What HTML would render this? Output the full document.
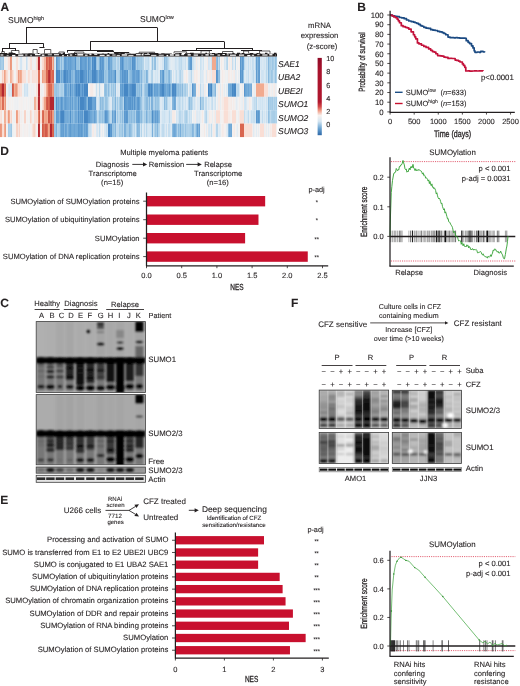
<!DOCTYPE html>
<html><head><meta charset="utf-8"><title>SUMO figure</title>
<style>
html,body{margin:0;padding:0;background:#fff;width:520px;height:686px;overflow:hidden;}
svg{display:block;will-change:transform;}
text{font-family:"Liberation Sans",sans-serif;fill:#231f20;stroke:#231f20;stroke-width:0.1px;text-rendering:geometricPrecision;}
.cd{stroke-width:0.3px;}
</style></head>
<body>
<svg width="520" height="686" viewBox="0 0 520 686">
<defs><filter id="bl4" x="-5%" y="-5%" width="110%" height="110%"><feGaussianBlur stdDeviation="0.4"/></filter><filter id="bl5" x="-5%" y="-5%" width="110%" height="110%"><feGaussianBlur stdDeviation="0.5"/></filter><filter id="bl6" x="-5%" y="-5%" width="110%" height="110%"><feGaussianBlur stdDeviation="0.6"/></filter><filter id="bl7" x="-5%" y="-5%" width="110%" height="110%"><feGaussianBlur stdDeviation="0.7"/></filter><filter id="bl8" x="-5%" y="-5%" width="110%" height="110%"><feGaussianBlur stdDeviation="0.8"/></filter><filter id="bl10" x="-5%" y="-5%" width="110%" height="110%"><feGaussianBlur stdDeviation="1.0"/></filter><filter id="bl12" x="-5%" y="-5%" width="110%" height="110%"><feGaussianBlur stdDeviation="1.2"/></filter><filter id="bl14" x="-5%" y="-5%" width="110%" height="110%"><feGaussianBlur stdDeviation="1.4"/></filter></defs>
<rect x="0" y="0" width="520" height="686" fill="#fff"/>
<rect x="0.00" y="56.60" width="1.08" height="13.48" fill="#9ac4e3"/>
<rect x="1.00" y="56.60" width="1.08" height="13.48" fill="#a9cee7"/>
<rect x="2.00" y="56.60" width="1.08" height="13.48" fill="#a8cde7"/>
<rect x="3.00" y="56.60" width="1.08" height="13.48" fill="#9ac4e3"/>
<rect x="4.00" y="56.60" width="1.08" height="13.48" fill="#f4eeec"/>
<rect x="5.00" y="56.60" width="1.08" height="13.48" fill="#f4edeb"/>
<rect x="6.00" y="56.60" width="1.08" height="13.48" fill="#eff0f2"/>
<rect x="7.00" y="56.60" width="1.08" height="13.48" fill="#f4edeb"/>
<rect x="8.00" y="56.60" width="1.08" height="13.48" fill="#f9dfd7"/>
<rect x="9.00" y="56.60" width="1.08" height="13.48" fill="#f9ded5"/>
<rect x="10.00" y="56.60" width="1.08" height="13.48" fill="#ea967c"/>
<rect x="11.00" y="56.60" width="1.08" height="13.48" fill="#ec9c82"/>
<rect x="12.00" y="56.60" width="1.08" height="13.48" fill="#eef0f2"/>
<rect x="13.00" y="56.60" width="1.08" height="13.48" fill="#f2f2f2"/>
<rect x="14.00" y="56.60" width="1.08" height="13.48" fill="#f3f2f2"/>
<rect x="15.00" y="56.60" width="1.08" height="13.48" fill="#f1f1f2"/>
<rect x="16.00" y="56.60" width="1.08" height="13.48" fill="#f8e2da"/>
<rect x="17.00" y="56.60" width="1.08" height="13.48" fill="#f8e0d8"/>
<rect x="18.00" y="56.60" width="1.08" height="13.48" fill="#f4f0ef"/>
<rect x="19.00" y="56.60" width="1.08" height="13.48" fill="#eceff2"/>
<rect x="20.00" y="56.60" width="1.08" height="13.48" fill="#d5e6f3"/>
<rect x="21.00" y="56.60" width="1.08" height="13.48" fill="#d3e5f3"/>
<rect x="22.00" y="56.60" width="1.08" height="13.48" fill="#eceff2"/>
<rect x="23.00" y="56.60" width="1.08" height="13.48" fill="#f0f1f2"/>
<rect x="24.00" y="56.60" width="1.08" height="13.48" fill="#f3f1f0"/>
<rect x="25.00" y="56.60" width="1.08" height="13.48" fill="#f3f2f2"/>
<rect x="26.00" y="56.60" width="1.08" height="13.48" fill="#cae0f0"/>
<rect x="27.00" y="56.60" width="1.08" height="13.48" fill="#dce9f3"/>
<rect x="28.00" y="56.60" width="1.08" height="13.48" fill="#f4efee"/>
<rect x="29.00" y="56.60" width="1.08" height="13.48" fill="#f4edeb"/>
<rect x="30.00" y="56.60" width="1.08" height="13.48" fill="#f8e3dc"/>
<rect x="31.00" y="56.60" width="1.08" height="13.48" fill="#f8e1d9"/>
<rect x="32.00" y="56.60" width="1.08" height="13.48" fill="#eceff2"/>
<rect x="33.00" y="56.60" width="1.08" height="13.48" fill="#f4efee"/>
<rect x="34.00" y="56.60" width="1.08" height="13.48" fill="#eff1f2"/>
<rect x="35.00" y="56.60" width="1.08" height="13.48" fill="#edf0f2"/>
<rect x="36.00" y="56.60" width="1.08" height="13.48" fill="#f9dfd6"/>
<rect x="37.00" y="56.60" width="1.08" height="13.48" fill="#f7d1c4"/>
<rect x="38.00" y="56.60" width="1.08" height="13.48" fill="#b3262f"/>
<rect x="39.00" y="56.60" width="1.08" height="13.48" fill="#b92f34"/>
<rect x="40.00" y="56.60" width="1.08" height="13.48" fill="#eef0f2"/>
<rect x="41.00" y="56.60" width="1.08" height="13.48" fill="#f4eeec"/>
<rect x="42.00" y="56.60" width="1.08" height="13.48" fill="#f9dcd2"/>
<rect x="43.00" y="56.60" width="1.08" height="13.48" fill="#f8d8cd"/>
<rect x="44.00" y="56.60" width="1.08" height="13.48" fill="#f3b7a0"/>
<rect x="45.00" y="56.60" width="1.08" height="13.48" fill="#f3b8a2"/>
<rect x="46.00" y="56.60" width="1.08" height="13.48" fill="#d55e4b"/>
<rect x="47.00" y="56.60" width="1.08" height="13.48" fill="#da6852"/>
<rect x="48.00" y="56.60" width="1.08" height="13.48" fill="#df775f"/>
<rect x="49.00" y="56.60" width="1.08" height="13.48" fill="#cf5447"/>
<rect x="50.00" y="56.60" width="1.08" height="13.48" fill="#d6604c"/>
<rect x="51.00" y="56.60" width="1.08" height="13.48" fill="#d25a49"/>
<rect x="52.00" y="56.60" width="1.08" height="13.48" fill="#f3b7a0"/>
<rect x="53.00" y="56.60" width="1.08" height="13.48" fill="#ec9b81"/>
<rect x="54.00" y="56.60" width="1.08" height="13.48" fill="#cae0f0"/>
<rect x="55.00" y="56.60" width="1.08" height="13.48" fill="#dae8f3"/>
<rect x="56.00" y="56.60" width="1.08" height="13.48" fill="#5a97cd"/>
<rect x="57.00" y="56.60" width="1.08" height="13.48" fill="#6ca6d6"/>
<rect x="58.00" y="56.60" width="1.08" height="13.48" fill="#7aafda"/>
<rect x="59.00" y="56.60" width="1.08" height="13.48" fill="#7fb2db"/>
<rect x="60.00" y="56.60" width="1.08" height="13.48" fill="#acd0e8"/>
<rect x="61.00" y="56.60" width="1.08" height="13.48" fill="#8bbadf"/>
<rect x="62.00" y="56.60" width="1.08" height="13.48" fill="#add0e9"/>
<rect x="63.00" y="56.60" width="1.08" height="13.48" fill="#9ec7e4"/>
<rect x="64.00" y="56.60" width="1.08" height="13.48" fill="#639ed2"/>
<rect x="65.00" y="56.60" width="1.08" height="13.48" fill="#609cd0"/>
<rect x="66.00" y="56.60" width="1.08" height="13.48" fill="#6aa4d5"/>
<rect x="67.00" y="56.60" width="1.08" height="13.48" fill="#75abd8"/>
<rect x="68.00" y="56.60" width="1.08" height="13.48" fill="#64a0d2"/>
<rect x="69.00" y="56.60" width="1.08" height="13.48" fill="#6ba4d5"/>
<rect x="70.00" y="56.60" width="1.08" height="13.48" fill="#629ed1"/>
<rect x="71.00" y="56.60" width="1.08" height="13.48" fill="#6ca5d6"/>
<rect x="72.00" y="56.60" width="1.08" height="13.48" fill="#72a9d7"/>
<rect x="73.00" y="56.60" width="1.08" height="13.48" fill="#77add9"/>
<rect x="74.00" y="56.60" width="1.08" height="13.48" fill="#75abd8"/>
<rect x="75.00" y="56.60" width="1.08" height="13.48" fill="#5795cc"/>
<rect x="76.00" y="56.60" width="1.08" height="13.48" fill="#94c0e1"/>
<rect x="77.00" y="56.60" width="1.08" height="13.48" fill="#99c4e3"/>
<rect x="78.00" y="56.60" width="1.08" height="13.48" fill="#95c1e1"/>
<rect x="79.00" y="56.60" width="1.08" height="13.48" fill="#a4cbe6"/>
<rect x="80.00" y="56.60" width="1.08" height="13.48" fill="#5795cc"/>
<rect x="81.00" y="56.60" width="1.08" height="13.48" fill="#5d99cf"/>
<rect x="82.00" y="56.60" width="1.08" height="13.48" fill="#67a1d3"/>
<rect x="83.00" y="56.60" width="1.08" height="13.48" fill="#69a3d4"/>
<rect x="84.00" y="56.60" width="1.08" height="13.48" fill="#66a1d3"/>
<rect x="85.00" y="56.60" width="1.08" height="13.48" fill="#609cd0"/>
<rect x="86.00" y="56.60" width="1.08" height="13.48" fill="#66a1d3"/>
<rect x="87.00" y="56.60" width="1.08" height="13.48" fill="#8bbadf"/>
<rect x="88.00" y="56.60" width="1.08" height="13.48" fill="#5a97cd"/>
<rect x="89.00" y="56.60" width="1.08" height="13.48" fill="#69a3d4"/>
<rect x="90.00" y="56.60" width="1.08" height="13.48" fill="#74abd8"/>
<rect x="91.00" y="56.60" width="1.08" height="13.48" fill="#92bfe1"/>
<rect x="92.00" y="56.60" width="1.08" height="13.48" fill="#4c8cc7"/>
<rect x="93.00" y="56.60" width="1.08" height="13.48" fill="#5a97ce"/>
<rect x="94.00" y="56.60" width="1.08" height="13.48" fill="#4687c4"/>
<rect x="95.00" y="56.60" width="1.08" height="13.48" fill="#4788c4"/>
<rect x="96.00" y="56.60" width="1.08" height="13.48" fill="#99c3e3"/>
<rect x="97.00" y="56.60" width="1.08" height="13.48" fill="#afd1e9"/>
<rect x="98.00" y="56.60" width="1.08" height="13.48" fill="#a9cee7"/>
<rect x="99.00" y="56.60" width="1.08" height="13.48" fill="#83b5dc"/>
<rect x="100.00" y="56.60" width="1.08" height="13.48" fill="#5593cb"/>
<rect x="101.00" y="56.60" width="1.08" height="13.48" fill="#67a2d4"/>
<rect x="102.00" y="56.60" width="1.08" height="13.48" fill="#5b98ce"/>
<rect x="103.00" y="56.60" width="1.08" height="13.48" fill="#619dd1"/>
<rect x="104.00" y="56.60" width="1.08" height="13.48" fill="#98c3e2"/>
<rect x="105.00" y="56.60" width="1.08" height="13.48" fill="#a5cce6"/>
<rect x="106.00" y="56.60" width="1.08" height="13.48" fill="#99c4e3"/>
<rect x="107.00" y="56.60" width="1.08" height="13.48" fill="#a6cce7"/>
<rect x="108.00" y="56.60" width="1.08" height="13.48" fill="#609cd0"/>
<rect x="109.00" y="56.60" width="1.08" height="13.48" fill="#66a0d3"/>
<rect x="110.00" y="56.60" width="1.08" height="13.48" fill="#79aed9"/>
<rect x="111.00" y="56.60" width="1.08" height="13.48" fill="#72aad7"/>
<rect x="112.00" y="56.60" width="1.08" height="13.48" fill="#97c2e2"/>
<rect x="113.00" y="56.60" width="1.08" height="13.48" fill="#a7cde7"/>
<rect x="114.00" y="56.60" width="1.08" height="13.48" fill="#a4cbe6"/>
<rect x="115.00" y="56.60" width="1.08" height="13.48" fill="#9fc8e5"/>
<rect x="116.00" y="56.60" width="1.08" height="13.48" fill="#c5deef"/>
<rect x="117.00" y="56.60" width="1.08" height="13.48" fill="#b2d3ea"/>
<rect x="118.00" y="56.60" width="1.08" height="13.48" fill="#accfe8"/>
<rect x="119.00" y="56.60" width="1.08" height="13.48" fill="#c1dbee"/>
<rect x="120.00" y="56.60" width="1.08" height="13.48" fill="#629dd1"/>
<rect x="121.00" y="56.60" width="1.08" height="13.48" fill="#639ed2"/>
<rect x="122.00" y="56.60" width="1.08" height="13.48" fill="#5190c9"/>
<rect x="123.00" y="56.60" width="1.08" height="13.48" fill="#6ca5d6"/>
<rect x="124.00" y="56.60" width="1.08" height="13.48" fill="#8cbbdf"/>
<rect x="125.00" y="56.60" width="1.08" height="13.48" fill="#8ebcdf"/>
<rect x="126.00" y="56.60" width="1.08" height="13.48" fill="#89b9de"/>
<rect x="127.00" y="56.60" width="1.08" height="13.48" fill="#93bfe1"/>
<rect x="128.00" y="56.60" width="1.08" height="13.48" fill="#88b8de"/>
<rect x="129.00" y="56.60" width="1.08" height="13.48" fill="#83b5dc"/>
<rect x="130.00" y="56.60" width="1.08" height="13.48" fill="#79aed9"/>
<rect x="131.00" y="56.60" width="1.08" height="13.48" fill="#8ebcdf"/>
<rect x="132.00" y="56.60" width="1.08" height="13.48" fill="#5290c9"/>
<rect x="133.00" y="56.60" width="1.08" height="13.48" fill="#5a97cd"/>
<rect x="134.00" y="56.60" width="1.08" height="13.48" fill="#5694cb"/>
<rect x="135.00" y="56.60" width="1.08" height="13.48" fill="#73aad8"/>
<rect x="136.00" y="56.60" width="1.08" height="13.48" fill="#accfe8"/>
<rect x="137.00" y="56.60" width="1.08" height="13.48" fill="#93bfe1"/>
<rect x="138.00" y="56.60" width="1.08" height="13.48" fill="#a1c9e5"/>
<rect x="139.00" y="56.60" width="1.08" height="13.48" fill="#a2cae6"/>
<rect x="140.00" y="56.60" width="1.08" height="13.48" fill="#a5cce6"/>
<rect x="141.00" y="56.60" width="1.08" height="13.48" fill="#a0c8e5"/>
<rect x="142.00" y="56.60" width="1.08" height="13.48" fill="#afd1e9"/>
<rect x="143.00" y="56.60" width="1.08" height="13.48" fill="#b3d4ea"/>
<rect x="144.00" y="56.60" width="1.08" height="13.48" fill="#deeaf3"/>
<rect x="145.00" y="56.60" width="1.08" height="13.48" fill="#c8dff0"/>
<rect x="146.00" y="56.60" width="1.08" height="13.48" fill="#cae0f0"/>
<rect x="147.00" y="56.60" width="1.08" height="13.48" fill="#c8dff0"/>
<rect x="148.00" y="56.60" width="1.08" height="13.48" fill="#bedaed"/>
<rect x="149.00" y="56.60" width="1.08" height="13.48" fill="#d5e6f3"/>
<rect x="150.00" y="56.60" width="1.08" height="13.48" fill="#e6edf2"/>
<rect x="151.00" y="56.60" width="1.08" height="13.48" fill="#cae0f0"/>
<rect x="152.00" y="56.60" width="1.08" height="13.48" fill="#95c1e1"/>
<rect x="153.00" y="56.60" width="1.08" height="13.48" fill="#c2dcee"/>
<rect x="154.00" y="56.60" width="1.08" height="13.48" fill="#97c2e2"/>
<rect x="155.00" y="56.60" width="1.08" height="13.48" fill="#93bfe1"/>
<rect x="156.00" y="56.60" width="1.08" height="13.48" fill="#d5e7f3"/>
<rect x="157.00" y="56.60" width="1.08" height="13.48" fill="#cbe1f1"/>
<rect x="158.00" y="56.60" width="1.08" height="13.48" fill="#dbe9f3"/>
<rect x="159.00" y="56.60" width="1.08" height="13.48" fill="#e8eef2"/>
<rect x="160.00" y="56.60" width="1.08" height="13.48" fill="#e0ebf3"/>
<rect x="161.00" y="56.60" width="1.08" height="13.48" fill="#e2ebf3"/>
<rect x="162.00" y="56.60" width="1.08" height="13.48" fill="#d0e4f2"/>
<rect x="163.00" y="56.60" width="1.08" height="13.48" fill="#d4e6f3"/>
<rect x="164.00" y="56.60" width="1.08" height="13.48" fill="#88b8de"/>
<rect x="165.00" y="56.60" width="1.08" height="13.48" fill="#9fc8e5"/>
<rect x="166.00" y="56.60" width="1.08" height="13.48" fill="#97c2e2"/>
<rect x="167.00" y="56.60" width="1.08" height="13.48" fill="#abcfe8"/>
<rect x="168.00" y="56.60" width="1.08" height="13.48" fill="#bfdaed"/>
<rect x="169.00" y="56.60" width="1.08" height="13.48" fill="#d3e6f3"/>
<rect x="170.00" y="56.60" width="1.08" height="13.48" fill="#deeaf3"/>
<rect x="171.00" y="56.60" width="1.08" height="13.48" fill="#e4ecf2"/>
<rect x="172.00" y="56.60" width="1.08" height="13.48" fill="#e1ebf3"/>
<rect x="173.00" y="56.60" width="1.08" height="13.48" fill="#e0ebf3"/>
<rect x="174.00" y="56.60" width="1.08" height="13.48" fill="#dde9f3"/>
<rect x="175.00" y="56.60" width="1.08" height="13.48" fill="#cee2f1"/>
<rect x="176.00" y="56.60" width="1.08" height="13.48" fill="#d2e5f3"/>
<rect x="177.00" y="56.60" width="1.08" height="13.48" fill="#dae8f3"/>
<rect x="178.00" y="56.60" width="1.08" height="13.48" fill="#cee3f1"/>
<rect x="179.00" y="56.60" width="1.08" height="13.48" fill="#c1dbee"/>
<rect x="180.00" y="56.60" width="1.08" height="13.48" fill="#c5deef"/>
<rect x="181.00" y="56.60" width="1.08" height="13.48" fill="#bcd8ec"/>
<rect x="182.00" y="56.60" width="1.08" height="13.48" fill="#d2e5f2"/>
<rect x="183.00" y="56.60" width="1.08" height="13.48" fill="#d4e6f3"/>
<rect x="184.00" y="56.60" width="1.08" height="13.48" fill="#d8e7f3"/>
<rect x="185.00" y="56.60" width="1.08" height="13.48" fill="#cae0f0"/>
<rect x="186.00" y="56.60" width="1.08" height="13.48" fill="#e5edf2"/>
<rect x="187.00" y="56.60" width="1.08" height="13.48" fill="#dbe9f3"/>
<rect x="188.00" y="56.60" width="1.08" height="13.48" fill="#8bbbdf"/>
<rect x="189.00" y="56.60" width="1.08" height="13.48" fill="#76acd9"/>
<rect x="190.00" y="56.60" width="1.08" height="13.48" fill="#619dd1"/>
<rect x="191.00" y="56.60" width="1.08" height="13.48" fill="#5e9acf"/>
<rect x="192.00" y="56.60" width="1.08" height="13.48" fill="#c6deef"/>
<rect x="193.00" y="56.60" width="1.08" height="13.48" fill="#cde2f1"/>
<rect x="194.00" y="56.60" width="1.08" height="13.48" fill="#ddeaf3"/>
<rect x="195.00" y="56.60" width="1.08" height="13.48" fill="#e2ebf3"/>
<rect x="196.00" y="56.60" width="1.08" height="13.48" fill="#f5eae6"/>
<rect x="197.00" y="56.60" width="1.08" height="13.48" fill="#e9eef2"/>
<rect x="198.00" y="56.60" width="1.08" height="13.48" fill="#f0f1f2"/>
<rect x="199.00" y="56.60" width="1.08" height="13.48" fill="#f4f0ef"/>
<rect x="200.00" y="56.60" width="1.08" height="13.48" fill="#cae1f0"/>
<rect x="201.00" y="56.60" width="1.08" height="13.48" fill="#d4e6f3"/>
<rect x="202.00" y="56.60" width="1.08" height="13.48" fill="#e1ebf3"/>
<rect x="203.00" y="56.60" width="1.08" height="13.48" fill="#d0e4f2"/>
<rect x="204.00" y="56.60" width="1.08" height="13.48" fill="#f0f1f2"/>
<rect x="205.00" y="56.60" width="1.08" height="13.48" fill="#edf0f2"/>
<rect x="206.00" y="56.60" width="1.08" height="13.48" fill="#eef0f2"/>
<rect x="207.00" y="56.60" width="1.08" height="13.48" fill="#f5eae7"/>
<rect x="208.00" y="56.60" width="1.08" height="13.48" fill="#d3e5f3"/>
<rect x="209.00" y="56.60" width="1.08" height="13.48" fill="#d8e7f3"/>
<rect x="210.00" y="56.60" width="1.08" height="13.48" fill="#e2ebf3"/>
<rect x="211.00" y="56.60" width="1.08" height="13.48" fill="#cee3f1"/>
<rect x="212.00" y="56.60" width="1.08" height="13.48" fill="#f1aa8f"/>
<rect x="213.00" y="56.60" width="1.08" height="13.48" fill="#f1aa8f"/>
<rect x="214.00" y="56.60" width="1.08" height="13.48" fill="#f1aa8f"/>
<rect x="215.00" y="56.60" width="1.08" height="13.48" fill="#f1aa8f"/>
<rect x="216.00" y="56.60" width="1.08" height="13.48" fill="#8fbde0"/>
<rect x="217.00" y="56.60" width="1.08" height="13.48" fill="#82b4dc"/>
<rect x="218.00" y="56.60" width="1.08" height="13.48" fill="#c3dcee"/>
<rect x="219.00" y="56.60" width="1.08" height="13.48" fill="#a7cde7"/>
<rect x="220.00" y="56.60" width="1.08" height="13.48" fill="#f3f2f2"/>
<rect x="221.00" y="56.60" width="1.08" height="13.48" fill="#f5eae6"/>
<rect x="222.00" y="56.60" width="1.08" height="13.48" fill="#f4f0ef"/>
<rect x="223.00" y="56.60" width="1.08" height="13.48" fill="#f4f0ef"/>
<rect x="224.00" y="56.60" width="1.08" height="13.48" fill="#d7e7f3"/>
<rect x="225.00" y="56.60" width="1.08" height="13.48" fill="#e0eaf3"/>
<rect x="226.00" y="56.60" width="1.08" height="13.48" fill="#c2dcee"/>
<rect x="227.00" y="56.60" width="1.08" height="13.48" fill="#b7d6eb"/>
<rect x="228.00" y="56.60" width="1.08" height="13.48" fill="#f4eeec"/>
<rect x="229.00" y="56.60" width="1.08" height="13.48" fill="#f5eae6"/>
<rect x="230.00" y="56.60" width="1.08" height="13.48" fill="#edf0f2"/>
<rect x="231.00" y="56.60" width="1.08" height="13.48" fill="#f5eae6"/>
<rect x="232.00" y="56.60" width="1.08" height="13.48" fill="#c5deef"/>
<rect x="233.00" y="56.60" width="1.08" height="13.48" fill="#dfeaf3"/>
<rect x="234.00" y="56.60" width="1.08" height="13.48" fill="#e7edf2"/>
<rect x="235.00" y="56.60" width="1.08" height="13.48" fill="#bbd8ec"/>
<rect x="236.00" y="56.60" width="1.08" height="13.48" fill="#f3f2f2"/>
<rect x="237.00" y="56.60" width="1.08" height="13.48" fill="#edf0f2"/>
<rect x="238.00" y="56.60" width="1.08" height="13.48" fill="#f3f1f1"/>
<rect x="239.00" y="56.60" width="1.08" height="13.48" fill="#f4eeec"/>
<rect x="240.00" y="56.60" width="1.08" height="13.48" fill="#5b98ce"/>
<rect x="241.00" y="56.60" width="1.08" height="13.48" fill="#76acd8"/>
<rect x="242.00" y="56.60" width="1.08" height="13.48" fill="#5e9acf"/>
<rect x="243.00" y="56.60" width="1.08" height="13.48" fill="#6ca5d6"/>
<rect x="244.00" y="56.60" width="1.08" height="13.48" fill="#bdd9ed"/>
<rect x="245.00" y="56.60" width="1.08" height="13.48" fill="#d2e5f2"/>
<rect x="246.00" y="56.60" width="1.08" height="13.48" fill="#d5e6f3"/>
<rect x="247.00" y="56.60" width="1.08" height="13.48" fill="#dbe9f3"/>
<rect x="248.00" y="56.60" width="1.08" height="13.48" fill="#c4ddef"/>
<rect x="249.00" y="56.60" width="1.08" height="13.48" fill="#dce9f3"/>
<rect x="250.00" y="56.60" width="1.08" height="13.48" fill="#cee3f1"/>
<rect x="251.00" y="56.60" width="1.08" height="13.48" fill="#dce9f3"/>
<rect x="252.00" y="56.60" width="1.08" height="13.48" fill="#c4ddef"/>
<rect x="253.00" y="56.60" width="1.08" height="13.48" fill="#c8dff0"/>
<rect x="254.00" y="56.60" width="1.08" height="13.48" fill="#dae8f3"/>
<rect x="255.00" y="56.60" width="1.08" height="13.48" fill="#bad7ec"/>
<rect x="256.00" y="56.60" width="1.08" height="13.48" fill="#65a0d2"/>
<rect x="257.00" y="56.60" width="1.08" height="13.48" fill="#82b4dc"/>
<rect x="258.00" y="56.60" width="1.08" height="13.48" fill="#6aa4d5"/>
<rect x="259.00" y="56.60" width="1.08" height="13.48" fill="#649fd2"/>
<rect x="260.00" y="56.60" width="1.08" height="13.48" fill="#d8e7f3"/>
<rect x="261.00" y="56.60" width="1.08" height="13.48" fill="#d3e5f3"/>
<rect x="262.00" y="56.60" width="1.08" height="13.48" fill="#dae8f3"/>
<rect x="263.00" y="56.60" width="1.08" height="13.48" fill="#d6e7f3"/>
<rect x="264.00" y="56.60" width="1.08" height="13.48" fill="#d2e5f2"/>
<rect x="265.00" y="56.60" width="1.08" height="13.48" fill="#dae8f3"/>
<rect x="266.00" y="56.60" width="1.08" height="13.48" fill="#bbd8ec"/>
<rect x="267.00" y="56.60" width="1.08" height="13.48" fill="#c7dff0"/>
<rect x="268.00" y="56.60" width="1.08" height="13.48" fill="#87b7dd"/>
<rect x="269.00" y="56.60" width="1.08" height="13.48" fill="#a6cce6"/>
<rect x="270.00" y="56.60" width="1.08" height="13.48" fill="#a9cee7"/>
<rect x="271.00" y="56.60" width="1.08" height="13.48" fill="#b3d3ea"/>
<rect x="272.00" y="56.60" width="1.08" height="13.48" fill="#9dc6e4"/>
<rect x="273.00" y="56.60" width="1.08" height="13.48" fill="#a7cde7"/>
<rect x="274.00" y="56.60" width="1.08" height="13.48" fill="#b6d5eb"/>
<rect x="275.00" y="56.60" width="1.08" height="13.48" fill="#94c1e1"/>
<rect x="276.00" y="56.60" width="1.08" height="13.48" fill="#a5cbe6"/>
<rect x="0.00" y="70.00" width="1.08" height="13.48" fill="#f3f1f0"/>
<rect x="1.00" y="70.00" width="1.08" height="13.48" fill="#f4eeec"/>
<rect x="2.00" y="70.00" width="1.08" height="13.48" fill="#f7d0c2"/>
<rect x="3.00" y="70.00" width="1.08" height="13.48" fill="#f9dcd3"/>
<rect x="4.00" y="70.00" width="1.08" height="13.48" fill="#eea187"/>
<rect x="5.00" y="70.00" width="1.08" height="13.48" fill="#f3b8a2"/>
<rect x="6.00" y="70.00" width="1.08" height="13.48" fill="#f8d7cb"/>
<rect x="7.00" y="70.00" width="1.08" height="13.48" fill="#f9dfd6"/>
<rect x="8.00" y="70.00" width="1.08" height="13.48" fill="#f4efee"/>
<rect x="9.00" y="70.00" width="1.08" height="13.48" fill="#f3f1f0"/>
<rect x="10.00" y="70.00" width="1.08" height="13.48" fill="#f2b198"/>
<rect x="11.00" y="70.00" width="1.08" height="13.48" fill="#f3b8a2"/>
<rect x="12.00" y="70.00" width="1.08" height="13.48" fill="#f7d1c3"/>
<rect x="13.00" y="70.00" width="1.08" height="13.48" fill="#f8e2db"/>
<rect x="14.00" y="70.00" width="1.08" height="13.48" fill="#f3f2f2"/>
<rect x="15.00" y="70.00" width="1.08" height="13.48" fill="#f1f1f2"/>
<rect x="16.00" y="70.00" width="1.08" height="13.48" fill="#f8e0d9"/>
<rect x="17.00" y="70.00" width="1.08" height="13.48" fill="#f8d7cb"/>
<rect x="18.00" y="70.00" width="1.08" height="13.48" fill="#ea967d"/>
<rect x="19.00" y="70.00" width="1.08" height="13.48" fill="#f2b199"/>
<rect x="20.00" y="70.00" width="1.08" height="13.48" fill="#efa489"/>
<rect x="21.00" y="70.00" width="1.08" height="13.48" fill="#f2b097"/>
<rect x="22.00" y="70.00" width="1.08" height="13.48" fill="#f9dcd3"/>
<rect x="23.00" y="70.00" width="1.08" height="13.48" fill="#f9dfd7"/>
<rect x="24.00" y="70.00" width="1.08" height="13.48" fill="#f8e2db"/>
<rect x="25.00" y="70.00" width="1.08" height="13.48" fill="#f8e2db"/>
<rect x="26.00" y="70.00" width="1.08" height="13.48" fill="#eef0f2"/>
<rect x="27.00" y="70.00" width="1.08" height="13.48" fill="#f4eeec"/>
<rect x="28.00" y="70.00" width="1.08" height="13.48" fill="#f9ded5"/>
<rect x="29.00" y="70.00" width="1.08" height="13.48" fill="#f8e1da"/>
<rect x="30.00" y="70.00" width="1.08" height="13.48" fill="#f4eeec"/>
<rect x="31.00" y="70.00" width="1.08" height="13.48" fill="#f4edeb"/>
<rect x="32.00" y="70.00" width="1.08" height="13.48" fill="#f9dfd6"/>
<rect x="33.00" y="70.00" width="1.08" height="13.48" fill="#f8e2db"/>
<rect x="34.00" y="70.00" width="1.08" height="13.48" fill="#f8e2da"/>
<rect x="35.00" y="70.00" width="1.08" height="13.48" fill="#f8e3dc"/>
<rect x="36.00" y="70.00" width="1.08" height="13.48" fill="#f8e0d8"/>
<rect x="37.00" y="70.00" width="1.08" height="13.48" fill="#f8e3dc"/>
<rect x="38.00" y="70.00" width="1.08" height="13.48" fill="#dd7059"/>
<rect x="39.00" y="70.00" width="1.08" height="13.48" fill="#dc6f58"/>
<rect x="40.00" y="70.00" width="1.08" height="13.48" fill="#f3f1f1"/>
<rect x="41.00" y="70.00" width="1.08" height="13.48" fill="#f4eeec"/>
<rect x="42.00" y="70.00" width="1.08" height="13.48" fill="#eda085"/>
<rect x="43.00" y="70.00" width="1.08" height="13.48" fill="#f1ad93"/>
<rect x="44.00" y="70.00" width="1.08" height="13.48" fill="#f1ad93"/>
<rect x="45.00" y="70.00" width="1.08" height="13.48" fill="#f1a98e"/>
<rect x="46.00" y="70.00" width="1.08" height="13.48" fill="#db6a54"/>
<rect x="47.00" y="70.00" width="1.08" height="13.48" fill="#db6c55"/>
<rect x="48.00" y="70.00" width="1.08" height="13.48" fill="#bd3737"/>
<rect x="49.00" y="70.00" width="1.08" height="13.48" fill="#b82e33"/>
<rect x="50.00" y="70.00" width="1.08" height="13.48" fill="#ce5346"/>
<rect x="51.00" y="70.00" width="1.08" height="13.48" fill="#de745d"/>
<rect x="52.00" y="70.00" width="1.08" height="13.48" fill="#d9654f"/>
<rect x="53.00" y="70.00" width="1.08" height="13.48" fill="#d6604d"/>
<rect x="54.00" y="70.00" width="1.08" height="13.48" fill="#dae8f3"/>
<rect x="55.00" y="70.00" width="1.08" height="13.48" fill="#cde2f1"/>
<rect x="56.00" y="70.00" width="1.08" height="13.48" fill="#4687c4"/>
<rect x="57.00" y="70.00" width="1.08" height="13.48" fill="#4687c4"/>
<rect x="58.00" y="70.00" width="1.08" height="13.48" fill="#4c8cc7"/>
<rect x="59.00" y="70.00" width="1.08" height="13.48" fill="#4788c4"/>
<rect x="60.00" y="70.00" width="1.08" height="13.48" fill="#90bee0"/>
<rect x="61.00" y="70.00" width="1.08" height="13.48" fill="#6ea7d6"/>
<rect x="62.00" y="70.00" width="1.08" height="13.48" fill="#83b5dc"/>
<rect x="63.00" y="70.00" width="1.08" height="13.48" fill="#619dd1"/>
<rect x="64.00" y="70.00" width="1.08" height="13.48" fill="#4687c4"/>
<rect x="65.00" y="70.00" width="1.08" height="13.48" fill="#4a8ac6"/>
<rect x="66.00" y="70.00" width="1.08" height="13.48" fill="#5b98ce"/>
<rect x="67.00" y="70.00" width="1.08" height="13.48" fill="#5492ca"/>
<rect x="68.00" y="70.00" width="1.08" height="13.48" fill="#6ca5d6"/>
<rect x="69.00" y="70.00" width="1.08" height="13.48" fill="#639ed2"/>
<rect x="70.00" y="70.00" width="1.08" height="13.48" fill="#5996cd"/>
<rect x="71.00" y="70.00" width="1.08" height="13.48" fill="#86b7dd"/>
<rect x="72.00" y="70.00" width="1.08" height="13.48" fill="#7fb2db"/>
<rect x="73.00" y="70.00" width="1.08" height="13.48" fill="#92bfe1"/>
<rect x="74.00" y="70.00" width="1.08" height="13.48" fill="#8ebce0"/>
<rect x="75.00" y="70.00" width="1.08" height="13.48" fill="#5d99cf"/>
<rect x="76.00" y="70.00" width="1.08" height="13.48" fill="#5c99cf"/>
<rect x="77.00" y="70.00" width="1.08" height="13.48" fill="#67a1d3"/>
<rect x="78.00" y="70.00" width="1.08" height="13.48" fill="#5b98ce"/>
<rect x="79.00" y="70.00" width="1.08" height="13.48" fill="#6fa8d7"/>
<rect x="80.00" y="70.00" width="1.08" height="13.48" fill="#4687c4"/>
<rect x="81.00" y="70.00" width="1.08" height="13.48" fill="#4687c4"/>
<rect x="82.00" y="70.00" width="1.08" height="13.48" fill="#4687c4"/>
<rect x="83.00" y="70.00" width="1.08" height="13.48" fill="#5593cb"/>
<rect x="84.00" y="70.00" width="1.08" height="13.48" fill="#5d99cf"/>
<rect x="85.00" y="70.00" width="1.08" height="13.48" fill="#639ed2"/>
<rect x="86.00" y="70.00" width="1.08" height="13.48" fill="#5b98ce"/>
<rect x="87.00" y="70.00" width="1.08" height="13.48" fill="#89b9de"/>
<rect x="88.00" y="70.00" width="1.08" height="13.48" fill="#5694cb"/>
<rect x="89.00" y="70.00" width="1.08" height="13.48" fill="#78aed9"/>
<rect x="90.00" y="70.00" width="1.08" height="13.48" fill="#72aad7"/>
<rect x="91.00" y="70.00" width="1.08" height="13.48" fill="#76acd9"/>
<rect x="92.00" y="70.00" width="1.08" height="13.48" fill="#4788c4"/>
<rect x="93.00" y="70.00" width="1.08" height="13.48" fill="#4c8bc7"/>
<rect x="94.00" y="70.00" width="1.08" height="13.48" fill="#4687c4"/>
<rect x="95.00" y="70.00" width="1.08" height="13.48" fill="#4889c5"/>
<rect x="96.00" y="70.00" width="1.08" height="13.48" fill="#5c98ce"/>
<rect x="97.00" y="70.00" width="1.08" height="13.48" fill="#6da6d6"/>
<rect x="98.00" y="70.00" width="1.08" height="13.48" fill="#83b5dc"/>
<rect x="99.00" y="70.00" width="1.08" height="13.48" fill="#619dd1"/>
<rect x="100.00" y="70.00" width="1.08" height="13.48" fill="#5d99cf"/>
<rect x="101.00" y="70.00" width="1.08" height="13.48" fill="#5a97ce"/>
<rect x="102.00" y="70.00" width="1.08" height="13.48" fill="#649fd2"/>
<rect x="103.00" y="70.00" width="1.08" height="13.48" fill="#5d9acf"/>
<rect x="104.00" y="70.00" width="1.08" height="13.48" fill="#a1c9e5"/>
<rect x="105.00" y="70.00" width="1.08" height="13.48" fill="#96c2e2"/>
<rect x="106.00" y="70.00" width="1.08" height="13.48" fill="#9dc6e4"/>
<rect x="107.00" y="70.00" width="1.08" height="13.48" fill="#a5cce6"/>
<rect x="108.00" y="70.00" width="1.08" height="13.48" fill="#73aad8"/>
<rect x="109.00" y="70.00" width="1.08" height="13.48" fill="#6ca6d6"/>
<rect x="110.00" y="70.00" width="1.08" height="13.48" fill="#77add9"/>
<rect x="111.00" y="70.00" width="1.08" height="13.48" fill="#6aa4d5"/>
<rect x="112.00" y="70.00" width="1.08" height="13.48" fill="#7eb1db"/>
<rect x="113.00" y="70.00" width="1.08" height="13.48" fill="#78aed9"/>
<rect x="114.00" y="70.00" width="1.08" height="13.48" fill="#6ba5d5"/>
<rect x="115.00" y="70.00" width="1.08" height="13.48" fill="#4f8fc8"/>
<rect x="116.00" y="70.00" width="1.08" height="13.48" fill="#b5d5eb"/>
<rect x="117.00" y="70.00" width="1.08" height="13.48" fill="#b6d5eb"/>
<rect x="118.00" y="70.00" width="1.08" height="13.48" fill="#b1d3ea"/>
<rect x="119.00" y="70.00" width="1.08" height="13.48" fill="#a9cee7"/>
<rect x="120.00" y="70.00" width="1.08" height="13.48" fill="#6ba5d5"/>
<rect x="121.00" y="70.00" width="1.08" height="13.48" fill="#76acd9"/>
<rect x="122.00" y="70.00" width="1.08" height="13.48" fill="#5694cc"/>
<rect x="123.00" y="70.00" width="1.08" height="13.48" fill="#639ed2"/>
<rect x="124.00" y="70.00" width="1.08" height="13.48" fill="#5895cc"/>
<rect x="125.00" y="70.00" width="1.08" height="13.48" fill="#5a97cd"/>
<rect x="126.00" y="70.00" width="1.08" height="13.48" fill="#65a0d3"/>
<rect x="127.00" y="70.00" width="1.08" height="13.48" fill="#5795cc"/>
<rect x="128.00" y="70.00" width="1.08" height="13.48" fill="#a7cde7"/>
<rect x="129.00" y="70.00" width="1.08" height="13.48" fill="#96c2e2"/>
<rect x="130.00" y="70.00" width="1.08" height="13.48" fill="#8abade"/>
<rect x="131.00" y="70.00" width="1.08" height="13.48" fill="#86b7dd"/>
<rect x="132.00" y="70.00" width="1.08" height="13.48" fill="#69a3d4"/>
<rect x="133.00" y="70.00" width="1.08" height="13.48" fill="#619dd1"/>
<rect x="134.00" y="70.00" width="1.08" height="13.48" fill="#639ed2"/>
<rect x="135.00" y="70.00" width="1.08" height="13.48" fill="#73aad8"/>
<rect x="136.00" y="70.00" width="1.08" height="13.48" fill="#67a1d3"/>
<rect x="137.00" y="70.00" width="1.08" height="13.48" fill="#65a0d3"/>
<rect x="138.00" y="70.00" width="1.08" height="13.48" fill="#5d99cf"/>
<rect x="139.00" y="70.00" width="1.08" height="13.48" fill="#74abd8"/>
<rect x="140.00" y="70.00" width="1.08" height="13.48" fill="#9dc6e4"/>
<rect x="141.00" y="70.00" width="1.08" height="13.48" fill="#84b5dd"/>
<rect x="142.00" y="70.00" width="1.08" height="13.48" fill="#aacee8"/>
<rect x="143.00" y="70.00" width="1.08" height="13.48" fill="#b7d5eb"/>
<rect x="144.00" y="70.00" width="1.08" height="13.48" fill="#a8cde7"/>
<rect x="145.00" y="70.00" width="1.08" height="13.48" fill="#b2d3ea"/>
<rect x="146.00" y="70.00" width="1.08" height="13.48" fill="#80b3db"/>
<rect x="147.00" y="70.00" width="1.08" height="13.48" fill="#8bbadf"/>
<rect x="148.00" y="70.00" width="1.08" height="13.48" fill="#c4ddef"/>
<rect x="149.00" y="70.00" width="1.08" height="13.48" fill="#d8e7f3"/>
<rect x="150.00" y="70.00" width="1.08" height="13.48" fill="#d5e7f3"/>
<rect x="151.00" y="70.00" width="1.08" height="13.48" fill="#b6d5eb"/>
<rect x="152.00" y="70.00" width="1.08" height="13.48" fill="#b1d2e9"/>
<rect x="153.00" y="70.00" width="1.08" height="13.48" fill="#deeaf3"/>
<rect x="154.00" y="70.00" width="1.08" height="13.48" fill="#ddeaf3"/>
<rect x="155.00" y="70.00" width="1.08" height="13.48" fill="#d2e5f2"/>
<rect x="156.00" y="70.00" width="1.08" height="13.48" fill="#dae8f3"/>
<rect x="157.00" y="70.00" width="1.08" height="13.48" fill="#d0e4f2"/>
<rect x="158.00" y="70.00" width="1.08" height="13.48" fill="#deeaf3"/>
<rect x="159.00" y="70.00" width="1.08" height="13.48" fill="#deeaf3"/>
<rect x="160.00" y="70.00" width="1.08" height="13.48" fill="#70a8d7"/>
<rect x="161.00" y="70.00" width="1.08" height="13.48" fill="#86b7dd"/>
<rect x="162.00" y="70.00" width="1.08" height="13.48" fill="#68a3d4"/>
<rect x="163.00" y="70.00" width="1.08" height="13.48" fill="#5a97cd"/>
<rect x="164.00" y="70.00" width="1.08" height="13.48" fill="#99c4e3"/>
<rect x="165.00" y="70.00" width="1.08" height="13.48" fill="#accfe8"/>
<rect x="166.00" y="70.00" width="1.08" height="13.48" fill="#a1c9e5"/>
<rect x="167.00" y="70.00" width="1.08" height="13.48" fill="#aacfe8"/>
<rect x="168.00" y="70.00" width="1.08" height="13.48" fill="#8ebcdf"/>
<rect x="169.00" y="70.00" width="1.08" height="13.48" fill="#81b4dc"/>
<rect x="170.00" y="70.00" width="1.08" height="13.48" fill="#aacee8"/>
<rect x="171.00" y="70.00" width="1.08" height="13.48" fill="#b4d4ea"/>
<rect x="172.00" y="70.00" width="1.08" height="13.48" fill="#e8eef2"/>
<rect x="173.00" y="70.00" width="1.08" height="13.48" fill="#d4e6f3"/>
<rect x="174.00" y="70.00" width="1.08" height="13.48" fill="#e7edf2"/>
<rect x="175.00" y="70.00" width="1.08" height="13.48" fill="#d4e6f3"/>
<rect x="176.00" y="70.00" width="1.08" height="13.48" fill="#c3ddee"/>
<rect x="177.00" y="70.00" width="1.08" height="13.48" fill="#dbe9f3"/>
<rect x="178.00" y="70.00" width="1.08" height="13.48" fill="#d7e7f3"/>
<rect x="179.00" y="70.00" width="1.08" height="13.48" fill="#bdd9ed"/>
<rect x="180.00" y="70.00" width="1.08" height="13.48" fill="#b0d2e9"/>
<rect x="181.00" y="70.00" width="1.08" height="13.48" fill="#cae0f0"/>
<rect x="182.00" y="70.00" width="1.08" height="13.48" fill="#c5deef"/>
<rect x="183.00" y="70.00" width="1.08" height="13.48" fill="#e2ecf3"/>
<rect x="184.00" y="70.00" width="1.08" height="13.48" fill="#f4eeec"/>
<rect x="185.00" y="70.00" width="1.08" height="13.48" fill="#eff0f2"/>
<rect x="186.00" y="70.00" width="1.08" height="13.48" fill="#f5eae6"/>
<rect x="187.00" y="70.00" width="1.08" height="13.48" fill="#f4f0ef"/>
<rect x="188.00" y="70.00" width="1.08" height="13.48" fill="#dfeaf3"/>
<rect x="189.00" y="70.00" width="1.08" height="13.48" fill="#d7e7f3"/>
<rect x="190.00" y="70.00" width="1.08" height="13.48" fill="#d1e4f2"/>
<rect x="191.00" y="70.00" width="1.08" height="13.48" fill="#b9d7ec"/>
<rect x="192.00" y="70.00" width="1.08" height="13.48" fill="#e0ebf3"/>
<rect x="193.00" y="70.00" width="1.08" height="13.48" fill="#e1ebf3"/>
<rect x="194.00" y="70.00" width="1.08" height="13.48" fill="#f5eae6"/>
<rect x="195.00" y="70.00" width="1.08" height="13.48" fill="#f4eeec"/>
<rect x="196.00" y="70.00" width="1.08" height="13.48" fill="#f5eae6"/>
<rect x="197.00" y="70.00" width="1.08" height="13.48" fill="#f5edea"/>
<rect x="198.00" y="70.00" width="1.08" height="13.48" fill="#f3f1f1"/>
<rect x="199.00" y="70.00" width="1.08" height="13.48" fill="#f4f0ef"/>
<rect x="200.00" y="70.00" width="1.08" height="13.48" fill="#d1e5f2"/>
<rect x="201.00" y="70.00" width="1.08" height="13.48" fill="#dbe9f3"/>
<rect x="202.00" y="70.00" width="1.08" height="13.48" fill="#dae8f3"/>
<rect x="203.00" y="70.00" width="1.08" height="13.48" fill="#e1ebf3"/>
<rect x="204.00" y="70.00" width="1.08" height="13.48" fill="#f4f0ef"/>
<rect x="205.00" y="70.00" width="1.08" height="13.48" fill="#eef0f2"/>
<rect x="206.00" y="70.00" width="1.08" height="13.48" fill="#dfeaf3"/>
<rect x="207.00" y="70.00" width="1.08" height="13.48" fill="#f5eae6"/>
<rect x="208.00" y="70.00" width="1.08" height="13.48" fill="#f4efee"/>
<rect x="209.00" y="70.00" width="1.08" height="13.48" fill="#f5ebe7"/>
<rect x="210.00" y="70.00" width="1.08" height="13.48" fill="#f5eae6"/>
<rect x="211.00" y="70.00" width="1.08" height="13.48" fill="#e6edf2"/>
<rect x="212.00" y="70.00" width="1.08" height="13.48" fill="#f9ded5"/>
<rect x="213.00" y="70.00" width="1.08" height="13.48" fill="#f9ded5"/>
<rect x="214.00" y="70.00" width="1.08" height="13.48" fill="#f9ded5"/>
<rect x="215.00" y="70.00" width="1.08" height="13.48" fill="#f9ded5"/>
<rect x="216.00" y="70.00" width="1.08" height="13.48" fill="#5795cc"/>
<rect x="217.00" y="70.00" width="1.08" height="13.48" fill="#5e9acf"/>
<rect x="218.00" y="70.00" width="1.08" height="13.48" fill="#92bfe1"/>
<rect x="219.00" y="70.00" width="1.08" height="13.48" fill="#8cbbdf"/>
<rect x="220.00" y="70.00" width="1.08" height="13.48" fill="#e7edf2"/>
<rect x="221.00" y="70.00" width="1.08" height="13.48" fill="#f4f0ef"/>
<rect x="222.00" y="70.00" width="1.08" height="13.48" fill="#f5eae7"/>
<rect x="223.00" y="70.00" width="1.08" height="13.48" fill="#f4efee"/>
<rect x="224.00" y="70.00" width="1.08" height="13.48" fill="#f4efed"/>
<rect x="225.00" y="70.00" width="1.08" height="13.48" fill="#edf0f2"/>
<rect x="226.00" y="70.00" width="1.08" height="13.48" fill="#eff1f2"/>
<rect x="227.00" y="70.00" width="1.08" height="13.48" fill="#ebeff2"/>
<rect x="228.00" y="70.00" width="1.08" height="13.48" fill="#f5eae6"/>
<rect x="229.00" y="70.00" width="1.08" height="13.48" fill="#f5ebe9"/>
<rect x="230.00" y="70.00" width="1.08" height="13.48" fill="#f4f0ef"/>
<rect x="231.00" y="70.00" width="1.08" height="13.48" fill="#f5edea"/>
<rect x="232.00" y="70.00" width="1.08" height="13.48" fill="#edf0f2"/>
<rect x="233.00" y="70.00" width="1.08" height="13.48" fill="#f4edeb"/>
<rect x="234.00" y="70.00" width="1.08" height="13.48" fill="#f5eae6"/>
<rect x="235.00" y="70.00" width="1.08" height="13.48" fill="#e2ebf3"/>
<rect x="236.00" y="70.00" width="1.08" height="13.48" fill="#e6edf2"/>
<rect x="237.00" y="70.00" width="1.08" height="13.48" fill="#f3f2f2"/>
<rect x="238.00" y="70.00" width="1.08" height="13.48" fill="#e6edf2"/>
<rect x="239.00" y="70.00" width="1.08" height="13.48" fill="#eceff2"/>
<rect x="240.00" y="70.00" width="1.08" height="13.48" fill="#5694cc"/>
<rect x="241.00" y="70.00" width="1.08" height="13.48" fill="#69a3d4"/>
<rect x="242.00" y="70.00" width="1.08" height="13.48" fill="#5a97cd"/>
<rect x="243.00" y="70.00" width="1.08" height="13.48" fill="#93c0e1"/>
<rect x="244.00" y="70.00" width="1.08" height="13.48" fill="#d8e8f3"/>
<rect x="245.00" y="70.00" width="1.08" height="13.48" fill="#ddeaf3"/>
<rect x="246.00" y="70.00" width="1.08" height="13.48" fill="#d0e4f2"/>
<rect x="247.00" y="70.00" width="1.08" height="13.48" fill="#d6e7f3"/>
<rect x="248.00" y="70.00" width="1.08" height="13.48" fill="#c3dcee"/>
<rect x="249.00" y="70.00" width="1.08" height="13.48" fill="#e0eaf3"/>
<rect x="250.00" y="70.00" width="1.08" height="13.48" fill="#d9e8f3"/>
<rect x="251.00" y="70.00" width="1.08" height="13.48" fill="#d4e6f3"/>
<rect x="252.00" y="70.00" width="1.08" height="13.48" fill="#cce2f1"/>
<rect x="253.00" y="70.00" width="1.08" height="13.48" fill="#bcd9ed"/>
<rect x="254.00" y="70.00" width="1.08" height="13.48" fill="#d5e6f3"/>
<rect x="255.00" y="70.00" width="1.08" height="13.48" fill="#cce2f1"/>
<rect x="256.00" y="70.00" width="1.08" height="13.48" fill="#609cd0"/>
<rect x="257.00" y="70.00" width="1.08" height="13.48" fill="#88b8de"/>
<rect x="258.00" y="70.00" width="1.08" height="13.48" fill="#649fd2"/>
<rect x="259.00" y="70.00" width="1.08" height="13.48" fill="#609cd0"/>
<rect x="260.00" y="70.00" width="1.08" height="13.48" fill="#e2ebf3"/>
<rect x="261.00" y="70.00" width="1.08" height="13.48" fill="#d0e3f2"/>
<rect x="262.00" y="70.00" width="1.08" height="13.48" fill="#cfe3f2"/>
<rect x="263.00" y="70.00" width="1.08" height="13.48" fill="#d1e4f2"/>
<rect x="264.00" y="70.00" width="1.08" height="13.48" fill="#dbe9f3"/>
<rect x="265.00" y="70.00" width="1.08" height="13.48" fill="#d5e7f3"/>
<rect x="266.00" y="70.00" width="1.08" height="13.48" fill="#bad8ec"/>
<rect x="267.00" y="70.00" width="1.08" height="13.48" fill="#cee3f1"/>
<rect x="268.00" y="70.00" width="1.08" height="13.48" fill="#89b9de"/>
<rect x="269.00" y="70.00" width="1.08" height="13.48" fill="#a7cde7"/>
<rect x="270.00" y="70.00" width="1.08" height="13.48" fill="#b2d3ea"/>
<rect x="271.00" y="70.00" width="1.08" height="13.48" fill="#9dc7e4"/>
<rect x="272.00" y="70.00" width="1.08" height="13.48" fill="#a3cae6"/>
<rect x="273.00" y="70.00" width="1.08" height="13.48" fill="#c0dbee"/>
<rect x="274.00" y="70.00" width="1.08" height="13.48" fill="#b6d5eb"/>
<rect x="275.00" y="70.00" width="1.08" height="13.48" fill="#96c2e2"/>
<rect x="276.00" y="70.00" width="1.08" height="13.48" fill="#b3d4ea"/>
<rect x="0.00" y="83.40" width="1.08" height="13.48" fill="#d96650"/>
<rect x="1.00" y="83.40" width="1.08" height="13.48" fill="#d25949"/>
<rect x="2.00" y="83.40" width="1.08" height="13.48" fill="#b3262f"/>
<rect x="3.00" y="83.40" width="1.08" height="13.48" fill="#b3262f"/>
<rect x="4.00" y="83.40" width="1.08" height="13.48" fill="#e07861"/>
<rect x="5.00" y="83.40" width="1.08" height="13.48" fill="#dc6e57"/>
<rect x="6.00" y="83.40" width="1.08" height="13.48" fill="#edf0f2"/>
<rect x="7.00" y="83.40" width="1.08" height="13.48" fill="#eef0f2"/>
<rect x="8.00" y="83.40" width="1.08" height="13.48" fill="#dbe9f3"/>
<rect x="9.00" y="83.40" width="1.08" height="13.48" fill="#d5e6f3"/>
<rect x="10.00" y="83.40" width="1.08" height="13.48" fill="#dbe9f3"/>
<rect x="11.00" y="83.40" width="1.08" height="13.48" fill="#d1e4f2"/>
<rect x="12.00" y="83.40" width="1.08" height="13.48" fill="#d15748"/>
<rect x="13.00" y="83.40" width="1.08" height="13.48" fill="#da6751"/>
<rect x="14.00" y="83.40" width="1.08" height="13.48" fill="#f2b199"/>
<rect x="15.00" y="83.40" width="1.08" height="13.48" fill="#ed9f84"/>
<rect x="16.00" y="83.40" width="1.08" height="13.48" fill="#eb987e"/>
<rect x="17.00" y="83.40" width="1.08" height="13.48" fill="#f3b6a0"/>
<rect x="18.00" y="83.40" width="1.08" height="13.48" fill="#f9dbd1"/>
<rect x="19.00" y="83.40" width="1.08" height="13.48" fill="#f8dad0"/>
<rect x="20.00" y="83.40" width="1.08" height="13.48" fill="#f8e1da"/>
<rect x="21.00" y="83.40" width="1.08" height="13.48" fill="#f9e0d7"/>
<rect x="22.00" y="83.40" width="1.08" height="13.48" fill="#edf0f2"/>
<rect x="23.00" y="83.40" width="1.08" height="13.48" fill="#eef0f2"/>
<rect x="24.00" y="83.40" width="1.08" height="13.48" fill="#cee3f1"/>
<rect x="25.00" y="83.40" width="1.08" height="13.48" fill="#d6e7f3"/>
<rect x="26.00" y="83.40" width="1.08" height="13.48" fill="#d6e7f3"/>
<rect x="27.00" y="83.40" width="1.08" height="13.48" fill="#cde2f1"/>
<rect x="28.00" y="83.40" width="1.08" height="13.48" fill="#ebeff2"/>
<rect x="29.00" y="83.40" width="1.08" height="13.48" fill="#f0f1f2"/>
<rect x="30.00" y="83.40" width="1.08" height="13.48" fill="#f4f0ef"/>
<rect x="31.00" y="83.40" width="1.08" height="13.48" fill="#eef0f2"/>
<rect x="32.00" y="83.40" width="1.08" height="13.48" fill="#f0f1f2"/>
<rect x="33.00" y="83.40" width="1.08" height="13.48" fill="#eef0f2"/>
<rect x="34.00" y="83.40" width="1.08" height="13.48" fill="#f4efee"/>
<rect x="35.00" y="83.40" width="1.08" height="13.48" fill="#f3f2f1"/>
<rect x="36.00" y="83.40" width="1.08" height="13.48" fill="#f7e3dd"/>
<rect x="37.00" y="83.40" width="1.08" height="13.48" fill="#f8e3dc"/>
<rect x="38.00" y="83.40" width="1.08" height="13.48" fill="#b52a31"/>
<rect x="39.00" y="83.40" width="1.08" height="13.48" fill="#b3262f"/>
<rect x="40.00" y="83.40" width="1.08" height="13.48" fill="#f3f1f0"/>
<rect x="41.00" y="83.40" width="1.08" height="13.48" fill="#edf0f2"/>
<rect x="42.00" y="83.40" width="1.08" height="13.48" fill="#eef0f2"/>
<rect x="43.00" y="83.40" width="1.08" height="13.48" fill="#f4f0ef"/>
<rect x="44.00" y="83.40" width="1.08" height="13.48" fill="#f9dfd7"/>
<rect x="45.00" y="83.40" width="1.08" height="13.48" fill="#f8e1d9"/>
<rect x="46.00" y="83.40" width="1.08" height="13.48" fill="#f2b097"/>
<rect x="47.00" y="83.40" width="1.08" height="13.48" fill="#ea977e"/>
<rect x="48.00" y="83.40" width="1.08" height="13.48" fill="#dc6d56"/>
<rect x="49.00" y="83.40" width="1.08" height="13.48" fill="#d7624e"/>
<rect x="50.00" y="83.40" width="1.08" height="13.48" fill="#db6b54"/>
<rect x="51.00" y="83.40" width="1.08" height="13.48" fill="#da6852"/>
<rect x="52.00" y="83.40" width="1.08" height="13.48" fill="#ec9b81"/>
<rect x="53.00" y="83.40" width="1.08" height="13.48" fill="#ea957c"/>
<rect x="54.00" y="83.40" width="1.08" height="13.48" fill="#a0c8e5"/>
<rect x="55.00" y="83.40" width="1.08" height="13.48" fill="#9bc5e3"/>
<rect x="56.00" y="83.40" width="1.08" height="13.48" fill="#95c1e2"/>
<rect x="57.00" y="83.40" width="1.08" height="13.48" fill="#a1c9e5"/>
<rect x="58.00" y="83.40" width="1.08" height="13.48" fill="#9ec7e4"/>
<rect x="59.00" y="83.40" width="1.08" height="13.48" fill="#b5d4eb"/>
<rect x="60.00" y="83.40" width="1.08" height="13.48" fill="#b2d3ea"/>
<rect x="61.00" y="83.40" width="1.08" height="13.48" fill="#a7cde7"/>
<rect x="62.00" y="83.40" width="1.08" height="13.48" fill="#a9cee7"/>
<rect x="63.00" y="83.40" width="1.08" height="13.48" fill="#b5d5eb"/>
<rect x="64.00" y="83.40" width="1.08" height="13.48" fill="#6da6d6"/>
<rect x="65.00" y="83.40" width="1.08" height="13.48" fill="#609cd0"/>
<rect x="66.00" y="83.40" width="1.08" height="13.48" fill="#69a3d4"/>
<rect x="67.00" y="83.40" width="1.08" height="13.48" fill="#83b5dc"/>
<rect x="68.00" y="83.40" width="1.08" height="13.48" fill="#6ea7d6"/>
<rect x="69.00" y="83.40" width="1.08" height="13.48" fill="#83b5dc"/>
<rect x="70.00" y="83.40" width="1.08" height="13.48" fill="#5190c9"/>
<rect x="71.00" y="83.40" width="1.08" height="13.48" fill="#79aeda"/>
<rect x="72.00" y="83.40" width="1.08" height="13.48" fill="#6ca6d6"/>
<rect x="73.00" y="83.40" width="1.08" height="13.48" fill="#84b5dd"/>
<rect x="74.00" y="83.40" width="1.08" height="13.48" fill="#6ca6d6"/>
<rect x="75.00" y="83.40" width="1.08" height="13.48" fill="#5e9acf"/>
<rect x="76.00" y="83.40" width="1.08" height="13.48" fill="#4687c4"/>
<rect x="77.00" y="83.40" width="1.08" height="13.48" fill="#5694cc"/>
<rect x="78.00" y="83.40" width="1.08" height="13.48" fill="#4687c4"/>
<rect x="79.00" y="83.40" width="1.08" height="13.48" fill="#4687c4"/>
<rect x="80.00" y="83.40" width="1.08" height="13.48" fill="#67a2d4"/>
<rect x="81.00" y="83.40" width="1.08" height="13.48" fill="#69a3d5"/>
<rect x="82.00" y="83.40" width="1.08" height="13.48" fill="#5492cb"/>
<rect x="83.00" y="83.40" width="1.08" height="13.48" fill="#69a3d5"/>
<rect x="84.00" y="83.40" width="1.08" height="13.48" fill="#4687c4"/>
<rect x="85.00" y="83.40" width="1.08" height="13.48" fill="#4a8ac6"/>
<rect x="86.00" y="83.40" width="1.08" height="13.48" fill="#4687c4"/>
<rect x="87.00" y="83.40" width="1.08" height="13.48" fill="#4788c4"/>
<rect x="88.00" y="83.40" width="1.08" height="13.48" fill="#f1f1f2"/>
<rect x="89.00" y="83.40" width="1.08" height="13.48" fill="#eff1f2"/>
<rect x="90.00" y="83.40" width="1.08" height="13.48" fill="#f5ebe9"/>
<rect x="91.00" y="83.40" width="1.08" height="13.48" fill="#f5eae6"/>
<rect x="92.00" y="83.40" width="1.08" height="13.48" fill="#f5eae6"/>
<rect x="93.00" y="83.40" width="1.08" height="13.48" fill="#f4f0ef"/>
<rect x="94.00" y="83.40" width="1.08" height="13.48" fill="#f3f2f2"/>
<rect x="95.00" y="83.40" width="1.08" height="13.48" fill="#ebeff2"/>
<rect x="96.00" y="83.40" width="1.08" height="13.48" fill="#cbe1f0"/>
<rect x="97.00" y="83.40" width="1.08" height="13.48" fill="#e6edf2"/>
<rect x="98.00" y="83.40" width="1.08" height="13.48" fill="#e8eef2"/>
<rect x="99.00" y="83.40" width="1.08" height="13.48" fill="#bad8ec"/>
<rect x="100.00" y="83.40" width="1.08" height="13.48" fill="#e4ecf2"/>
<rect x="101.00" y="83.40" width="1.08" height="13.48" fill="#e9eef2"/>
<rect x="102.00" y="83.40" width="1.08" height="13.48" fill="#eceff2"/>
<rect x="103.00" y="83.40" width="1.08" height="13.48" fill="#f0f1f2"/>
<rect x="104.00" y="83.40" width="1.08" height="13.48" fill="#99c4e3"/>
<rect x="105.00" y="83.40" width="1.08" height="13.48" fill="#8dbcdf"/>
<rect x="106.00" y="83.40" width="1.08" height="13.48" fill="#93c0e1"/>
<rect x="107.00" y="83.40" width="1.08" height="13.48" fill="#aed1e9"/>
<rect x="108.00" y="83.40" width="1.08" height="13.48" fill="#8bbadf"/>
<rect x="109.00" y="83.40" width="1.08" height="13.48" fill="#a9cee7"/>
<rect x="110.00" y="83.40" width="1.08" height="13.48" fill="#c0dbee"/>
<rect x="111.00" y="83.40" width="1.08" height="13.48" fill="#9bc5e3"/>
<rect x="112.00" y="83.40" width="1.08" height="13.48" fill="#b0d2e9"/>
<rect x="113.00" y="83.40" width="1.08" height="13.48" fill="#9bc5e3"/>
<rect x="114.00" y="83.40" width="1.08" height="13.48" fill="#afd1e9"/>
<rect x="115.00" y="83.40" width="1.08" height="13.48" fill="#8fbde0"/>
<rect x="116.00" y="83.40" width="1.08" height="13.48" fill="#e2ebf3"/>
<rect x="117.00" y="83.40" width="1.08" height="13.48" fill="#d8e7f3"/>
<rect x="118.00" y="83.40" width="1.08" height="13.48" fill="#dde9f3"/>
<rect x="119.00" y="83.40" width="1.08" height="13.48" fill="#deeaf3"/>
<rect x="120.00" y="83.40" width="1.08" height="13.48" fill="#65a0d2"/>
<rect x="121.00" y="83.40" width="1.08" height="13.48" fill="#6ba5d5"/>
<rect x="122.00" y="83.40" width="1.08" height="13.48" fill="#5c99ce"/>
<rect x="123.00" y="83.40" width="1.08" height="13.48" fill="#6fa7d6"/>
<rect x="124.00" y="83.40" width="1.08" height="13.48" fill="#4687c4"/>
<rect x="125.00" y="83.40" width="1.08" height="13.48" fill="#4687c4"/>
<rect x="126.00" y="83.40" width="1.08" height="13.48" fill="#4687c4"/>
<rect x="127.00" y="83.40" width="1.08" height="13.48" fill="#4687c4"/>
<rect x="128.00" y="83.40" width="1.08" height="13.48" fill="#6ca6d6"/>
<rect x="129.00" y="83.40" width="1.08" height="13.48" fill="#639ed1"/>
<rect x="130.00" y="83.40" width="1.08" height="13.48" fill="#5996cd"/>
<rect x="131.00" y="83.40" width="1.08" height="13.48" fill="#5794cc"/>
<rect x="132.00" y="83.40" width="1.08" height="13.48" fill="#4687c4"/>
<rect x="133.00" y="83.40" width="1.08" height="13.48" fill="#4687c4"/>
<rect x="134.00" y="83.40" width="1.08" height="13.48" fill="#4687c4"/>
<rect x="135.00" y="83.40" width="1.08" height="13.48" fill="#508fc9"/>
<rect x="136.00" y="83.40" width="1.08" height="13.48" fill="#99c4e3"/>
<rect x="137.00" y="83.40" width="1.08" height="13.48" fill="#8fbde0"/>
<rect x="138.00" y="83.40" width="1.08" height="13.48" fill="#97c3e2"/>
<rect x="139.00" y="83.40" width="1.08" height="13.48" fill="#89b9de"/>
<rect x="140.00" y="83.40" width="1.08" height="13.48" fill="#a2cae6"/>
<rect x="141.00" y="83.40" width="1.08" height="13.48" fill="#7fb2db"/>
<rect x="142.00" y="83.40" width="1.08" height="13.48" fill="#bbd8ec"/>
<rect x="143.00" y="83.40" width="1.08" height="13.48" fill="#c3dcee"/>
<rect x="144.00" y="83.40" width="1.08" height="13.48" fill="#a3cae6"/>
<rect x="145.00" y="83.40" width="1.08" height="13.48" fill="#91bee0"/>
<rect x="146.00" y="83.40" width="1.08" height="13.48" fill="#8fbde0"/>
<rect x="147.00" y="83.40" width="1.08" height="13.48" fill="#8abade"/>
<rect x="148.00" y="83.40" width="1.08" height="13.48" fill="#4c8cc7"/>
<rect x="149.00" y="83.40" width="1.08" height="13.48" fill="#4687c4"/>
<rect x="150.00" y="83.40" width="1.08" height="13.48" fill="#5a97cd"/>
<rect x="151.00" y="83.40" width="1.08" height="13.48" fill="#4888c5"/>
<rect x="152.00" y="83.40" width="1.08" height="13.48" fill="#609cd0"/>
<rect x="153.00" y="83.40" width="1.08" height="13.48" fill="#8ebce0"/>
<rect x="154.00" y="83.40" width="1.08" height="13.48" fill="#639fd2"/>
<rect x="155.00" y="83.40" width="1.08" height="13.48" fill="#6ba5d5"/>
<rect x="156.00" y="83.40" width="1.08" height="13.48" fill="#6ca5d6"/>
<rect x="157.00" y="83.40" width="1.08" height="13.48" fill="#66a1d3"/>
<rect x="158.00" y="83.40" width="1.08" height="13.48" fill="#7cb0da"/>
<rect x="159.00" y="83.40" width="1.08" height="13.48" fill="#75acd8"/>
<rect x="160.00" y="83.40" width="1.08" height="13.48" fill="#5996cd"/>
<rect x="161.00" y="83.40" width="1.08" height="13.48" fill="#5795cc"/>
<rect x="162.00" y="83.40" width="1.08" height="13.48" fill="#4687c4"/>
<rect x="163.00" y="83.40" width="1.08" height="13.48" fill="#4687c4"/>
<rect x="164.00" y="83.40" width="1.08" height="13.48" fill="#66a1d3"/>
<rect x="165.00" y="83.40" width="1.08" height="13.48" fill="#6aa4d5"/>
<rect x="166.00" y="83.40" width="1.08" height="13.48" fill="#7cb0da"/>
<rect x="167.00" y="83.40" width="1.08" height="13.48" fill="#6fa8d7"/>
<rect x="168.00" y="83.40" width="1.08" height="13.48" fill="#6ea7d6"/>
<rect x="169.00" y="83.40" width="1.08" height="13.48" fill="#5896cd"/>
<rect x="170.00" y="83.40" width="1.08" height="13.48" fill="#7aafda"/>
<rect x="171.00" y="83.40" width="1.08" height="13.48" fill="#94c0e1"/>
<rect x="172.00" y="83.40" width="1.08" height="13.48" fill="#4a8ac6"/>
<rect x="173.00" y="83.40" width="1.08" height="13.48" fill="#4a8ac6"/>
<rect x="174.00" y="83.40" width="1.08" height="13.48" fill="#508fc9"/>
<rect x="175.00" y="83.40" width="1.08" height="13.48" fill="#498ac6"/>
<rect x="176.00" y="83.40" width="1.08" height="13.48" fill="#83b5dc"/>
<rect x="177.00" y="83.40" width="1.08" height="13.48" fill="#98c3e2"/>
<rect x="178.00" y="83.40" width="1.08" height="13.48" fill="#8fbde0"/>
<rect x="179.00" y="83.40" width="1.08" height="13.48" fill="#9dc6e4"/>
<rect x="180.00" y="83.40" width="1.08" height="13.48" fill="#93bfe1"/>
<rect x="181.00" y="83.40" width="1.08" height="13.48" fill="#a8cde7"/>
<rect x="182.00" y="83.40" width="1.08" height="13.48" fill="#8abade"/>
<rect x="183.00" y="83.40" width="1.08" height="13.48" fill="#b6d5eb"/>
<rect x="184.00" y="83.40" width="1.08" height="13.48" fill="#abcfe8"/>
<rect x="185.00" y="83.40" width="1.08" height="13.48" fill="#a2cae6"/>
<rect x="186.00" y="83.40" width="1.08" height="13.48" fill="#bbd8ec"/>
<rect x="187.00" y="83.40" width="1.08" height="13.48" fill="#b4d4ea"/>
<rect x="188.00" y="83.40" width="1.08" height="13.48" fill="#e9eef2"/>
<rect x="189.00" y="83.40" width="1.08" height="13.48" fill="#d0e4f2"/>
<rect x="190.00" y="83.40" width="1.08" height="13.48" fill="#cbe1f0"/>
<rect x="191.00" y="83.40" width="1.08" height="13.48" fill="#d5e6f3"/>
<rect x="192.00" y="83.40" width="1.08" height="13.48" fill="#5694cc"/>
<rect x="193.00" y="83.40" width="1.08" height="13.48" fill="#6fa7d6"/>
<rect x="194.00" y="83.40" width="1.08" height="13.48" fill="#76acd8"/>
<rect x="195.00" y="83.40" width="1.08" height="13.48" fill="#7bafda"/>
<rect x="196.00" y="83.40" width="1.08" height="13.48" fill="#f5eae6"/>
<rect x="197.00" y="83.40" width="1.08" height="13.48" fill="#edf0f2"/>
<rect x="198.00" y="83.40" width="1.08" height="13.48" fill="#f5eae6"/>
<rect x="199.00" y="83.40" width="1.08" height="13.48" fill="#f5ece9"/>
<rect x="200.00" y="83.40" width="1.08" height="13.48" fill="#bdd9ed"/>
<rect x="201.00" y="83.40" width="1.08" height="13.48" fill="#deeaf3"/>
<rect x="202.00" y="83.40" width="1.08" height="13.48" fill="#deeaf3"/>
<rect x="203.00" y="83.40" width="1.08" height="13.48" fill="#d5e6f3"/>
<rect x="204.00" y="83.40" width="1.08" height="13.48" fill="#f5eae7"/>
<rect x="205.00" y="83.40" width="1.08" height="13.48" fill="#e9eef2"/>
<rect x="206.00" y="83.40" width="1.08" height="13.48" fill="#f1f1f2"/>
<rect x="207.00" y="83.40" width="1.08" height="13.48" fill="#f4f0ef"/>
<rect x="208.00" y="83.40" width="1.08" height="13.48" fill="#4687c4"/>
<rect x="209.00" y="83.40" width="1.08" height="13.48" fill="#5c99ce"/>
<rect x="210.00" y="83.40" width="1.08" height="13.48" fill="#5795cc"/>
<rect x="211.00" y="83.40" width="1.08" height="13.48" fill="#4788c4"/>
<rect x="212.00" y="83.40" width="1.08" height="13.48" fill="#97c2e2"/>
<rect x="213.00" y="83.40" width="1.08" height="13.48" fill="#a7cce7"/>
<rect x="214.00" y="83.40" width="1.08" height="13.48" fill="#9dc6e4"/>
<rect x="215.00" y="83.40" width="1.08" height="13.48" fill="#85b6dd"/>
<rect x="216.00" y="83.40" width="1.08" height="13.48" fill="#ebeff2"/>
<rect x="217.00" y="83.40" width="1.08" height="13.48" fill="#e8eef2"/>
<rect x="218.00" y="83.40" width="1.08" height="13.48" fill="#f5ebe7"/>
<rect x="219.00" y="83.40" width="1.08" height="13.48" fill="#f5eae6"/>
<rect x="220.00" y="83.40" width="1.08" height="13.48" fill="#e1ebf3"/>
<rect x="221.00" y="83.40" width="1.08" height="13.48" fill="#f4f0ef"/>
<rect x="222.00" y="83.40" width="1.08" height="13.48" fill="#f5eae6"/>
<rect x="223.00" y="83.40" width="1.08" height="13.48" fill="#edf0f2"/>
<rect x="224.00" y="83.40" width="1.08" height="13.48" fill="#e4ecf2"/>
<rect x="225.00" y="83.40" width="1.08" height="13.48" fill="#f1f1f2"/>
<rect x="226.00" y="83.40" width="1.08" height="13.48" fill="#e0ebf3"/>
<rect x="227.00" y="83.40" width="1.08" height="13.48" fill="#e2ecf3"/>
<rect x="228.00" y="83.40" width="1.08" height="13.48" fill="#77add9"/>
<rect x="229.00" y="83.40" width="1.08" height="13.48" fill="#75acd8"/>
<rect x="230.00" y="83.40" width="1.08" height="13.48" fill="#6fa7d6"/>
<rect x="231.00" y="83.40" width="1.08" height="13.48" fill="#75abd8"/>
<rect x="232.00" y="83.40" width="1.08" height="13.48" fill="#4788c4"/>
<rect x="233.00" y="83.40" width="1.08" height="13.48" fill="#5190c9"/>
<rect x="234.00" y="83.40" width="1.08" height="13.48" fill="#4788c5"/>
<rect x="235.00" y="83.40" width="1.08" height="13.48" fill="#4888c5"/>
<rect x="236.00" y="83.40" width="1.08" height="13.48" fill="#c1dbee"/>
<rect x="237.00" y="83.40" width="1.08" height="13.48" fill="#bfdaed"/>
<rect x="238.00" y="83.40" width="1.08" height="13.48" fill="#bbd8ec"/>
<rect x="239.00" y="83.40" width="1.08" height="13.48" fill="#d9e8f3"/>
<rect x="240.00" y="83.40" width="1.08" height="13.48" fill="#f3f1f1"/>
<rect x="241.00" y="83.40" width="1.08" height="13.48" fill="#f4f0ee"/>
<rect x="242.00" y="83.40" width="1.08" height="13.48" fill="#e7edf2"/>
<rect x="243.00" y="83.40" width="1.08" height="13.48" fill="#f4eeec"/>
<rect x="244.00" y="83.40" width="1.08" height="13.48" fill="#5996cd"/>
<rect x="245.00" y="83.40" width="1.08" height="13.48" fill="#6ea6d6"/>
<rect x="246.00" y="83.40" width="1.08" height="13.48" fill="#71a9d7"/>
<rect x="247.00" y="83.40" width="1.08" height="13.48" fill="#79aed9"/>
<rect x="248.00" y="83.40" width="1.08" height="13.48" fill="#6ca5d6"/>
<rect x="249.00" y="83.40" width="1.08" height="13.48" fill="#7eb1db"/>
<rect x="250.00" y="83.40" width="1.08" height="13.48" fill="#7cb0da"/>
<rect x="251.00" y="83.40" width="1.08" height="13.48" fill="#75abd8"/>
<rect x="252.00" y="83.40" width="1.08" height="13.48" fill="#eef0f2"/>
<rect x="253.00" y="83.40" width="1.08" height="13.48" fill="#eef0f2"/>
<rect x="254.00" y="83.40" width="1.08" height="13.48" fill="#e7eef2"/>
<rect x="255.00" y="83.40" width="1.08" height="13.48" fill="#ebeff2"/>
<rect x="256.00" y="83.40" width="1.08" height="13.48" fill="#f1aa8f"/>
<rect x="257.00" y="83.40" width="1.08" height="13.48" fill="#f1aa8f"/>
<rect x="258.00" y="83.40" width="1.08" height="13.48" fill="#f1aa8f"/>
<rect x="259.00" y="83.40" width="1.08" height="13.48" fill="#f1aa8f"/>
<rect x="260.00" y="83.40" width="1.08" height="13.48" fill="#f1aa8f"/>
<rect x="261.00" y="83.40" width="1.08" height="13.48" fill="#f1aa8f"/>
<rect x="262.00" y="83.40" width="1.08" height="13.48" fill="#f1aa8f"/>
<rect x="263.00" y="83.40" width="1.08" height="13.48" fill="#f1aa8f"/>
<rect x="264.00" y="83.40" width="1.08" height="13.48" fill="#f9ded5"/>
<rect x="265.00" y="83.40" width="1.08" height="13.48" fill="#f9ded5"/>
<rect x="266.00" y="83.40" width="1.08" height="13.48" fill="#f9ded5"/>
<rect x="267.00" y="83.40" width="1.08" height="13.48" fill="#f9ded5"/>
<rect x="268.00" y="83.40" width="1.08" height="13.48" fill="#eaeef2"/>
<rect x="269.00" y="83.40" width="1.08" height="13.48" fill="#e7edf2"/>
<rect x="270.00" y="83.40" width="1.08" height="13.48" fill="#f1f1f2"/>
<rect x="271.00" y="83.40" width="1.08" height="13.48" fill="#f4eeec"/>
<rect x="272.00" y="83.40" width="1.08" height="13.48" fill="#eaeff2"/>
<rect x="273.00" y="83.40" width="1.08" height="13.48" fill="#f5edea"/>
<rect x="274.00" y="83.40" width="1.08" height="13.48" fill="#f5eae6"/>
<rect x="275.00" y="83.40" width="1.08" height="13.48" fill="#eaeef2"/>
<rect x="276.00" y="83.40" width="1.08" height="13.48" fill="#f0f1f2"/>
<rect x="0.00" y="96.80" width="1.08" height="13.48" fill="#ec9d83"/>
<rect x="1.00" y="96.80" width="1.08" height="13.48" fill="#f3b49d"/>
<rect x="2.00" y="96.80" width="1.08" height="13.48" fill="#dc6d56"/>
<rect x="3.00" y="96.80" width="1.08" height="13.48" fill="#dc6d57"/>
<rect x="4.00" y="96.80" width="1.08" height="13.48" fill="#f3b8a2"/>
<rect x="5.00" y="96.80" width="1.08" height="13.48" fill="#eb9a80"/>
<rect x="6.00" y="96.80" width="1.08" height="13.48" fill="#f4efee"/>
<rect x="7.00" y="96.80" width="1.08" height="13.48" fill="#f4f0ef"/>
<rect x="8.00" y="96.80" width="1.08" height="13.48" fill="#ebeff2"/>
<rect x="9.00" y="96.80" width="1.08" height="13.48" fill="#f4efed"/>
<rect x="10.00" y="96.80" width="1.08" height="13.48" fill="#f4f0ee"/>
<rect x="11.00" y="96.80" width="1.08" height="13.48" fill="#f2f2f2"/>
<rect x="12.00" y="96.80" width="1.08" height="13.48" fill="#f4f0ee"/>
<rect x="13.00" y="96.80" width="1.08" height="13.48" fill="#f2f2f2"/>
<rect x="14.00" y="96.80" width="1.08" height="13.48" fill="#eff0f2"/>
<rect x="15.00" y="96.80" width="1.08" height="13.48" fill="#edf0f2"/>
<rect x="16.00" y="96.80" width="1.08" height="13.48" fill="#eff0f2"/>
<rect x="17.00" y="96.80" width="1.08" height="13.48" fill="#eceff2"/>
<rect x="18.00" y="96.80" width="1.08" height="13.48" fill="#f0f1f2"/>
<rect x="19.00" y="96.80" width="1.08" height="13.48" fill="#f4f0ee"/>
<rect x="20.00" y="96.80" width="1.08" height="13.48" fill="#f4f0ef"/>
<rect x="21.00" y="96.80" width="1.08" height="13.48" fill="#f4efed"/>
<rect x="22.00" y="96.80" width="1.08" height="13.48" fill="#f4f0ef"/>
<rect x="23.00" y="96.80" width="1.08" height="13.48" fill="#eff1f2"/>
<rect x="24.00" y="96.80" width="1.08" height="13.48" fill="#f3f1f1"/>
<rect x="25.00" y="96.80" width="1.08" height="13.48" fill="#f2f2f2"/>
<rect x="26.00" y="96.80" width="1.08" height="13.48" fill="#f4efee"/>
<rect x="27.00" y="96.80" width="1.08" height="13.48" fill="#f3f2f2"/>
<rect x="28.00" y="96.80" width="1.08" height="13.48" fill="#eff1f2"/>
<rect x="29.00" y="96.80" width="1.08" height="13.48" fill="#f3f1f0"/>
<rect x="30.00" y="96.80" width="1.08" height="13.48" fill="#f4edeb"/>
<rect x="31.00" y="96.80" width="1.08" height="13.48" fill="#eff0f2"/>
<rect x="32.00" y="96.80" width="1.08" height="13.48" fill="#f4eeec"/>
<rect x="33.00" y="96.80" width="1.08" height="13.48" fill="#ebeff2"/>
<rect x="34.00" y="96.80" width="1.08" height="13.48" fill="#f2b199"/>
<rect x="35.00" y="96.80" width="1.08" height="13.48" fill="#f2b29a"/>
<rect x="36.00" y="96.80" width="1.08" height="13.48" fill="#f8d6cb"/>
<rect x="37.00" y="96.80" width="1.08" height="13.48" fill="#f7d0c2"/>
<rect x="38.00" y="96.80" width="1.08" height="13.48" fill="#b3262f"/>
<rect x="39.00" y="96.80" width="1.08" height="13.48" fill="#b72d32"/>
<rect x="40.00" y="96.80" width="1.08" height="13.48" fill="#f4eeec"/>
<rect x="41.00" y="96.80" width="1.08" height="13.48" fill="#f0f1f2"/>
<rect x="42.00" y="96.80" width="1.08" height="13.48" fill="#f8e1da"/>
<rect x="43.00" y="96.80" width="1.08" height="13.48" fill="#f7d1c4"/>
<rect x="44.00" y="96.80" width="1.08" height="13.48" fill="#efa58a"/>
<rect x="45.00" y="96.80" width="1.08" height="13.48" fill="#eea288"/>
<rect x="46.00" y="96.80" width="1.08" height="13.48" fill="#d55f4c"/>
<rect x="47.00" y="96.80" width="1.08" height="13.48" fill="#ce5346"/>
<rect x="48.00" y="96.80" width="1.08" height="13.48" fill="#d96650"/>
<rect x="49.00" y="96.80" width="1.08" height="13.48" fill="#d15848"/>
<rect x="50.00" y="96.80" width="1.08" height="13.48" fill="#b3262f"/>
<rect x="51.00" y="96.80" width="1.08" height="13.48" fill="#b3262f"/>
<rect x="52.00" y="96.80" width="1.08" height="13.48" fill="#b42830"/>
<rect x="53.00" y="96.80" width="1.08" height="13.48" fill="#b3262f"/>
<rect x="54.00" y="96.80" width="1.08" height="13.48" fill="#a6cce6"/>
<rect x="55.00" y="96.80" width="1.08" height="13.48" fill="#9ec7e4"/>
<rect x="56.00" y="96.80" width="1.08" height="13.48" fill="#5492cb"/>
<rect x="57.00" y="96.80" width="1.08" height="13.48" fill="#78add9"/>
<rect x="58.00" y="96.80" width="1.08" height="13.48" fill="#68a2d4"/>
<rect x="59.00" y="96.80" width="1.08" height="13.48" fill="#7eb2db"/>
<rect x="60.00" y="96.80" width="1.08" height="13.48" fill="#6fa7d7"/>
<rect x="61.00" y="96.80" width="1.08" height="13.48" fill="#5896cd"/>
<rect x="62.00" y="96.80" width="1.08" height="13.48" fill="#66a1d3"/>
<rect x="63.00" y="96.80" width="1.08" height="13.48" fill="#80b3dc"/>
<rect x="64.00" y="96.80" width="1.08" height="13.48" fill="#69a3d4"/>
<rect x="65.00" y="96.80" width="1.08" height="13.48" fill="#609cd0"/>
<rect x="66.00" y="96.80" width="1.08" height="13.48" fill="#69a3d5"/>
<rect x="67.00" y="96.80" width="1.08" height="13.48" fill="#6fa7d6"/>
<rect x="68.00" y="96.80" width="1.08" height="13.48" fill="#70a8d7"/>
<rect x="69.00" y="96.80" width="1.08" height="13.48" fill="#78add9"/>
<rect x="70.00" y="96.80" width="1.08" height="13.48" fill="#619dd1"/>
<rect x="71.00" y="96.80" width="1.08" height="13.48" fill="#7eb2db"/>
<rect x="72.00" y="96.80" width="1.08" height="13.48" fill="#649fd2"/>
<rect x="73.00" y="96.80" width="1.08" height="13.48" fill="#87b8de"/>
<rect x="74.00" y="96.80" width="1.08" height="13.48" fill="#75acd8"/>
<rect x="75.00" y="96.80" width="1.08" height="13.48" fill="#6ca5d5"/>
<rect x="76.00" y="96.80" width="1.08" height="13.48" fill="#71a9d7"/>
<rect x="77.00" y="96.80" width="1.08" height="13.48" fill="#83b5dc"/>
<rect x="78.00" y="96.80" width="1.08" height="13.48" fill="#508fc9"/>
<rect x="79.00" y="96.80" width="1.08" height="13.48" fill="#77add9"/>
<rect x="80.00" y="96.80" width="1.08" height="13.48" fill="#4687c4"/>
<rect x="81.00" y="96.80" width="1.08" height="13.48" fill="#4687c4"/>
<rect x="82.00" y="96.80" width="1.08" height="13.48" fill="#4687c4"/>
<rect x="83.00" y="96.80" width="1.08" height="13.48" fill="#4788c5"/>
<rect x="84.00" y="96.80" width="1.08" height="13.48" fill="#5492cb"/>
<rect x="85.00" y="96.80" width="1.08" height="13.48" fill="#5694cc"/>
<rect x="86.00" y="96.80" width="1.08" height="13.48" fill="#72aad7"/>
<rect x="87.00" y="96.80" width="1.08" height="13.48" fill="#8abade"/>
<rect x="88.00" y="96.80" width="1.08" height="13.48" fill="#4687c4"/>
<rect x="89.00" y="96.80" width="1.08" height="13.48" fill="#4d8cc7"/>
<rect x="90.00" y="96.80" width="1.08" height="13.48" fill="#4b8bc6"/>
<rect x="91.00" y="96.80" width="1.08" height="13.48" fill="#4d8dc7"/>
<rect x="92.00" y="96.80" width="1.08" height="13.48" fill="#6aa4d5"/>
<rect x="93.00" y="96.80" width="1.08" height="13.48" fill="#6da6d6"/>
<rect x="94.00" y="96.80" width="1.08" height="13.48" fill="#69a3d5"/>
<rect x="95.00" y="96.80" width="1.08" height="13.48" fill="#609cd0"/>
<rect x="96.00" y="96.80" width="1.08" height="13.48" fill="#c8dff0"/>
<rect x="97.00" y="96.80" width="1.08" height="13.48" fill="#ddeaf3"/>
<rect x="98.00" y="96.80" width="1.08" height="13.48" fill="#d6e7f3"/>
<rect x="99.00" y="96.80" width="1.08" height="13.48" fill="#bdd9ed"/>
<rect x="100.00" y="96.80" width="1.08" height="13.48" fill="#8abade"/>
<rect x="101.00" y="96.80" width="1.08" height="13.48" fill="#9fc7e4"/>
<rect x="102.00" y="96.80" width="1.08" height="13.48" fill="#91bee0"/>
<rect x="103.00" y="96.80" width="1.08" height="13.48" fill="#9cc6e4"/>
<rect x="104.00" y="96.80" width="1.08" height="13.48" fill="#b7d6eb"/>
<rect x="105.00" y="96.80" width="1.08" height="13.48" fill="#98c3e2"/>
<rect x="106.00" y="96.80" width="1.08" height="13.48" fill="#98c3e3"/>
<rect x="107.00" y="96.80" width="1.08" height="13.48" fill="#a4cbe6"/>
<rect x="108.00" y="96.80" width="1.08" height="13.48" fill="#bfdaed"/>
<rect x="109.00" y="96.80" width="1.08" height="13.48" fill="#d4e6f3"/>
<rect x="110.00" y="96.80" width="1.08" height="13.48" fill="#dfeaf3"/>
<rect x="111.00" y="96.80" width="1.08" height="13.48" fill="#dfeaf3"/>
<rect x="112.00" y="96.80" width="1.08" height="13.48" fill="#9fc7e4"/>
<rect x="113.00" y="96.80" width="1.08" height="13.48" fill="#b0d2e9"/>
<rect x="114.00" y="96.80" width="1.08" height="13.48" fill="#add0e8"/>
<rect x="115.00" y="96.80" width="1.08" height="13.48" fill="#81b4dc"/>
<rect x="116.00" y="96.80" width="1.08" height="13.48" fill="#c1dcee"/>
<rect x="117.00" y="96.80" width="1.08" height="13.48" fill="#a2cae5"/>
<rect x="118.00" y="96.80" width="1.08" height="13.48" fill="#bfdaed"/>
<rect x="119.00" y="96.80" width="1.08" height="13.48" fill="#a6cce6"/>
<rect x="120.00" y="96.80" width="1.08" height="13.48" fill="#8abade"/>
<rect x="121.00" y="96.80" width="1.08" height="13.48" fill="#93bfe1"/>
<rect x="122.00" y="96.80" width="1.08" height="13.48" fill="#9ac4e3"/>
<rect x="123.00" y="96.80" width="1.08" height="13.48" fill="#bad7ec"/>
<rect x="124.00" y="96.80" width="1.08" height="13.48" fill="#4f8fc8"/>
<rect x="125.00" y="96.80" width="1.08" height="13.48" fill="#5c99ce"/>
<rect x="126.00" y="96.80" width="1.08" height="13.48" fill="#609cd0"/>
<rect x="127.00" y="96.80" width="1.08" height="13.48" fill="#67a1d3"/>
<rect x="128.00" y="96.80" width="1.08" height="13.48" fill="#5d99cf"/>
<rect x="129.00" y="96.80" width="1.08" height="13.48" fill="#5b98ce"/>
<rect x="130.00" y="96.80" width="1.08" height="13.48" fill="#5694cc"/>
<rect x="131.00" y="96.80" width="1.08" height="13.48" fill="#67a2d4"/>
<rect x="132.00" y="96.80" width="1.08" height="13.48" fill="#5795cc"/>
<rect x="133.00" y="96.80" width="1.08" height="13.48" fill="#75abd8"/>
<rect x="134.00" y="96.80" width="1.08" height="13.48" fill="#5593cb"/>
<rect x="135.00" y="96.80" width="1.08" height="13.48" fill="#72a9d7"/>
<rect x="136.00" y="96.80" width="1.08" height="13.48" fill="#78add9"/>
<rect x="137.00" y="96.80" width="1.08" height="13.48" fill="#5f9bd0"/>
<rect x="138.00" y="96.80" width="1.08" height="13.48" fill="#5896cd"/>
<rect x="139.00" y="96.80" width="1.08" height="13.48" fill="#68a3d4"/>
<rect x="140.00" y="96.80" width="1.08" height="13.48" fill="#8cbbdf"/>
<rect x="141.00" y="96.80" width="1.08" height="13.48" fill="#9cc6e4"/>
<rect x="142.00" y="96.80" width="1.08" height="13.48" fill="#bad7ec"/>
<rect x="143.00" y="96.80" width="1.08" height="13.48" fill="#c3dcee"/>
<rect x="144.00" y="96.80" width="1.08" height="13.48" fill="#a7cde7"/>
<rect x="145.00" y="96.80" width="1.08" height="13.48" fill="#9dc6e4"/>
<rect x="146.00" y="96.80" width="1.08" height="13.48" fill="#8abade"/>
<rect x="147.00" y="96.80" width="1.08" height="13.48" fill="#8bbadf"/>
<rect x="148.00" y="96.80" width="1.08" height="13.48" fill="#aacfe8"/>
<rect x="149.00" y="96.80" width="1.08" height="13.48" fill="#87b7dd"/>
<rect x="150.00" y="96.80" width="1.08" height="13.48" fill="#bfdaed"/>
<rect x="151.00" y="96.80" width="1.08" height="13.48" fill="#7fb2db"/>
<rect x="152.00" y="96.80" width="1.08" height="13.48" fill="#7fb2db"/>
<rect x="153.00" y="96.80" width="1.08" height="13.48" fill="#b0d1e9"/>
<rect x="154.00" y="96.80" width="1.08" height="13.48" fill="#b3d3ea"/>
<rect x="155.00" y="96.80" width="1.08" height="13.48" fill="#92bfe1"/>
<rect x="156.00" y="96.80" width="1.08" height="13.48" fill="#a1c9e5"/>
<rect x="157.00" y="96.80" width="1.08" height="13.48" fill="#9bc5e3"/>
<rect x="158.00" y="96.80" width="1.08" height="13.48" fill="#9bc5e3"/>
<rect x="159.00" y="96.80" width="1.08" height="13.48" fill="#b7d6eb"/>
<rect x="160.00" y="96.80" width="1.08" height="13.48" fill="#dfeaf3"/>
<rect x="161.00" y="96.80" width="1.08" height="13.48" fill="#dfeaf3"/>
<rect x="162.00" y="96.80" width="1.08" height="13.48" fill="#d2e5f3"/>
<rect x="163.00" y="96.80" width="1.08" height="13.48" fill="#d3e6f3"/>
<rect x="164.00" y="96.80" width="1.08" height="13.48" fill="#8cbbdf"/>
<rect x="165.00" y="96.80" width="1.08" height="13.48" fill="#aacee8"/>
<rect x="166.00" y="96.80" width="1.08" height="13.48" fill="#98c3e2"/>
<rect x="167.00" y="96.80" width="1.08" height="13.48" fill="#bcd8ec"/>
<rect x="168.00" y="96.80" width="1.08" height="13.48" fill="#d2e5f2"/>
<rect x="169.00" y="96.80" width="1.08" height="13.48" fill="#d0e4f2"/>
<rect x="170.00" y="96.80" width="1.08" height="13.48" fill="#d6e7f3"/>
<rect x="171.00" y="96.80" width="1.08" height="13.48" fill="#e0ebf3"/>
<rect x="172.00" y="96.80" width="1.08" height="13.48" fill="#88b8de"/>
<rect x="173.00" y="96.80" width="1.08" height="13.48" fill="#7db1db"/>
<rect x="174.00" y="96.80" width="1.08" height="13.48" fill="#6ba5d5"/>
<rect x="175.00" y="96.80" width="1.08" height="13.48" fill="#75abd8"/>
<rect x="176.00" y="96.80" width="1.08" height="13.48" fill="#d5e6f3"/>
<rect x="177.00" y="96.80" width="1.08" height="13.48" fill="#cce1f1"/>
<rect x="178.00" y="96.80" width="1.08" height="13.48" fill="#c3ddef"/>
<rect x="179.00" y="96.80" width="1.08" height="13.48" fill="#b9d7ec"/>
<rect x="180.00" y="96.80" width="1.08" height="13.48" fill="#c6deef"/>
<rect x="181.00" y="96.80" width="1.08" height="13.48" fill="#d5e7f3"/>
<rect x="182.00" y="96.80" width="1.08" height="13.48" fill="#bedaed"/>
<rect x="183.00" y="96.80" width="1.08" height="13.48" fill="#d1e4f2"/>
<rect x="184.00" y="96.80" width="1.08" height="13.48" fill="#dbe9f3"/>
<rect x="185.00" y="96.80" width="1.08" height="13.48" fill="#cce1f1"/>
<rect x="186.00" y="96.80" width="1.08" height="13.48" fill="#e1ebf3"/>
<rect x="187.00" y="96.80" width="1.08" height="13.48" fill="#dae8f3"/>
<rect x="188.00" y="96.80" width="1.08" height="13.48" fill="#b2d3ea"/>
<rect x="189.00" y="96.80" width="1.08" height="13.48" fill="#90bee0"/>
<rect x="190.00" y="96.80" width="1.08" height="13.48" fill="#a8cde7"/>
<rect x="191.00" y="96.80" width="1.08" height="13.48" fill="#9fc8e5"/>
<rect x="192.00" y="96.80" width="1.08" height="13.48" fill="#bad7ec"/>
<rect x="193.00" y="96.80" width="1.08" height="13.48" fill="#d6e7f3"/>
<rect x="194.00" y="96.80" width="1.08" height="13.48" fill="#cce1f1"/>
<rect x="195.00" y="96.80" width="1.08" height="13.48" fill="#dde9f3"/>
<rect x="196.00" y="96.80" width="1.08" height="13.48" fill="#e8eef2"/>
<rect x="197.00" y="96.80" width="1.08" height="13.48" fill="#dae8f3"/>
<rect x="198.00" y="96.80" width="1.08" height="13.48" fill="#ddeaf3"/>
<rect x="199.00" y="96.80" width="1.08" height="13.48" fill="#dbe9f3"/>
<rect x="200.00" y="96.80" width="1.08" height="13.48" fill="#82b4dc"/>
<rect x="201.00" y="96.80" width="1.08" height="13.48" fill="#b0d2e9"/>
<rect x="202.00" y="96.80" width="1.08" height="13.48" fill="#a8cee7"/>
<rect x="203.00" y="96.80" width="1.08" height="13.48" fill="#a6cce7"/>
<rect x="204.00" y="96.80" width="1.08" height="13.48" fill="#d9e8f3"/>
<rect x="205.00" y="96.80" width="1.08" height="13.48" fill="#c3ddef"/>
<rect x="206.00" y="96.80" width="1.08" height="13.48" fill="#c3dcee"/>
<rect x="207.00" y="96.80" width="1.08" height="13.48" fill="#e2ecf3"/>
<rect x="208.00" y="96.80" width="1.08" height="13.48" fill="#d3e6f3"/>
<rect x="209.00" y="96.80" width="1.08" height="13.48" fill="#dce9f3"/>
<rect x="210.00" y="96.80" width="1.08" height="13.48" fill="#e4ecf2"/>
<rect x="211.00" y="96.80" width="1.08" height="13.48" fill="#cee3f1"/>
<rect x="212.00" y="96.80" width="1.08" height="13.48" fill="#c4ddef"/>
<rect x="213.00" y="96.80" width="1.08" height="13.48" fill="#e3ecf3"/>
<rect x="214.00" y="96.80" width="1.08" height="13.48" fill="#d8e8f3"/>
<rect x="215.00" y="96.80" width="1.08" height="13.48" fill="#cee3f1"/>
<rect x="216.00" y="96.80" width="1.08" height="13.48" fill="#f1f1f2"/>
<rect x="217.00" y="96.80" width="1.08" height="13.48" fill="#e8eef2"/>
<rect x="218.00" y="96.80" width="1.08" height="13.48" fill="#f5eae6"/>
<rect x="219.00" y="96.80" width="1.08" height="13.48" fill="#f5eae6"/>
<rect x="220.00" y="96.80" width="1.08" height="13.48" fill="#e7eef2"/>
<rect x="221.00" y="96.80" width="1.08" height="13.48" fill="#f4f0ef"/>
<rect x="222.00" y="96.80" width="1.08" height="13.48" fill="#f5eae6"/>
<rect x="223.00" y="96.80" width="1.08" height="13.48" fill="#f5eae6"/>
<rect x="224.00" y="96.80" width="1.08" height="13.48" fill="#f9ded5"/>
<rect x="225.00" y="96.80" width="1.08" height="13.48" fill="#f9ded5"/>
<rect x="226.00" y="96.80" width="1.08" height="13.48" fill="#f9ded5"/>
<rect x="227.00" y="96.80" width="1.08" height="13.48" fill="#f9ded5"/>
<rect x="228.00" y="96.80" width="1.08" height="13.48" fill="#f5eae6"/>
<rect x="229.00" y="96.80" width="1.08" height="13.48" fill="#f5edea"/>
<rect x="230.00" y="96.80" width="1.08" height="13.48" fill="#f5edea"/>
<rect x="231.00" y="96.80" width="1.08" height="13.48" fill="#f5eae6"/>
<rect x="232.00" y="96.80" width="1.08" height="13.48" fill="#f3f1f1"/>
<rect x="233.00" y="96.80" width="1.08" height="13.48" fill="#f5ece9"/>
<rect x="234.00" y="96.80" width="1.08" height="13.48" fill="#f4efed"/>
<rect x="235.00" y="96.80" width="1.08" height="13.48" fill="#eef0f2"/>
<rect x="236.00" y="96.80" width="1.08" height="13.48" fill="#e3ecf3"/>
<rect x="237.00" y="96.80" width="1.08" height="13.48" fill="#ebeff2"/>
<rect x="238.00" y="96.80" width="1.08" height="13.48" fill="#f2f2f2"/>
<rect x="239.00" y="96.80" width="1.08" height="13.48" fill="#f4edeb"/>
<rect x="240.00" y="96.80" width="1.08" height="13.48" fill="#eff0f2"/>
<rect x="241.00" y="96.80" width="1.08" height="13.48" fill="#ebeff2"/>
<rect x="242.00" y="96.80" width="1.08" height="13.48" fill="#e7edf2"/>
<rect x="243.00" y="96.80" width="1.08" height="13.48" fill="#f5ebe8"/>
<rect x="244.00" y="96.80" width="1.08" height="13.48" fill="#d2e5f2"/>
<rect x="245.00" y="96.80" width="1.08" height="13.48" fill="#cfe3f2"/>
<rect x="246.00" y="96.80" width="1.08" height="13.48" fill="#dae8f3"/>
<rect x="247.00" y="96.80" width="1.08" height="13.48" fill="#e9eef2"/>
<rect x="248.00" y="96.80" width="1.08" height="13.48" fill="#eaeef2"/>
<rect x="249.00" y="96.80" width="1.08" height="13.48" fill="#f5eae6"/>
<rect x="250.00" y="96.80" width="1.08" height="13.48" fill="#f4eeec"/>
<rect x="251.00" y="96.80" width="1.08" height="13.48" fill="#f1f1f2"/>
<rect x="252.00" y="96.80" width="1.08" height="13.48" fill="#d4e6f3"/>
<rect x="253.00" y="96.80" width="1.08" height="13.48" fill="#cfe3f2"/>
<rect x="254.00" y="96.80" width="1.08" height="13.48" fill="#c2dcee"/>
<rect x="255.00" y="96.80" width="1.08" height="13.48" fill="#c8dff0"/>
<rect x="256.00" y="96.80" width="1.08" height="13.48" fill="#b3d4ea"/>
<rect x="257.00" y="96.80" width="1.08" height="13.48" fill="#e2ecf3"/>
<rect x="258.00" y="96.80" width="1.08" height="13.48" fill="#d4e6f3"/>
<rect x="259.00" y="96.80" width="1.08" height="13.48" fill="#d4e6f3"/>
<rect x="260.00" y="96.80" width="1.08" height="13.48" fill="#d0e4f2"/>
<rect x="261.00" y="96.80" width="1.08" height="13.48" fill="#d7e7f3"/>
<rect x="262.00" y="96.80" width="1.08" height="13.48" fill="#cee3f1"/>
<rect x="263.00" y="96.80" width="1.08" height="13.48" fill="#d9e8f3"/>
<rect x="264.00" y="96.80" width="1.08" height="13.48" fill="#d6e7f3"/>
<rect x="265.00" y="96.80" width="1.08" height="13.48" fill="#dfeaf3"/>
<rect x="266.00" y="96.80" width="1.08" height="13.48" fill="#cee3f1"/>
<rect x="267.00" y="96.80" width="1.08" height="13.48" fill="#d6e7f3"/>
<rect x="268.00" y="96.80" width="1.08" height="13.48" fill="#93c0e1"/>
<rect x="269.00" y="96.80" width="1.08" height="13.48" fill="#a9cee7"/>
<rect x="270.00" y="96.80" width="1.08" height="13.48" fill="#a6cce7"/>
<rect x="271.00" y="96.80" width="1.08" height="13.48" fill="#abcfe8"/>
<rect x="272.00" y="96.80" width="1.08" height="13.48" fill="#a3cae6"/>
<rect x="273.00" y="96.80" width="1.08" height="13.48" fill="#b8d6eb"/>
<rect x="274.00" y="96.80" width="1.08" height="13.48" fill="#a9cee7"/>
<rect x="275.00" y="96.80" width="1.08" height="13.48" fill="#b2d3ea"/>
<rect x="276.00" y="96.80" width="1.08" height="13.48" fill="#a4cbe6"/>
<rect x="0.00" y="110.20" width="1.08" height="13.48" fill="#f7e4dd"/>
<rect x="1.00" y="110.20" width="1.08" height="13.48" fill="#f9dfd6"/>
<rect x="2.00" y="110.20" width="1.08" height="13.48" fill="#f2f2f2"/>
<rect x="3.00" y="110.20" width="1.08" height="13.48" fill="#f4f0ef"/>
<rect x="4.00" y="110.20" width="1.08" height="13.48" fill="#f2af95"/>
<rect x="5.00" y="110.20" width="1.08" height="13.48" fill="#f2b199"/>
<rect x="6.00" y="110.20" width="1.08" height="13.48" fill="#f8e1da"/>
<rect x="7.00" y="110.20" width="1.08" height="13.48" fill="#f8d6cb"/>
<rect x="8.00" y="110.20" width="1.08" height="13.48" fill="#eb987e"/>
<rect x="9.00" y="110.20" width="1.08" height="13.48" fill="#f1a98e"/>
<rect x="10.00" y="110.20" width="1.08" height="13.48" fill="#f8e1da"/>
<rect x="11.00" y="110.20" width="1.08" height="13.48" fill="#f8d5c8"/>
<rect x="12.00" y="110.20" width="1.08" height="13.48" fill="#f1f1f2"/>
<rect x="13.00" y="110.20" width="1.08" height="13.48" fill="#eff0f2"/>
<rect x="14.00" y="110.20" width="1.08" height="13.48" fill="#edf0f2"/>
<rect x="15.00" y="110.20" width="1.08" height="13.48" fill="#f4efee"/>
<rect x="16.00" y="110.20" width="1.08" height="13.48" fill="#ed9d83"/>
<rect x="17.00" y="110.20" width="1.08" height="13.48" fill="#efa48a"/>
<rect x="18.00" y="110.20" width="1.08" height="13.48" fill="#f9ded6"/>
<rect x="19.00" y="110.20" width="1.08" height="13.48" fill="#f9dcd2"/>
<rect x="20.00" y="110.20" width="1.08" height="13.48" fill="#eff0f2"/>
<rect x="21.00" y="110.20" width="1.08" height="13.48" fill="#f4edeb"/>
<rect x="22.00" y="110.20" width="1.08" height="13.48" fill="#f1f1f2"/>
<rect x="23.00" y="110.20" width="1.08" height="13.48" fill="#f3f1f0"/>
<rect x="24.00" y="110.20" width="1.08" height="13.48" fill="#f7d4c8"/>
<rect x="25.00" y="110.20" width="1.08" height="13.48" fill="#f7d4c8"/>
<rect x="26.00" y="110.20" width="1.08" height="13.48" fill="#f3f2f2"/>
<rect x="27.00" y="110.20" width="1.08" height="13.48" fill="#f0f1f2"/>
<rect x="28.00" y="110.20" width="1.08" height="13.48" fill="#f3f2f1"/>
<rect x="29.00" y="110.20" width="1.08" height="13.48" fill="#edf0f2"/>
<rect x="30.00" y="110.20" width="1.08" height="13.48" fill="#f7d4c7"/>
<rect x="31.00" y="110.20" width="1.08" height="13.48" fill="#f8e0d8"/>
<rect x="32.00" y="110.20" width="1.08" height="13.48" fill="#f4eeed"/>
<rect x="33.00" y="110.20" width="1.08" height="13.48" fill="#eff1f2"/>
<rect x="34.00" y="110.20" width="1.08" height="13.48" fill="#f9dfd7"/>
<rect x="35.00" y="110.20" width="1.08" height="13.48" fill="#f8e1d9"/>
<rect x="36.00" y="110.20" width="1.08" height="13.48" fill="#f9dfd6"/>
<rect x="37.00" y="110.20" width="1.08" height="13.48" fill="#f8e2da"/>
<rect x="38.00" y="110.20" width="1.08" height="13.48" fill="#e07a62"/>
<rect x="39.00" y="110.20" width="1.08" height="13.48" fill="#d45d4b"/>
<rect x="40.00" y="110.20" width="1.08" height="13.48" fill="#f8e1d9"/>
<rect x="41.00" y="110.20" width="1.08" height="13.48" fill="#f8e1d9"/>
<rect x="42.00" y="110.20" width="1.08" height="13.48" fill="#dc6d57"/>
<rect x="43.00" y="110.20" width="1.08" height="13.48" fill="#d96650"/>
<rect x="44.00" y="110.20" width="1.08" height="13.48" fill="#f1ac92"/>
<rect x="45.00" y="110.20" width="1.08" height="13.48" fill="#efa48a"/>
<rect x="46.00" y="110.20" width="1.08" height="13.48" fill="#efa389"/>
<rect x="47.00" y="110.20" width="1.08" height="13.48" fill="#f2ae95"/>
<rect x="48.00" y="110.20" width="1.08" height="13.48" fill="#cf5547"/>
<rect x="49.00" y="110.20" width="1.08" height="13.48" fill="#d15848"/>
<rect x="50.00" y="110.20" width="1.08" height="13.48" fill="#df7760"/>
<rect x="51.00" y="110.20" width="1.08" height="13.48" fill="#d25949"/>
<rect x="52.00" y="110.20" width="1.08" height="13.48" fill="#eb997f"/>
<rect x="53.00" y="110.20" width="1.08" height="13.48" fill="#ed9e84"/>
<rect x="54.00" y="110.20" width="1.08" height="13.48" fill="#9ac4e3"/>
<rect x="55.00" y="110.20" width="1.08" height="13.48" fill="#accfe8"/>
<rect x="56.00" y="110.20" width="1.08" height="13.48" fill="#5e9bd0"/>
<rect x="57.00" y="110.20" width="1.08" height="13.48" fill="#639fd2"/>
<rect x="58.00" y="110.20" width="1.08" height="13.48" fill="#66a1d3"/>
<rect x="59.00" y="110.20" width="1.08" height="13.48" fill="#80b3db"/>
<rect x="60.00" y="110.20" width="1.08" height="13.48" fill="#5694cc"/>
<rect x="61.00" y="110.20" width="1.08" height="13.48" fill="#4687c4"/>
<rect x="62.00" y="110.20" width="1.08" height="13.48" fill="#4687c4"/>
<rect x="63.00" y="110.20" width="1.08" height="13.48" fill="#4687c4"/>
<rect x="64.00" y="110.20" width="1.08" height="13.48" fill="#66a1d3"/>
<rect x="65.00" y="110.20" width="1.08" height="13.48" fill="#73aad8"/>
<rect x="66.00" y="110.20" width="1.08" height="13.48" fill="#76acd8"/>
<rect x="67.00" y="110.20" width="1.08" height="13.48" fill="#73aad8"/>
<rect x="68.00" y="110.20" width="1.08" height="13.48" fill="#79aed9"/>
<rect x="69.00" y="110.20" width="1.08" height="13.48" fill="#7eb2db"/>
<rect x="70.00" y="110.20" width="1.08" height="13.48" fill="#5392ca"/>
<rect x="71.00" y="110.20" width="1.08" height="13.48" fill="#84b6dd"/>
<rect x="72.00" y="110.20" width="1.08" height="13.48" fill="#76acd9"/>
<rect x="73.00" y="110.20" width="1.08" height="13.48" fill="#8fbde0"/>
<rect x="74.00" y="110.20" width="1.08" height="13.48" fill="#82b4dc"/>
<rect x="75.00" y="110.20" width="1.08" height="13.48" fill="#6fa7d6"/>
<rect x="76.00" y="110.20" width="1.08" height="13.48" fill="#70a8d7"/>
<rect x="77.00" y="110.20" width="1.08" height="13.48" fill="#81b3dc"/>
<rect x="78.00" y="110.20" width="1.08" height="13.48" fill="#5391ca"/>
<rect x="79.00" y="110.20" width="1.08" height="13.48" fill="#70a8d7"/>
<rect x="80.00" y="110.20" width="1.08" height="13.48" fill="#609cd0"/>
<rect x="81.00" y="110.20" width="1.08" height="13.48" fill="#649fd2"/>
<rect x="82.00" y="110.20" width="1.08" height="13.48" fill="#5a97ce"/>
<rect x="83.00" y="110.20" width="1.08" height="13.48" fill="#88b8de"/>
<rect x="84.00" y="110.20" width="1.08" height="13.48" fill="#4687c4"/>
<rect x="85.00" y="110.20" width="1.08" height="13.48" fill="#4687c4"/>
<rect x="86.00" y="110.20" width="1.08" height="13.48" fill="#4687c4"/>
<rect x="87.00" y="110.20" width="1.08" height="13.48" fill="#4989c5"/>
<rect x="88.00" y="110.20" width="1.08" height="13.48" fill="#5c99cf"/>
<rect x="89.00" y="110.20" width="1.08" height="13.48" fill="#5d9acf"/>
<rect x="90.00" y="110.20" width="1.08" height="13.48" fill="#6ba5d5"/>
<rect x="91.00" y="110.20" width="1.08" height="13.48" fill="#70a8d7"/>
<rect x="92.00" y="110.20" width="1.08" height="13.48" fill="#7aafda"/>
<rect x="93.00" y="110.20" width="1.08" height="13.48" fill="#7db1db"/>
<rect x="94.00" y="110.20" width="1.08" height="13.48" fill="#649fd2"/>
<rect x="95.00" y="110.20" width="1.08" height="13.48" fill="#74abd8"/>
<rect x="96.00" y="110.20" width="1.08" height="13.48" fill="#89b9de"/>
<rect x="97.00" y="110.20" width="1.08" height="13.48" fill="#c0dbee"/>
<rect x="98.00" y="110.20" width="1.08" height="13.48" fill="#b7d6eb"/>
<rect x="99.00" y="110.20" width="1.08" height="13.48" fill="#94c0e1"/>
<rect x="100.00" y="110.20" width="1.08" height="13.48" fill="#9ac4e3"/>
<rect x="101.00" y="110.20" width="1.08" height="13.48" fill="#a4cbe6"/>
<rect x="102.00" y="110.20" width="1.08" height="13.48" fill="#91bee0"/>
<rect x="103.00" y="110.20" width="1.08" height="13.48" fill="#a0c8e5"/>
<rect x="104.00" y="110.20" width="1.08" height="13.48" fill="#81b4dc"/>
<rect x="105.00" y="110.20" width="1.08" height="13.48" fill="#5895cc"/>
<rect x="106.00" y="110.20" width="1.08" height="13.48" fill="#5d9acf"/>
<rect x="107.00" y="110.20" width="1.08" height="13.48" fill="#6ba5d5"/>
<rect x="108.00" y="110.20" width="1.08" height="13.48" fill="#8abade"/>
<rect x="109.00" y="110.20" width="1.08" height="13.48" fill="#abcfe8"/>
<rect x="110.00" y="110.20" width="1.08" height="13.48" fill="#bed9ed"/>
<rect x="111.00" y="110.20" width="1.08" height="13.48" fill="#bbd8ec"/>
<rect x="112.00" y="110.20" width="1.08" height="13.48" fill="#66a1d3"/>
<rect x="113.00" y="110.20" width="1.08" height="13.48" fill="#84b5dd"/>
<rect x="114.00" y="110.20" width="1.08" height="13.48" fill="#74aad8"/>
<rect x="115.00" y="110.20" width="1.08" height="13.48" fill="#5b98ce"/>
<rect x="116.00" y="110.20" width="1.08" height="13.48" fill="#c3dcee"/>
<rect x="117.00" y="110.20" width="1.08" height="13.48" fill="#a0c8e5"/>
<rect x="118.00" y="110.20" width="1.08" height="13.48" fill="#bcd8ec"/>
<rect x="119.00" y="110.20" width="1.08" height="13.48" fill="#b5d5eb"/>
<rect x="120.00" y="110.20" width="1.08" height="13.48" fill="#98c3e2"/>
<rect x="121.00" y="110.20" width="1.08" height="13.48" fill="#accfe8"/>
<rect x="122.00" y="110.20" width="1.08" height="13.48" fill="#8ab9de"/>
<rect x="123.00" y="110.20" width="1.08" height="13.48" fill="#a9cee7"/>
<rect x="124.00" y="110.20" width="1.08" height="13.48" fill="#5c99cf"/>
<rect x="125.00" y="110.20" width="1.08" height="13.48" fill="#639ed2"/>
<rect x="126.00" y="110.20" width="1.08" height="13.48" fill="#5997cd"/>
<rect x="127.00" y="110.20" width="1.08" height="13.48" fill="#5d9acf"/>
<rect x="128.00" y="110.20" width="1.08" height="13.48" fill="#98c3e3"/>
<rect x="129.00" y="110.20" width="1.08" height="13.48" fill="#8fbde0"/>
<rect x="130.00" y="110.20" width="1.08" height="13.48" fill="#97c2e2"/>
<rect x="131.00" y="110.20" width="1.08" height="13.48" fill="#89b9de"/>
<rect x="132.00" y="110.20" width="1.08" height="13.48" fill="#9dc6e4"/>
<rect x="133.00" y="110.20" width="1.08" height="13.48" fill="#99c4e3"/>
<rect x="134.00" y="110.20" width="1.08" height="13.48" fill="#8bbadf"/>
<rect x="135.00" y="110.20" width="1.08" height="13.48" fill="#add0e8"/>
<rect x="136.00" y="110.20" width="1.08" height="13.48" fill="#70a8d7"/>
<rect x="137.00" y="110.20" width="1.08" height="13.48" fill="#6ba5d5"/>
<rect x="138.00" y="110.20" width="1.08" height="13.48" fill="#66a1d3"/>
<rect x="139.00" y="110.20" width="1.08" height="13.48" fill="#6ea7d6"/>
<rect x="140.00" y="110.20" width="1.08" height="13.48" fill="#96c2e2"/>
<rect x="141.00" y="110.20" width="1.08" height="13.48" fill="#89b9de"/>
<rect x="142.00" y="110.20" width="1.08" height="13.48" fill="#acd0e8"/>
<rect x="143.00" y="110.20" width="1.08" height="13.48" fill="#bcd9ed"/>
<rect x="144.00" y="110.20" width="1.08" height="13.48" fill="#a7cde7"/>
<rect x="145.00" y="110.20" width="1.08" height="13.48" fill="#add0e8"/>
<rect x="146.00" y="110.20" width="1.08" height="13.48" fill="#7cb0da"/>
<rect x="147.00" y="110.20" width="1.08" height="13.48" fill="#98c3e3"/>
<rect x="148.00" y="110.20" width="1.08" height="13.48" fill="#aacee8"/>
<rect x="149.00" y="110.20" width="1.08" height="13.48" fill="#9ac4e3"/>
<rect x="150.00" y="110.20" width="1.08" height="13.48" fill="#a3cae6"/>
<rect x="151.00" y="110.20" width="1.08" height="13.48" fill="#8abade"/>
<rect x="152.00" y="110.20" width="1.08" height="13.48" fill="#4e8ec8"/>
<rect x="153.00" y="110.20" width="1.08" height="13.48" fill="#75abd8"/>
<rect x="154.00" y="110.20" width="1.08" height="13.48" fill="#7db0da"/>
<rect x="155.00" y="110.20" width="1.08" height="13.48" fill="#619dd1"/>
<rect x="156.00" y="110.20" width="1.08" height="13.48" fill="#73aad8"/>
<rect x="157.00" y="110.20" width="1.08" height="13.48" fill="#629ed1"/>
<rect x="158.00" y="110.20" width="1.08" height="13.48" fill="#7cb0da"/>
<rect x="159.00" y="110.20" width="1.08" height="13.48" fill="#88b8de"/>
<rect x="160.00" y="110.20" width="1.08" height="13.48" fill="#e1ebf3"/>
<rect x="161.00" y="110.20" width="1.08" height="13.48" fill="#dce9f3"/>
<rect x="162.00" y="110.20" width="1.08" height="13.48" fill="#d0e4f2"/>
<rect x="163.00" y="110.20" width="1.08" height="13.48" fill="#d1e5f2"/>
<rect x="164.00" y="110.20" width="1.08" height="13.48" fill="#cce1f1"/>
<rect x="165.00" y="110.20" width="1.08" height="13.48" fill="#d5e7f3"/>
<rect x="166.00" y="110.20" width="1.08" height="13.48" fill="#d9e8f3"/>
<rect x="167.00" y="110.20" width="1.08" height="13.48" fill="#dbe9f3"/>
<rect x="168.00" y="110.20" width="1.08" height="13.48" fill="#d5e6f3"/>
<rect x="169.00" y="110.20" width="1.08" height="13.48" fill="#bbd8ec"/>
<rect x="170.00" y="110.20" width="1.08" height="13.48" fill="#d6e7f3"/>
<rect x="171.00" y="110.20" width="1.08" height="13.48" fill="#d7e7f3"/>
<rect x="172.00" y="110.20" width="1.08" height="13.48" fill="#f5eae6"/>
<rect x="173.00" y="110.20" width="1.08" height="13.48" fill="#f5eae6"/>
<rect x="174.00" y="110.20" width="1.08" height="13.48" fill="#f5eae7"/>
<rect x="175.00" y="110.20" width="1.08" height="13.48" fill="#f4f0ee"/>
<rect x="176.00" y="110.20" width="1.08" height="13.48" fill="#d3e5f3"/>
<rect x="177.00" y="110.20" width="1.08" height="13.48" fill="#dbe9f3"/>
<rect x="178.00" y="110.20" width="1.08" height="13.48" fill="#d0e4f2"/>
<rect x="179.00" y="110.20" width="1.08" height="13.48" fill="#b8d6eb"/>
<rect x="180.00" y="110.20" width="1.08" height="13.48" fill="#b9d7ec"/>
<rect x="181.00" y="110.20" width="1.08" height="13.48" fill="#c8dff0"/>
<rect x="182.00" y="110.20" width="1.08" height="13.48" fill="#c3ddef"/>
<rect x="183.00" y="110.20" width="1.08" height="13.48" fill="#d8e7f3"/>
<rect x="184.00" y="110.20" width="1.08" height="13.48" fill="#bcd9ed"/>
<rect x="185.00" y="110.20" width="1.08" height="13.48" fill="#b0d2e9"/>
<rect x="186.00" y="110.20" width="1.08" height="13.48" fill="#a8cde7"/>
<rect x="187.00" y="110.20" width="1.08" height="13.48" fill="#bbd8ec"/>
<rect x="188.00" y="110.20" width="1.08" height="13.48" fill="#d7e7f3"/>
<rect x="189.00" y="110.20" width="1.08" height="13.48" fill="#c1dcee"/>
<rect x="190.00" y="110.20" width="1.08" height="13.48" fill="#d2e5f3"/>
<rect x="191.00" y="110.20" width="1.08" height="13.48" fill="#cbe1f0"/>
<rect x="192.00" y="110.20" width="1.08" height="13.48" fill="#f3f2f1"/>
<rect x="193.00" y="110.20" width="1.08" height="13.48" fill="#eaeef2"/>
<rect x="194.00" y="110.20" width="1.08" height="13.48" fill="#eceff2"/>
<rect x="195.00" y="110.20" width="1.08" height="13.48" fill="#f5ecea"/>
<rect x="196.00" y="110.20" width="1.08" height="13.48" fill="#dfeaf3"/>
<rect x="197.00" y="110.20" width="1.08" height="13.48" fill="#dde9f3"/>
<rect x="198.00" y="110.20" width="1.08" height="13.48" fill="#e3ecf3"/>
<rect x="199.00" y="110.20" width="1.08" height="13.48" fill="#dce9f3"/>
<rect x="200.00" y="110.20" width="1.08" height="13.48" fill="#e6edf2"/>
<rect x="201.00" y="110.20" width="1.08" height="13.48" fill="#eff0f2"/>
<rect x="202.00" y="110.20" width="1.08" height="13.48" fill="#f5eae6"/>
<rect x="203.00" y="110.20" width="1.08" height="13.48" fill="#f3f1f0"/>
<rect x="204.00" y="110.20" width="1.08" height="13.48" fill="#d3e5f3"/>
<rect x="205.00" y="110.20" width="1.08" height="13.48" fill="#c3dcee"/>
<rect x="206.00" y="110.20" width="1.08" height="13.48" fill="#b5d5eb"/>
<rect x="207.00" y="110.20" width="1.08" height="13.48" fill="#e0ebf3"/>
<rect x="208.00" y="110.20" width="1.08" height="13.48" fill="#e6edf2"/>
<rect x="209.00" y="110.20" width="1.08" height="13.48" fill="#f5eae6"/>
<rect x="210.00" y="110.20" width="1.08" height="13.48" fill="#f4efee"/>
<rect x="211.00" y="110.20" width="1.08" height="13.48" fill="#f4efed"/>
<rect x="212.00" y="110.20" width="1.08" height="13.48" fill="#e8eef2"/>
<rect x="213.00" y="110.20" width="1.08" height="13.48" fill="#f3f1f0"/>
<rect x="214.00" y="110.20" width="1.08" height="13.48" fill="#f5ebe8"/>
<rect x="215.00" y="110.20" width="1.08" height="13.48" fill="#e4ecf2"/>
<rect x="216.00" y="110.20" width="1.08" height="13.48" fill="#f9ded5"/>
<rect x="217.00" y="110.20" width="1.08" height="13.48" fill="#f9ded5"/>
<rect x="218.00" y="110.20" width="1.08" height="13.48" fill="#f9ded5"/>
<rect x="219.00" y="110.20" width="1.08" height="13.48" fill="#f9ded5"/>
<rect x="220.00" y="110.20" width="1.08" height="13.48" fill="#eef0f2"/>
<rect x="221.00" y="110.20" width="1.08" height="13.48" fill="#f3f0f0"/>
<rect x="222.00" y="110.20" width="1.08" height="13.48" fill="#f4f0ef"/>
<rect x="223.00" y="110.20" width="1.08" height="13.48" fill="#f5ebe8"/>
<rect x="224.00" y="110.20" width="1.08" height="13.48" fill="#f9ded5"/>
<rect x="225.00" y="110.20" width="1.08" height="13.48" fill="#f9ded5"/>
<rect x="226.00" y="110.20" width="1.08" height="13.48" fill="#f9ded5"/>
<rect x="227.00" y="110.20" width="1.08" height="13.48" fill="#f9ded5"/>
<rect x="228.00" y="110.20" width="1.08" height="13.48" fill="#f5eae6"/>
<rect x="229.00" y="110.20" width="1.08" height="13.48" fill="#f5eae7"/>
<rect x="230.00" y="110.20" width="1.08" height="13.48" fill="#f4eeed"/>
<rect x="231.00" y="110.20" width="1.08" height="13.48" fill="#f4f0ef"/>
<rect x="232.00" y="110.20" width="1.08" height="13.48" fill="#f9ded5"/>
<rect x="233.00" y="110.20" width="1.08" height="13.48" fill="#f9ded5"/>
<rect x="234.00" y="110.20" width="1.08" height="13.48" fill="#f9ded5"/>
<rect x="235.00" y="110.20" width="1.08" height="13.48" fill="#f9ded5"/>
<rect x="236.00" y="110.20" width="1.08" height="13.48" fill="#eff0f2"/>
<rect x="237.00" y="110.20" width="1.08" height="13.48" fill="#f2f2f2"/>
<rect x="238.00" y="110.20" width="1.08" height="13.48" fill="#ebeff2"/>
<rect x="239.00" y="110.20" width="1.08" height="13.48" fill="#f5eae7"/>
<rect x="240.00" y="110.20" width="1.08" height="13.48" fill="#f9ded5"/>
<rect x="241.00" y="110.20" width="1.08" height="13.48" fill="#f9ded5"/>
<rect x="242.00" y="110.20" width="1.08" height="13.48" fill="#f9ded5"/>
<rect x="243.00" y="110.20" width="1.08" height="13.48" fill="#f9ded5"/>
<rect x="244.00" y="110.20" width="1.08" height="13.48" fill="#c5deef"/>
<rect x="245.00" y="110.20" width="1.08" height="13.48" fill="#dde9f3"/>
<rect x="246.00" y="110.20" width="1.08" height="13.48" fill="#dbe9f3"/>
<rect x="247.00" y="110.20" width="1.08" height="13.48" fill="#d5e6f3"/>
<rect x="248.00" y="110.20" width="1.08" height="13.48" fill="#c0dbee"/>
<rect x="249.00" y="110.20" width="1.08" height="13.48" fill="#e3ecf3"/>
<rect x="250.00" y="110.20" width="1.08" height="13.48" fill="#dbe9f3"/>
<rect x="251.00" y="110.20" width="1.08" height="13.48" fill="#c7dff0"/>
<rect x="252.00" y="110.20" width="1.08" height="13.48" fill="#cfe3f2"/>
<rect x="253.00" y="110.20" width="1.08" height="13.48" fill="#c7dfef"/>
<rect x="254.00" y="110.20" width="1.08" height="13.48" fill="#c6deef"/>
<rect x="255.00" y="110.20" width="1.08" height="13.48" fill="#d2e5f3"/>
<rect x="256.00" y="110.20" width="1.08" height="13.48" fill="#5a97cd"/>
<rect x="257.00" y="110.20" width="1.08" height="13.48" fill="#69a3d4"/>
<rect x="258.00" y="110.20" width="1.08" height="13.48" fill="#5c99ce"/>
<rect x="259.00" y="110.20" width="1.08" height="13.48" fill="#6ca5d5"/>
<rect x="260.00" y="110.20" width="1.08" height="13.48" fill="#d9e8f3"/>
<rect x="261.00" y="110.20" width="1.08" height="13.48" fill="#d9e8f3"/>
<rect x="262.00" y="110.20" width="1.08" height="13.48" fill="#c1dbee"/>
<rect x="263.00" y="110.20" width="1.08" height="13.48" fill="#dbe9f3"/>
<rect x="264.00" y="110.20" width="1.08" height="13.48" fill="#d2e5f2"/>
<rect x="265.00" y="110.20" width="1.08" height="13.48" fill="#dfeaf3"/>
<rect x="266.00" y="110.20" width="1.08" height="13.48" fill="#c7dff0"/>
<rect x="267.00" y="110.20" width="1.08" height="13.48" fill="#d4e6f3"/>
<rect x="268.00" y="110.20" width="1.08" height="13.48" fill="#92bfe1"/>
<rect x="269.00" y="110.20" width="1.08" height="13.48" fill="#a4cbe6"/>
<rect x="270.00" y="110.20" width="1.08" height="13.48" fill="#bfdaed"/>
<rect x="271.00" y="110.20" width="1.08" height="13.48" fill="#aed1e9"/>
<rect x="272.00" y="110.20" width="1.08" height="13.48" fill="#a9cee7"/>
<rect x="273.00" y="110.20" width="1.08" height="13.48" fill="#a8cde7"/>
<rect x="274.00" y="110.20" width="1.08" height="13.48" fill="#a7cde7"/>
<rect x="275.00" y="110.20" width="1.08" height="13.48" fill="#b1d3ea"/>
<rect x="276.00" y="110.20" width="1.08" height="13.48" fill="#b0d2e9"/>
<rect x="0.00" y="123.60" width="1.08" height="13.48" fill="#ea967d"/>
<rect x="1.00" y="123.60" width="1.08" height="13.48" fill="#ec9c82"/>
<rect x="2.00" y="123.60" width="1.08" height="13.48" fill="#f9dbd1"/>
<rect x="3.00" y="123.60" width="1.08" height="13.48" fill="#f8e0d8"/>
<rect x="4.00" y="123.60" width="1.08" height="13.48" fill="#f1ac92"/>
<rect x="5.00" y="123.60" width="1.08" height="13.48" fill="#eb9a80"/>
<rect x="6.00" y="123.60" width="1.08" height="13.48" fill="#f1f1f2"/>
<rect x="7.00" y="123.60" width="1.08" height="13.48" fill="#f4f0ef"/>
<rect x="8.00" y="123.60" width="1.08" height="13.48" fill="#a6cce7"/>
<rect x="9.00" y="123.60" width="1.08" height="13.48" fill="#aed0e9"/>
<rect x="10.00" y="123.60" width="1.08" height="13.48" fill="#abcfe8"/>
<rect x="11.00" y="123.60" width="1.08" height="13.48" fill="#9ec7e4"/>
<rect x="12.00" y="123.60" width="1.08" height="13.48" fill="#ebeff2"/>
<rect x="13.00" y="123.60" width="1.08" height="13.48" fill="#eff1f2"/>
<rect x="14.00" y="123.60" width="1.08" height="13.48" fill="#f2f2f2"/>
<rect x="15.00" y="123.60" width="1.08" height="13.48" fill="#f3f1f1"/>
<rect x="16.00" y="123.60" width="1.08" height="13.48" fill="#f7d4c8"/>
<rect x="17.00" y="123.60" width="1.08" height="13.48" fill="#f7d2c5"/>
<rect x="18.00" y="123.60" width="1.08" height="13.48" fill="#f7e3dd"/>
<rect x="19.00" y="123.60" width="1.08" height="13.48" fill="#f7d4c7"/>
<rect x="20.00" y="123.60" width="1.08" height="13.48" fill="#f4efed"/>
<rect x="21.00" y="123.60" width="1.08" height="13.48" fill="#f4eeed"/>
<rect x="22.00" y="123.60" width="1.08" height="13.48" fill="#f3f1f1"/>
<rect x="23.00" y="123.60" width="1.08" height="13.48" fill="#eff1f2"/>
<rect x="24.00" y="123.60" width="1.08" height="13.48" fill="#f4eeed"/>
<rect x="25.00" y="123.60" width="1.08" height="13.48" fill="#f4efee"/>
<rect x="26.00" y="123.60" width="1.08" height="13.48" fill="#f4f0ef"/>
<rect x="27.00" y="123.60" width="1.08" height="13.48" fill="#f4eeec"/>
<rect x="28.00" y="123.60" width="1.08" height="13.48" fill="#f1f1f2"/>
<rect x="29.00" y="123.60" width="1.08" height="13.48" fill="#edf0f2"/>
<rect x="30.00" y="123.60" width="1.08" height="13.48" fill="#f3f1f1"/>
<rect x="31.00" y="123.60" width="1.08" height="13.48" fill="#f4efee"/>
<rect x="32.00" y="123.60" width="1.08" height="13.48" fill="#f8e2da"/>
<rect x="33.00" y="123.60" width="1.08" height="13.48" fill="#f8d6ca"/>
<rect x="34.00" y="123.60" width="1.08" height="13.48" fill="#f7d1c3"/>
<rect x="35.00" y="123.60" width="1.08" height="13.48" fill="#f8e1da"/>
<rect x="36.00" y="123.60" width="1.08" height="13.48" fill="#f3f1f0"/>
<rect x="37.00" y="123.60" width="1.08" height="13.48" fill="#f4f0ef"/>
<rect x="38.00" y="123.60" width="1.08" height="13.48" fill="#b42730"/>
<rect x="39.00" y="123.60" width="1.08" height="13.48" fill="#ba3135"/>
<rect x="40.00" y="123.60" width="1.08" height="13.48" fill="#eff1f2"/>
<rect x="41.00" y="123.60" width="1.08" height="13.48" fill="#f4efee"/>
<rect x="42.00" y="123.60" width="1.08" height="13.48" fill="#d25a49"/>
<rect x="43.00" y="123.60" width="1.08" height="13.48" fill="#da6751"/>
<rect x="44.00" y="123.60" width="1.08" height="13.48" fill="#df765f"/>
<rect x="45.00" y="123.60" width="1.08" height="13.48" fill="#d25949"/>
<rect x="46.00" y="123.60" width="1.08" height="13.48" fill="#d35b4a"/>
<rect x="47.00" y="123.60" width="1.08" height="13.48" fill="#dd7059"/>
<rect x="48.00" y="123.60" width="1.08" height="13.48" fill="#f0a78c"/>
<rect x="49.00" y="123.60" width="1.08" height="13.48" fill="#eb9a80"/>
<rect x="50.00" y="123.60" width="1.08" height="13.48" fill="#b3262f"/>
<rect x="51.00" y="123.60" width="1.08" height="13.48" fill="#b3262f"/>
<rect x="52.00" y="123.60" width="1.08" height="13.48" fill="#d96650"/>
<rect x="53.00" y="123.60" width="1.08" height="13.48" fill="#d7624d"/>
<rect x="54.00" y="123.60" width="1.08" height="13.48" fill="#9bc5e3"/>
<rect x="55.00" y="123.60" width="1.08" height="13.48" fill="#9bc5e3"/>
<rect x="56.00" y="123.60" width="1.08" height="13.48" fill="#7fb2db"/>
<rect x="57.00" y="123.60" width="1.08" height="13.48" fill="#b2d3ea"/>
<rect x="58.00" y="123.60" width="1.08" height="13.48" fill="#abcfe8"/>
<rect x="59.00" y="123.60" width="1.08" height="13.48" fill="#a9cee7"/>
<rect x="60.00" y="123.60" width="1.08" height="13.48" fill="#7aafda"/>
<rect x="61.00" y="123.60" width="1.08" height="13.48" fill="#649fd2"/>
<rect x="62.00" y="123.60" width="1.08" height="13.48" fill="#67a2d4"/>
<rect x="63.00" y="123.60" width="1.08" height="13.48" fill="#629dd1"/>
<rect x="64.00" y="123.60" width="1.08" height="13.48" fill="#82b4dc"/>
<rect x="65.00" y="123.60" width="1.08" height="13.48" fill="#65a0d3"/>
<rect x="66.00" y="123.60" width="1.08" height="13.48" fill="#6ca5d6"/>
<rect x="67.00" y="123.60" width="1.08" height="13.48" fill="#87b7dd"/>
<rect x="68.00" y="123.60" width="1.08" height="13.48" fill="#74abd8"/>
<rect x="69.00" y="123.60" width="1.08" height="13.48" fill="#67a1d3"/>
<rect x="70.00" y="123.60" width="1.08" height="13.48" fill="#5e9bcf"/>
<rect x="71.00" y="123.60" width="1.08" height="13.48" fill="#6ea7d6"/>
<rect x="72.00" y="123.60" width="1.08" height="13.48" fill="#72aad7"/>
<rect x="73.00" y="123.60" width="1.08" height="13.48" fill="#70a8d7"/>
<rect x="74.00" y="123.60" width="1.08" height="13.48" fill="#69a3d4"/>
<rect x="75.00" y="123.60" width="1.08" height="13.48" fill="#73aad8"/>
<rect x="76.00" y="123.60" width="1.08" height="13.48" fill="#73aad8"/>
<rect x="77.00" y="123.60" width="1.08" height="13.48" fill="#72aad7"/>
<rect x="78.00" y="123.60" width="1.08" height="13.48" fill="#5c99ce"/>
<rect x="79.00" y="123.60" width="1.08" height="13.48" fill="#639ed2"/>
<rect x="80.00" y="123.60" width="1.08" height="13.48" fill="#66a1d3"/>
<rect x="81.00" y="123.60" width="1.08" height="13.48" fill="#5c99ce"/>
<rect x="82.00" y="123.60" width="1.08" height="13.48" fill="#67a2d4"/>
<rect x="83.00" y="123.60" width="1.08" height="13.48" fill="#83b5dc"/>
<rect x="84.00" y="123.60" width="1.08" height="13.48" fill="#66a1d3"/>
<rect x="85.00" y="123.60" width="1.08" height="13.48" fill="#70a8d7"/>
<rect x="86.00" y="123.60" width="1.08" height="13.48" fill="#609cd0"/>
<rect x="87.00" y="123.60" width="1.08" height="13.48" fill="#6ba4d5"/>
<rect x="88.00" y="123.60" width="1.08" height="13.48" fill="#b8d6eb"/>
<rect x="89.00" y="123.60" width="1.08" height="13.48" fill="#c7dff0"/>
<rect x="90.00" y="123.60" width="1.08" height="13.48" fill="#c8dff0"/>
<rect x="91.00" y="123.60" width="1.08" height="13.48" fill="#d5e6f3"/>
<rect x="92.00" y="123.60" width="1.08" height="13.48" fill="#f5ebe9"/>
<rect x="93.00" y="123.60" width="1.08" height="13.48" fill="#f5eae6"/>
<rect x="94.00" y="123.60" width="1.08" height="13.48" fill="#eceff2"/>
<rect x="95.00" y="123.60" width="1.08" height="13.48" fill="#f4edeb"/>
<rect x="96.00" y="123.60" width="1.08" height="13.48" fill="#d9e8f3"/>
<rect x="97.00" y="123.60" width="1.08" height="13.48" fill="#d5e6f3"/>
<rect x="98.00" y="123.60" width="1.08" height="13.48" fill="#e3ecf3"/>
<rect x="99.00" y="123.60" width="1.08" height="13.48" fill="#c1dcee"/>
<rect x="100.00" y="123.60" width="1.08" height="13.48" fill="#e2ebf3"/>
<rect x="101.00" y="123.60" width="1.08" height="13.48" fill="#f3f0f0"/>
<rect x="102.00" y="123.60" width="1.08" height="13.48" fill="#e6edf2"/>
<rect x="103.00" y="123.60" width="1.08" height="13.48" fill="#f3f1f1"/>
<rect x="104.00" y="123.60" width="1.08" height="13.48" fill="#dae8f3"/>
<rect x="105.00" y="123.60" width="1.08" height="13.48" fill="#d7e7f3"/>
<rect x="106.00" y="123.60" width="1.08" height="13.48" fill="#c4ddef"/>
<rect x="107.00" y="123.60" width="1.08" height="13.48" fill="#cde2f1"/>
<rect x="108.00" y="123.60" width="1.08" height="13.48" fill="#4687c4"/>
<rect x="109.00" y="123.60" width="1.08" height="13.48" fill="#4687c4"/>
<rect x="110.00" y="123.60" width="1.08" height="13.48" fill="#609cd0"/>
<rect x="111.00" y="123.60" width="1.08" height="13.48" fill="#5996cd"/>
<rect x="112.00" y="123.60" width="1.08" height="13.48" fill="#9ac4e3"/>
<rect x="113.00" y="123.60" width="1.08" height="13.48" fill="#97c3e2"/>
<rect x="114.00" y="123.60" width="1.08" height="13.48" fill="#a3cbe6"/>
<rect x="115.00" y="123.60" width="1.08" height="13.48" fill="#87b7dd"/>
<rect x="116.00" y="123.60" width="1.08" height="13.48" fill="#c3dcee"/>
<rect x="117.00" y="123.60" width="1.08" height="13.48" fill="#bed9ed"/>
<rect x="118.00" y="123.60" width="1.08" height="13.48" fill="#c0daed"/>
<rect x="119.00" y="123.60" width="1.08" height="13.48" fill="#a1c9e5"/>
<rect x="120.00" y="123.60" width="1.08" height="13.48" fill="#a9cee7"/>
<rect x="121.00" y="123.60" width="1.08" height="13.48" fill="#a7cde7"/>
<rect x="122.00" y="123.60" width="1.08" height="13.48" fill="#95c1e2"/>
<rect x="123.00" y="123.60" width="1.08" height="13.48" fill="#bad7ec"/>
<rect x="124.00" y="123.60" width="1.08" height="13.48" fill="#7bb0da"/>
<rect x="125.00" y="123.60" width="1.08" height="13.48" fill="#7fb2db"/>
<rect x="126.00" y="123.60" width="1.08" height="13.48" fill="#9fc8e5"/>
<rect x="127.00" y="123.60" width="1.08" height="13.48" fill="#a4cbe6"/>
<rect x="128.00" y="123.60" width="1.08" height="13.48" fill="#a3cae6"/>
<rect x="129.00" y="123.60" width="1.08" height="13.48" fill="#84b6dd"/>
<rect x="130.00" y="123.60" width="1.08" height="13.48" fill="#8ebcdf"/>
<rect x="131.00" y="123.60" width="1.08" height="13.48" fill="#9cc6e4"/>
<rect x="132.00" y="123.60" width="1.08" height="13.48" fill="#b6d5eb"/>
<rect x="133.00" y="123.60" width="1.08" height="13.48" fill="#c8dff0"/>
<rect x="134.00" y="123.60" width="1.08" height="13.48" fill="#b7d6eb"/>
<rect x="135.00" y="123.60" width="1.08" height="13.48" fill="#d6e7f3"/>
<rect x="136.00" y="123.60" width="1.08" height="13.48" fill="#a8cde7"/>
<rect x="137.00" y="123.60" width="1.08" height="13.48" fill="#84b6dd"/>
<rect x="138.00" y="123.60" width="1.08" height="13.48" fill="#8cbbdf"/>
<rect x="139.00" y="123.60" width="1.08" height="13.48" fill="#8ebcdf"/>
<rect x="140.00" y="123.60" width="1.08" height="13.48" fill="#d4e6f3"/>
<rect x="141.00" y="123.60" width="1.08" height="13.48" fill="#b3d4ea"/>
<rect x="142.00" y="123.60" width="1.08" height="13.48" fill="#e2ecf3"/>
<rect x="143.00" y="123.60" width="1.08" height="13.48" fill="#dbe9f3"/>
<rect x="144.00" y="123.60" width="1.08" height="13.48" fill="#c3dcee"/>
<rect x="145.00" y="123.60" width="1.08" height="13.48" fill="#dde9f3"/>
<rect x="146.00" y="123.60" width="1.08" height="13.48" fill="#b9d7ec"/>
<rect x="147.00" y="123.60" width="1.08" height="13.48" fill="#d1e5f2"/>
<rect x="148.00" y="123.60" width="1.08" height="13.48" fill="#d8e7f3"/>
<rect x="149.00" y="123.60" width="1.08" height="13.48" fill="#d6e7f3"/>
<rect x="150.00" y="123.60" width="1.08" height="13.48" fill="#d5e7f3"/>
<rect x="151.00" y="123.60" width="1.08" height="13.48" fill="#c4ddef"/>
<rect x="152.00" y="123.60" width="1.08" height="13.48" fill="#7bafda"/>
<rect x="153.00" y="123.60" width="1.08" height="13.48" fill="#c6deef"/>
<rect x="154.00" y="123.60" width="1.08" height="13.48" fill="#b1d2e9"/>
<rect x="155.00" y="123.60" width="1.08" height="13.48" fill="#97c2e2"/>
<rect x="156.00" y="123.60" width="1.08" height="13.48" fill="#a4cbe6"/>
<rect x="157.00" y="123.60" width="1.08" height="13.48" fill="#85b6dd"/>
<rect x="158.00" y="123.60" width="1.08" height="13.48" fill="#b0d2e9"/>
<rect x="159.00" y="123.60" width="1.08" height="13.48" fill="#b8d6eb"/>
<rect x="160.00" y="123.60" width="1.08" height="13.48" fill="#e1ebf3"/>
<rect x="161.00" y="123.60" width="1.08" height="13.48" fill="#d0e4f2"/>
<rect x="162.00" y="123.60" width="1.08" height="13.48" fill="#c0dbee"/>
<rect x="163.00" y="123.60" width="1.08" height="13.48" fill="#bfdaed"/>
<rect x="164.00" y="123.60" width="1.08" height="13.48" fill="#cde2f1"/>
<rect x="165.00" y="123.60" width="1.08" height="13.48" fill="#dde9f3"/>
<rect x="166.00" y="123.60" width="1.08" height="13.48" fill="#c9e0f0"/>
<rect x="167.00" y="123.60" width="1.08" height="13.48" fill="#e4ecf2"/>
<rect x="168.00" y="123.60" width="1.08" height="13.48" fill="#c5ddef"/>
<rect x="169.00" y="123.60" width="1.08" height="13.48" fill="#c5deef"/>
<rect x="170.00" y="123.60" width="1.08" height="13.48" fill="#d5e6f3"/>
<rect x="171.00" y="123.60" width="1.08" height="13.48" fill="#dde9f3"/>
<rect x="172.00" y="123.60" width="1.08" height="13.48" fill="#8abade"/>
<rect x="173.00" y="123.60" width="1.08" height="13.48" fill="#73aad8"/>
<rect x="174.00" y="123.60" width="1.08" height="13.48" fill="#6da6d6"/>
<rect x="175.00" y="123.60" width="1.08" height="13.48" fill="#76acd9"/>
<rect x="176.00" y="123.60" width="1.08" height="13.48" fill="#8ebce0"/>
<rect x="177.00" y="123.60" width="1.08" height="13.48" fill="#b2d3ea"/>
<rect x="178.00" y="123.60" width="1.08" height="13.48" fill="#8dbbdf"/>
<rect x="179.00" y="123.60" width="1.08" height="13.48" fill="#9fc8e4"/>
<rect x="180.00" y="123.60" width="1.08" height="13.48" fill="#79aeda"/>
<rect x="181.00" y="123.60" width="1.08" height="13.48" fill="#a8cde7"/>
<rect x="182.00" y="123.60" width="1.08" height="13.48" fill="#9ec7e4"/>
<rect x="183.00" y="123.60" width="1.08" height="13.48" fill="#a2cae6"/>
<rect x="184.00" y="123.60" width="1.08" height="13.48" fill="#b7d6eb"/>
<rect x="185.00" y="123.60" width="1.08" height="13.48" fill="#99c3e3"/>
<rect x="186.00" y="123.60" width="1.08" height="13.48" fill="#afd1e9"/>
<rect x="187.00" y="123.60" width="1.08" height="13.48" fill="#afd1e9"/>
<rect x="188.00" y="123.60" width="1.08" height="13.48" fill="#b3d3ea"/>
<rect x="189.00" y="123.60" width="1.08" height="13.48" fill="#afd1e9"/>
<rect x="190.00" y="123.60" width="1.08" height="13.48" fill="#a9cee7"/>
<rect x="191.00" y="123.60" width="1.08" height="13.48" fill="#a6cce7"/>
<rect x="192.00" y="123.60" width="1.08" height="13.48" fill="#84b5dd"/>
<rect x="193.00" y="123.60" width="1.08" height="13.48" fill="#8cbbdf"/>
<rect x="194.00" y="123.60" width="1.08" height="13.48" fill="#b7d6eb"/>
<rect x="195.00" y="123.60" width="1.08" height="13.48" fill="#a6cce7"/>
<rect x="196.00" y="123.60" width="1.08" height="13.48" fill="#85b6dd"/>
<rect x="197.00" y="123.60" width="1.08" height="13.48" fill="#649fd2"/>
<rect x="198.00" y="123.60" width="1.08" height="13.48" fill="#85b6dd"/>
<rect x="199.00" y="123.60" width="1.08" height="13.48" fill="#68a2d4"/>
<rect x="200.00" y="123.60" width="1.08" height="13.48" fill="#eef0f2"/>
<rect x="201.00" y="123.60" width="1.08" height="13.48" fill="#f3f1f1"/>
<rect x="202.00" y="123.60" width="1.08" height="13.48" fill="#f4f0ef"/>
<rect x="203.00" y="123.60" width="1.08" height="13.48" fill="#f0f1f2"/>
<rect x="204.00" y="123.60" width="1.08" height="13.48" fill="#f5eae6"/>
<rect x="205.00" y="123.60" width="1.08" height="13.48" fill="#f3f2f2"/>
<rect x="206.00" y="123.60" width="1.08" height="13.48" fill="#e3ecf3"/>
<rect x="207.00" y="123.60" width="1.08" height="13.48" fill="#f4eeec"/>
<rect x="208.00" y="123.60" width="1.08" height="13.48" fill="#d8e8f3"/>
<rect x="209.00" y="123.60" width="1.08" height="13.48" fill="#d6e7f3"/>
<rect x="210.00" y="123.60" width="1.08" height="13.48" fill="#e3ecf3"/>
<rect x="211.00" y="123.60" width="1.08" height="13.48" fill="#c3ddee"/>
<rect x="212.00" y="123.60" width="1.08" height="13.48" fill="#e9eef2"/>
<rect x="213.00" y="123.60" width="1.08" height="13.48" fill="#f5eae6"/>
<rect x="214.00" y="123.60" width="1.08" height="13.48" fill="#f5ebe8"/>
<rect x="215.00" y="123.60" width="1.08" height="13.48" fill="#e3ecf3"/>
<rect x="216.00" y="123.60" width="1.08" height="13.48" fill="#b6d5eb"/>
<rect x="217.00" y="123.60" width="1.08" height="13.48" fill="#b7d6eb"/>
<rect x="218.00" y="123.60" width="1.08" height="13.48" fill="#e2ebf3"/>
<rect x="219.00" y="123.60" width="1.08" height="13.48" fill="#dce9f3"/>
<rect x="220.00" y="123.60" width="1.08" height="13.48" fill="#e4ecf2"/>
<rect x="221.00" y="123.60" width="1.08" height="13.48" fill="#f4f0ef"/>
<rect x="222.00" y="123.60" width="1.08" height="13.48" fill="#f5eae6"/>
<rect x="223.00" y="123.60" width="1.08" height="13.48" fill="#f5ecea"/>
<rect x="224.00" y="123.60" width="1.08" height="13.48" fill="#f4f0f0"/>
<rect x="225.00" y="123.60" width="1.08" height="13.48" fill="#f4f0ef"/>
<rect x="226.00" y="123.60" width="1.08" height="13.48" fill="#e2ecf3"/>
<rect x="227.00" y="123.60" width="1.08" height="13.48" fill="#dce9f3"/>
<rect x="228.00" y="123.60" width="1.08" height="13.48" fill="#8cbbdf"/>
<rect x="229.00" y="123.60" width="1.08" height="13.48" fill="#6ea7d6"/>
<rect x="230.00" y="123.60" width="1.08" height="13.48" fill="#74abd8"/>
<rect x="231.00" y="123.60" width="1.08" height="13.48" fill="#6fa7d6"/>
<rect x="232.00" y="123.60" width="1.08" height="13.48" fill="#f4efed"/>
<rect x="233.00" y="123.60" width="1.08" height="13.48" fill="#f4eeec"/>
<rect x="234.00" y="123.60" width="1.08" height="13.48" fill="#f5eae6"/>
<rect x="235.00" y="123.60" width="1.08" height="13.48" fill="#f3f2f2"/>
<rect x="236.00" y="123.60" width="1.08" height="13.48" fill="#eceff2"/>
<rect x="237.00" y="123.60" width="1.08" height="13.48" fill="#e3ecf3"/>
<rect x="238.00" y="123.60" width="1.08" height="13.48" fill="#f3f1f0"/>
<rect x="239.00" y="123.60" width="1.08" height="13.48" fill="#f3f1f0"/>
<rect x="240.00" y="123.60" width="1.08" height="13.48" fill="#d9654f"/>
<rect x="241.00" y="123.60" width="1.08" height="13.48" fill="#d9654f"/>
<rect x="242.00" y="123.60" width="1.08" height="13.48" fill="#d9654f"/>
<rect x="243.00" y="123.60" width="1.08" height="13.48" fill="#d9654f"/>
<rect x="244.00" y="123.60" width="1.08" height="13.48" fill="#f9ded5"/>
<rect x="245.00" y="123.60" width="1.08" height="13.48" fill="#f9ded5"/>
<rect x="246.00" y="123.60" width="1.08" height="13.48" fill="#f9ded5"/>
<rect x="247.00" y="123.60" width="1.08" height="13.48" fill="#f9ded5"/>
<rect x="248.00" y="123.60" width="1.08" height="13.48" fill="#f9ded5"/>
<rect x="249.00" y="123.60" width="1.08" height="13.48" fill="#f9ded5"/>
<rect x="250.00" y="123.60" width="1.08" height="13.48" fill="#f9ded5"/>
<rect x="251.00" y="123.60" width="1.08" height="13.48" fill="#f9ded5"/>
<rect x="252.00" y="123.60" width="1.08" height="13.48" fill="#f5ecea"/>
<rect x="253.00" y="123.60" width="1.08" height="13.48" fill="#e0ebf3"/>
<rect x="254.00" y="123.60" width="1.08" height="13.48" fill="#ebeff2"/>
<rect x="255.00" y="123.60" width="1.08" height="13.48" fill="#f1f1f2"/>
<rect x="256.00" y="123.60" width="1.08" height="13.48" fill="#e2ecf3"/>
<rect x="257.00" y="123.60" width="1.08" height="13.48" fill="#f3f1f1"/>
<rect x="258.00" y="123.60" width="1.08" height="13.48" fill="#e7edf2"/>
<rect x="259.00" y="123.60" width="1.08" height="13.48" fill="#f3f1f1"/>
<rect x="260.00" y="123.60" width="1.08" height="13.48" fill="#f9ded5"/>
<rect x="261.00" y="123.60" width="1.08" height="13.48" fill="#f9ded5"/>
<rect x="262.00" y="123.60" width="1.08" height="13.48" fill="#f9ded5"/>
<rect x="263.00" y="123.60" width="1.08" height="13.48" fill="#f9ded5"/>
<rect x="264.00" y="123.60" width="1.08" height="13.48" fill="#eaeef2"/>
<rect x="265.00" y="123.60" width="1.08" height="13.48" fill="#f5edea"/>
<rect x="266.00" y="123.60" width="1.08" height="13.48" fill="#e7edf2"/>
<rect x="267.00" y="123.60" width="1.08" height="13.48" fill="#f3f1f0"/>
<rect x="268.00" y="123.60" width="1.08" height="13.48" fill="#e4ecf2"/>
<rect x="269.00" y="123.60" width="1.08" height="13.48" fill="#f1f1f2"/>
<rect x="270.00" y="123.60" width="1.08" height="13.48" fill="#f5eae6"/>
<rect x="271.00" y="123.60" width="1.08" height="13.48" fill="#f5edea"/>
<rect x="272.00" y="123.60" width="1.08" height="13.48" fill="#f9ded5"/>
<rect x="273.00" y="123.60" width="1.08" height="13.48" fill="#f9ded5"/>
<rect x="274.00" y="123.60" width="1.08" height="13.48" fill="#f9ded5"/>
<rect x="275.00" y="123.60" width="1.08" height="13.48" fill="#f9ded5"/>
<rect x="276.00" y="123.60" width="1.08" height="13.48" fill="#f2f2f2"/>
<line x1="26.00" y1="27.50" x2="157.00" y2="27.50" stroke="#231f20" stroke-width="1.0"/>
<line x1="26.50" y1="27.50" x2="26.50" y2="43.20" stroke="#231f20" stroke-width="1.0"/>
<line x1="157.50" y1="27.50" x2="157.50" y2="41.50" stroke="#231f20" stroke-width="1.0"/>
<line x1="9.00" y1="43.50" x2="43.00" y2="43.50" stroke="#231f20" stroke-width="1.0"/>
<line x1="90.20" y1="41.50" x2="224.00" y2="41.50" stroke="#231f20" stroke-width="1.0"/>
<line x1="9.50" y1="43.20" x2="9.50" y2="48.00" stroke="#231f20" stroke-width="1.0"/>
<line x1="43.50" y1="43.20" x2="43.50" y2="47.00" stroke="#231f20" stroke-width="1.0"/>
<line x1="2.00" y1="48.50" x2="15.50" y2="48.50" stroke="#231f20" stroke-width="1.0"/>
<line x1="39.40" y1="47.50" x2="44.50" y2="47.50" stroke="#231f20" stroke-width="1.0"/>
<line x1="90.50" y1="41.50" x2="90.50" y2="50.60" stroke="#231f20" stroke-width="1.0"/>
<line x1="224.50" y1="41.50" x2="224.50" y2="48.00" stroke="#231f20" stroke-width="1.0"/>
<line x1="67.00" y1="50.50" x2="113.00" y2="50.50" stroke="#231f20" stroke-width="1.0"/>
<line x1="196.50" y1="48.50" x2="252.00" y2="48.50" stroke="#231f20" stroke-width="1.0"/>
<line x1="67.50" y1="50.60" x2="67.50" y2="52.50" stroke="#231f20" stroke-width="1.0"/>
<line x1="113.50" y1="50.60" x2="113.50" y2="52.00" stroke="#231f20" stroke-width="1.0"/>
<line x1="97.00" y1="51.50" x2="113.00" y2="51.50" stroke="#231f20" stroke-width="1.0"/>
<line x1="113.80" y1="52.50" x2="129.20" y2="52.50" stroke="#231f20" stroke-width="1.0"/>
<line x1="196.50" y1="48.00" x2="196.50" y2="50.50" stroke="#231f20" stroke-width="1.0"/>
<line x1="252.50" y1="48.00" x2="252.50" y2="50.50" stroke="#231f20" stroke-width="1.0"/>
<line x1="241.00" y1="50.50" x2="262.00" y2="50.50" stroke="#231f20" stroke-width="1.0"/>
<line x1="182.00" y1="50.50" x2="212.00" y2="50.50" stroke="#231f20" stroke-width="1.0"/>
<line x1="2.50" y1="48.00" x2="2.50" y2="52.00" stroke="#231f20" stroke-width="1.0"/>
<line x1="15.50" y1="48.00" x2="15.50" y2="51.00" stroke="#231f20" stroke-width="1.0"/>
<path d="M0,56.6 L0.00,52.93 L3.40,52.93 L3.40,53.12 L7.02,53.12 L7.02,53.48 L8.75,53.48 L8.75,52.62 L13.18,52.62 L13.18,52.96 L15.50,52.96 L15.50,53.99 L18.65,53.99 L18.65,53.77 L21.81,53.77 L21.81,53.49 L23.84,53.49 L23.84,53.49 L28.38,53.49 L28.38,53.33 L32.47,53.33 L32.47,53.54 L34.20,53.54 L34.20,53.66 L37.76,53.66 L37.76,53.02 L39.37,53.02 L39.37,53.81 L42.53,53.81 L42.53,53.61 L47.10,53.61 L47.10,53.60 L51.83,53.60 L51.83,53.15 L56.13,53.15 L56.13,53.22 L60.91,53.22 L60.91,53.83 L62.75,53.83 L62.75,52.79 L65.01,52.79 L65.01,53.95 L68.03,53.95 L68.03,53.48 L70.59,53.48 L70.59,53.31 L73.44,53.31 L73.44,53.09 L76.98,53.09 L76.98,53.42 L81.65,53.42 L81.65,53.55 L86.40,53.55 L86.40,53.80 L91.37,53.80 L91.37,53.54 L93.44,53.54 L93.44,53.80 L98.32,53.80 L98.32,53.87 L101.81,53.87 L101.81,53.60 L104.05,53.60 L104.05,53.76 L107.55,53.76 L107.55,53.00 L109.28,53.00 L109.28,53.80 L114.24,53.80 L114.24,52.72 L118.54,52.72 L118.54,53.17 L120.57,53.17 L120.57,53.01 L124.76,53.01 L124.76,53.82 L126.42,53.82 L126.42,53.46 L128.07,53.46 L128.07,53.61 L130.73,53.61 L130.73,53.83 L135.66,53.83 L135.66,53.31 L140.66,53.31 L140.66,53.03 L142.43,53.03 L142.43,53.44 L144.04,53.44 L144.04,52.88 L146.97,52.88 L146.97,53.45 L149.01,53.45 L149.01,52.66 L153.55,52.66 L153.55,53.04 L158.40,53.04 L158.40,53.86 L161.23,53.86 L161.23,53.24 L164.55,53.24 L164.55,53.50 L168.13,53.50 L168.13,53.38 L171.80,53.38 L171.80,53.92 L175.08,53.92 L175.08,53.20 L179.10,53.20 L179.10,52.93 L181.65,52.93 L181.65,53.97 L184.98,53.97 L184.98,53.37 L186.52,53.37 L186.52,53.18 L190.05,53.18 L190.05,52.63 L193.70,52.63 L193.70,53.49 L195.41,53.49 L195.41,53.48 L198.54,53.48 L198.54,53.55 L201.28,53.55 L201.28,53.59 L205.36,53.59 L205.36,52.63 L207.07,52.63 L207.07,53.55 L211.94,53.55 L211.94,52.95 L215.04,52.95 L215.04,53.43 L217.66,53.43 L217.66,53.11 L220.26,53.11 L220.26,53.12 L223.84,53.12 L223.84,53.02 L226.66,53.02 L226.66,53.68 L228.25,53.68 L228.25,53.40 L232.33,53.40 L232.33,53.03 L234.61,53.03 L234.61,53.73 L236.94,53.73 L236.94,52.86 L239.97,52.86 L239.97,53.58 L241.82,53.58 L241.82,53.05 L244.49,53.05 L244.49,53.77 L247.52,53.77 L247.52,53.80 L249.62,53.80 L249.62,53.07 L253.39,53.07 L253.39,53.84 L256.47,53.84 L256.47,52.92 L258.39,52.92 L258.39,53.34 L260.56,53.34 L260.56,53.73 L265.00,53.73 L265.00,52.86 L267.47,52.86 L267.47,53.73 L271.22,53.73 L271.22,53.73 L273.93,53.73 L273.93,52.78 L276.45,52.78 L276.45,53.71 L278.90,53.71 L277.00,53.71 L277,56.6 Z" fill="#231f20"/>
<rect x="0.50" y="54.42" width="2.86" height="1.13" fill="#ffffff"/>
<rect x="6.65" y="54.94" width="1.95" height="0.80" fill="#cfcfcf"/>
<rect x="12.06" y="54.93" width="3.28" height="1.56" fill="#ffffff"/>
<rect x="18.16" y="54.52" width="5.22" height="1.33" fill="#ffffff"/>
<rect x="25.10" y="54.59" width="2.29" height="0.85" fill="#ffffff"/>
<rect x="30.38" y="54.69" width="1.42" height="1.52" fill="#cfcfcf"/>
<rect x="35.01" y="54.01" width="5.52" height="1.26" fill="#ffffff"/>
<rect x="41.80" y="54.52" width="2.64" height="1.33" fill="#ffffff"/>
<rect x="47.77" y="54.25" width="4.14" height="1.07" fill="#cfcfcf"/>
<rect x="54.00" y="54.20" width="4.96" height="1.08" fill="#ffffff"/>
<rect x="61.96" y="54.92" width="2.02" height="1.43" fill="#cfcfcf"/>
<rect x="67.00" y="54.86" width="1.24" height="1.30" fill="#ffffff"/>
<rect x="69.77" y="54.42" width="2.49" height="1.22" fill="#ffffff"/>
<rect x="75.16" y="54.13" width="1.21" height="0.84" fill="#ffffff"/>
<rect x="77.35" y="54.09" width="5.88" height="1.48" fill="#ffffff"/>
<rect x="84.88" y="54.65" width="2.71" height="1.08" fill="#ffffff"/>
<rect x="89.37" y="54.12" width="2.12" height="1.06" fill="#ffffff"/>
<rect x="94.22" y="54.18" width="3.03" height="0.86" fill="#ffffff"/>
<rect x="99.67" y="54.80" width="4.96" height="1.10" fill="#ffffff"/>
<rect x="106.60" y="54.70" width="2.99" height="1.20" fill="#ffffff"/>
<rect x="112.26" y="54.54" width="3.41" height="1.00" fill="#ffffff"/>
<rect x="116.66" y="54.88" width="3.24" height="1.14" fill="#cfcfcf"/>
<rect x="121.71" y="54.26" width="5.51" height="1.43" fill="#ffffff"/>
<rect x="128.36" y="54.89" width="5.10" height="1.33" fill="#cfcfcf"/>
<rect x="136.06" y="54.10" width="4.72" height="1.25" fill="#ffffff"/>
<rect x="141.60" y="54.04" width="1.89" height="1.42" fill="#ffffff"/>
<rect x="144.55" y="54.02" width="5.43" height="0.94" fill="#cfcfcf"/>
<rect x="151.11" y="54.84" width="5.25" height="1.34" fill="#cfcfcf"/>
<rect x="158.72" y="54.77" width="5.03" height="0.83" fill="#ffffff"/>
<rect x="166.49" y="54.93" width="1.71" height="1.40" fill="#ffffff"/>
<rect x="169.87" y="54.24" width="3.91" height="1.46" fill="#ffffff"/>
<rect x="175.26" y="54.39" width="4.16" height="1.40" fill="#ffffff"/>
<rect x="181.28" y="54.08" width="2.88" height="1.13" fill="#ffffff"/>
<rect x="187.59" y="54.16" width="3.18" height="1.40" fill="#ffffff"/>
<rect x="193.62" y="54.48" width="4.43" height="1.21" fill="#ffffff"/>
<rect x="201.27" y="54.75" width="1.92" height="0.88" fill="#cfcfcf"/>
<rect x="205.39" y="54.19" width="3.33" height="1.38" fill="#ffffff"/>
<rect x="210.05" y="54.23" width="4.01" height="1.05" fill="#ffffff"/>
<rect x="217.44" y="54.41" width="2.62" height="1.36" fill="#cfcfcf"/>
<rect x="222.44" y="54.02" width="2.48" height="0.97" fill="#ffffff"/>
<rect x="226.75" y="54.32" width="2.03" height="1.09" fill="#cfcfcf"/>
<rect x="229.97" y="54.60" width="5.96" height="1.18" fill="#ffffff"/>
<rect x="238.98" y="54.48" width="5.14" height="1.25" fill="#ffffff"/>
<rect x="247.23" y="54.96" width="3.12" height="1.39" fill="#ffffff"/>
<rect x="251.77" y="54.68" width="2.33" height="1.37" fill="#cfcfcf"/>
<rect x="257.21" y="54.26" width="2.36" height="0.95" fill="#ffffff"/>
<rect x="262.27" y="54.26" width="5.32" height="1.52" fill="#cfcfcf"/>
<rect x="269.24" y="54.09" width="3.23" height="1.38" fill="#ffffff"/>
<rect x="275.52" y="54.58" width="0.48" height="1.09" fill="#ffffff"/>
<line x1="1.80" y1="51.50" x2="4.32" y2="51.50" stroke="#231f20" stroke-width="0.75"/>
<line x1="1.80" y1="51.50" x2="1.80" y2="53.50" stroke="#231f20" stroke-width="0.7"/>
<line x1="4.32" y1="51.50" x2="4.32" y2="53.50" stroke="#231f20" stroke-width="0.7"/>
<line x1="11.40" y1="50.50" x2="18.96" y2="50.50" stroke="#231f20" stroke-width="0.75"/>
<line x1="11.40" y1="50.50" x2="11.40" y2="53.50" stroke="#231f20" stroke-width="0.7"/>
<line x1="18.96" y1="50.50" x2="18.96" y2="53.50" stroke="#231f20" stroke-width="0.7"/>
<line x1="33.00" y1="49.50" x2="37.20" y2="49.50" stroke="#231f20" stroke-width="0.75"/>
<line x1="33.00" y1="49.50" x2="33.00" y2="53.50" stroke="#231f20" stroke-width="0.7"/>
<line x1="37.20" y1="49.50" x2="37.20" y2="53.50" stroke="#231f20" stroke-width="0.7"/>
<line x1="44.50" y1="49.50" x2="50.80" y2="49.50" stroke="#231f20" stroke-width="0.75"/>
<line x1="44.50" y1="49.50" x2="44.50" y2="53.50" stroke="#231f20" stroke-width="0.7"/>
<line x1="50.80" y1="49.50" x2="50.80" y2="53.50" stroke="#231f20" stroke-width="0.7"/>
<line x1="58.90" y1="52.00" x2="64.36" y2="52.00" stroke="#231f20" stroke-width="0.75"/>
<line x1="58.90" y1="52.00" x2="58.90" y2="53.50" stroke="#231f20" stroke-width="0.7"/>
<line x1="64.36" y1="52.00" x2="64.36" y2="53.50" stroke="#231f20" stroke-width="0.7"/>
<line x1="74.60" y1="52.00" x2="83.84" y2="52.00" stroke="#231f20" stroke-width="0.75"/>
<line x1="74.60" y1="52.00" x2="74.60" y2="53.50" stroke="#231f20" stroke-width="0.7"/>
<line x1="83.84" y1="52.00" x2="83.84" y2="53.50" stroke="#231f20" stroke-width="0.7"/>
<line x1="139.10" y1="52.20" x2="154.64" y2="52.20" stroke="#231f20" stroke-width="0.75"/>
<line x1="139.10" y1="52.20" x2="139.10" y2="53.50" stroke="#231f20" stroke-width="0.7"/>
<line x1="154.64" y1="52.20" x2="154.64" y2="53.50" stroke="#231f20" stroke-width="0.7"/>
<line x1="174.00" y1="51.80" x2="186.60" y2="51.80" stroke="#231f20" stroke-width="0.75"/>
<line x1="174.00" y1="51.80" x2="174.00" y2="53.50" stroke="#231f20" stroke-width="0.7"/>
<line x1="186.60" y1="51.80" x2="186.60" y2="53.50" stroke="#231f20" stroke-width="0.7"/>
<line x1="201.00" y1="50.80" x2="209.40" y2="50.80" stroke="#231f20" stroke-width="0.75"/>
<line x1="201.00" y1="50.80" x2="201.00" y2="53.50" stroke="#231f20" stroke-width="0.7"/>
<line x1="209.40" y1="50.80" x2="209.40" y2="53.50" stroke="#231f20" stroke-width="0.7"/>
<line x1="222.50" y1="51.50" x2="233.00" y2="51.50" stroke="#231f20" stroke-width="0.75"/>
<line x1="222.50" y1="51.50" x2="222.50" y2="53.50" stroke="#231f20" stroke-width="0.7"/>
<line x1="233.00" y1="51.50" x2="233.00" y2="53.50" stroke="#231f20" stroke-width="0.7"/>
<line x1="243.60" y1="51.00" x2="248.64" y2="51.00" stroke="#231f20" stroke-width="0.75"/>
<line x1="243.60" y1="51.00" x2="243.60" y2="53.50" stroke="#231f20" stroke-width="0.7"/>
<line x1="248.64" y1="51.00" x2="248.64" y2="53.50" stroke="#231f20" stroke-width="0.7"/>
<line x1="259.50" y1="51.00" x2="270.00" y2="51.00" stroke="#231f20" stroke-width="0.75"/>
<line x1="259.50" y1="51.00" x2="259.50" y2="53.50" stroke="#231f20" stroke-width="0.7"/>
<line x1="270.00" y1="51.00" x2="270.00" y2="53.50" stroke="#231f20" stroke-width="0.7"/>
<text x="0.60" y="10.70" font-size="12" font-weight="bold" fill="#000">A</text>
<text x="8.00" y="22.70" font-size="8.5">SUMO<tspan font-size="5.6" dy="-3.2">high</tspan></text>
<text x="140.00" y="22.40" font-size="8.5">SUMO<tspan font-size="5.6" dy="-3.2">low</tspan></text>
<text x="319.50" y="28.20" font-size="7.8" text-anchor="middle">mRNA</text>
<text x="319.60" y="38.20" font-size="7.8" text-anchor="middle">expression</text>
<text x="322.10" y="48.50" font-size="7.8" text-anchor="middle">(z-score)</text>
<text x="278.00" y="66.80" font-size="8.5" font-style="italic">SAE1</text>
<text x="278.00" y="80.30" font-size="8.5" font-style="italic">UBA2</text>
<text x="278.00" y="93.50" font-size="8.5" font-style="italic">UBE2I</text>
<text x="278.00" y="107.00" font-size="8.5" font-style="italic">SUMO1</text>
<text x="278.00" y="120.60" font-size="8.5" font-style="italic">SUMO2</text>
<text x="278.00" y="134.30" font-size="8.5" font-style="italic">SUMO3</text>
<defs><linearGradient id="cb" x1="0" y1="0" x2="0" y2="1"><stop offset="0" stop-color="#8f0a26"/><stop offset="0.15" stop-color="#a8122c"/><stop offset="0.57" stop-color="#b0182e"/><stop offset="0.63" stop-color="#d44a4a"/><stop offset="0.68" stop-color="#f09a84"/><stop offset="0.745" stop-color="#f7f1ee"/><stop offset="0.82" stop-color="#d5e6f2"/><stop offset="0.91" stop-color="#6ea6d3"/><stop offset="1" stop-color="#2d68a8"/></linearGradient></defs>
<rect x="317.60" y="57.90" width="4.20" height="77.30" fill="url(#cb)"/>
<text x="326.20" y="60.80" font-size="7.3">10</text>
<text x="326.20" y="74.30" font-size="7.3">8</text>
<text x="326.20" y="87.60" font-size="7.3">6</text>
<text x="326.20" y="100.80" font-size="7.3">4</text>
<text x="326.20" y="114.00" font-size="7.3">2</text>
<text x="326.20" y="127.00" font-size="7.3">0</text>
<text x="357.20" y="11.00" font-size="12" font-weight="bold" fill="#000">B</text>
<path d="M390.10,15.00 H392.51 V15.88 H394.92 V16.26 H397.21 V16.65 H399.50 V17.52 H401.86 V17.92 H404.22 V18.68 H406.51 V20.01 H408.79 V21.01 H411.11 V21.54 H413.42 V22.07 H415.11 V22.74 H416.79 V23.33 H418.55 V24.34 H420.31 V25.56 H422.07 V26.24 H423.83 V27.31 H426.11 V28.16 H428.40 V28.47 H430.69 V29.66 H432.98 V30.21 H435.29 V30.52 H437.61 V31.28 H439.89 V31.95 H442.18 V32.54 H443.94 V33.48 H445.70 V34.77 H448.01 V37.09 H450.13 V37.72 H452.25 V37.67 H454.02 V37.78 H455.79 V37.65 H457.55 V37.87 H459.96 V38.15 H462.37 V38.06 H465.26 V38.26 H466.22 V40.68 H468.10 V42.33 H469.60 V43.59 H471.52 V45.81 H472.97 V47.95 H474.17 V50.85 H474.99 V52.31 H477.11 V52.00 H479.23 V52.31 H480.68 V51.34 H483.09 V51.82 H484.53 V51.34" stroke="#1b4a82" stroke-width="1.7" fill="none" stroke-linejoin="round"/>
<path d="M390.10,15.00 H392.03 V15.97 H393.81 V16.94 H395.50 V17.74 H397.18 V19.17 H398.29 V20.81 H399.50 V22.75 H401.28 V25.66 H403.11 V26.63 H405.32 V27.31 H407.06 V27.87 H408.79 V29.05 H411.11 V31.86 H413.42 V34.77 H414.67 V36.80 H415.73 V38.84 H417.42 V42.91 H419.01 V43.88 H421.51 V45.23 H423.83 V46.40 H426.09 V47.46 H428.64 V48.92 H430.72 V50.37 H432.45 V51.54 H434.18 V52.11 H435.87 V53.76 H437.61 V55.60 H440.21 V55.89 H442.18 V56.18 H443.94 V57.05 H445.70 V57.35 H448.01 V58.41 H450.01 V58.23 H452.01 V58.51 H455.14 V60.06 H456.83 V60.38 H458.52 V61.03 H460.01 V62.00 H462.37 V63.93 H463.48 V65.39 H464.78 V67.33 H465.79 V71.01 H467.86 V70.89 H469.93 V71.14 H472.01 V71.01 H474.42 V70.94 H476.82 V71.01 H478.91 V70.94 H481.00 V70.95 H483.09 V71.01" stroke="#c3113a" stroke-width="1.7" fill="none" stroke-linejoin="round"/>
<line x1="390.10" y1="10.80" x2="390.10" y2="112.60" stroke="#231f20" stroke-width="1.25"/>
<line x1="389.70" y1="112.30" x2="514.80" y2="112.30" stroke="#231f20" stroke-width="1.25"/>
<line x1="387.30" y1="111.90" x2="390.10" y2="111.90" stroke="#231f20" stroke-width="0.8"/>
<text x="383.70" y="114.65" font-size="7.8" text-anchor="end">0</text>
<line x1="387.30" y1="102.21" x2="390.10" y2="102.21" stroke="#231f20" stroke-width="0.8"/>
<text x="383.70" y="104.96" font-size="7.8" text-anchor="end">10</text>
<line x1="387.30" y1="92.52" x2="390.10" y2="92.52" stroke="#231f20" stroke-width="0.8"/>
<text x="383.70" y="95.27" font-size="7.8" text-anchor="end">20</text>
<line x1="387.30" y1="82.83" x2="390.10" y2="82.83" stroke="#231f20" stroke-width="0.8"/>
<text x="383.70" y="85.58" font-size="7.8" text-anchor="end">30</text>
<line x1="387.30" y1="73.14" x2="390.10" y2="73.14" stroke="#231f20" stroke-width="0.8"/>
<text x="383.70" y="75.89" font-size="7.8" text-anchor="end">40</text>
<line x1="387.30" y1="63.45" x2="390.10" y2="63.45" stroke="#231f20" stroke-width="0.8"/>
<text x="383.70" y="66.20" font-size="7.8" text-anchor="end">50</text>
<line x1="387.30" y1="53.76" x2="390.10" y2="53.76" stroke="#231f20" stroke-width="0.8"/>
<text x="383.70" y="56.51" font-size="7.8" text-anchor="end">60</text>
<line x1="387.30" y1="44.07" x2="390.10" y2="44.07" stroke="#231f20" stroke-width="0.8"/>
<text x="383.70" y="46.82" font-size="7.8" text-anchor="end">70</text>
<line x1="387.30" y1="34.38" x2="390.10" y2="34.38" stroke="#231f20" stroke-width="0.8"/>
<text x="383.70" y="37.13" font-size="7.8" text-anchor="end">80</text>
<line x1="387.30" y1="24.69" x2="390.10" y2="24.69" stroke="#231f20" stroke-width="0.8"/>
<text x="383.70" y="27.44" font-size="7.8" text-anchor="end">90</text>
<line x1="387.30" y1="15.00" x2="390.10" y2="15.00" stroke="#231f20" stroke-width="0.8"/>
<text x="383.70" y="17.75" font-size="7.8" text-anchor="end">100</text>
<line x1="390.10" y1="112.30" x2="390.10" y2="114.60" stroke="#231f20" stroke-width="0.8"/>
<text x="390.10" y="124.00" font-size="7.5" text-anchor="middle">0</text>
<line x1="414.19" y1="112.30" x2="414.19" y2="114.60" stroke="#231f20" stroke-width="0.8"/>
<text x="414.19" y="124.00" font-size="7.5" text-anchor="middle">500</text>
<line x1="438.28" y1="112.30" x2="438.28" y2="114.60" stroke="#231f20" stroke-width="0.8"/>
<text x="438.28" y="124.00" font-size="7.5" text-anchor="middle">1000</text>
<line x1="462.37" y1="112.30" x2="462.37" y2="114.60" stroke="#231f20" stroke-width="0.8"/>
<text x="462.37" y="124.00" font-size="7.5" text-anchor="middle">1500</text>
<line x1="486.46" y1="112.30" x2="486.46" y2="114.60" stroke="#231f20" stroke-width="0.8"/>
<text x="486.46" y="124.00" font-size="7.5" text-anchor="middle">2000</text>
<line x1="510.55" y1="112.30" x2="510.55" y2="114.60" stroke="#231f20" stroke-width="0.8"/>
<text x="510.55" y="124.00" font-size="7.5" text-anchor="middle">2500</text>
<g transform="translate(452.60,137.10) scale(0.74,1)"><text class="cd" x="0" y="0" font-size="9.6" text-anchor="middle" fill="#231f20">Time (days)</text></g>
<g transform="translate(365.20,62.00) rotate(-90) scale(0.7,1)"><text class="cd" x="0" y="0" font-size="9.0" text-anchor="middle" fill="#231f20">Probability of survival</text></g>
<line x1="395.00" y1="92.30" x2="402.60" y2="92.30" stroke="#1d4f86" stroke-width="1.4"/>
<line x1="395.00" y1="103.50" x2="402.60" y2="103.50" stroke="#c8102e" stroke-width="1.4"/>
<text x="405.80" y="94.60" font-size="7.5">SUMO<tspan font-size="5" dy="-2.8">low</tspan></text>
<text x="405.80" y="105.70" font-size="7.5">SUMO<tspan font-size="5" dy="-2.8">high</tspan></text>
<text x="440.40" y="94.60" font-size="7.5">(<tspan font-style="italic">n</tspan>=633)</text>
<text x="440.40" y="105.70" font-size="7.5">(<tspan font-style="italic">n</tspan>=153)</text>
<text x="481.00" y="80.40" font-size="7.8">p&lt;0.0001</text>
<text x="0.20" y="155.30" font-size="12" font-weight="bold" fill="#000">D</text>
<text x="164.20" y="155.40" font-size="7.6" text-anchor="middle">Multiple myeloma patients</text>
<text x="112.50" y="166.80" font-size="7.6" text-anchor="middle">Diagnosis</text>
<text x="166.60" y="166.80" font-size="7.6" text-anchor="middle">Remission</text>
<text x="218.10" y="166.80" font-size="7.6" text-anchor="middle">Relapse</text>
<text x="112.70" y="176.00" font-size="7.6" text-anchor="middle">Transcriptome</text>
<text x="218.20" y="176.00" font-size="7.6" text-anchor="middle">Transcriptome</text>
<text x="112.20" y="185.10" font-size="7.6" text-anchor="middle">(n=15)</text>
<text x="217.80" y="185.10" font-size="7.6" text-anchor="middle">(n=16)</text>
<line x1="132.30" y1="164.40" x2="143.50" y2="164.40" stroke="#231f20" stroke-width="0.9"/><path d="M147.20,164.40 L143.00,162.30 L143.00,166.50 Z" fill="#231f20"/>
<line x1="186.20" y1="164.40" x2="198.10" y2="164.40" stroke="#231f20" stroke-width="0.9"/><path d="M201.80,164.40 L197.60,162.30 L197.60,166.50 Z" fill="#231f20"/>
<rect x="146.90" y="196.00" width="118.27" height="10.40" fill="#c8102e"/>
<line x1="143.20" y1="201.20" x2="146.50" y2="201.20" stroke="#231f20" stroke-width="0.8"/>
<text x="139.60" y="203.50" font-size="7.6" text-anchor="end">SUMOylation of SUMOylation proteins</text>
<text x="316.70" y="203.80" font-size="5.5" text-anchor="middle">*</text>
<rect x="146.90" y="214.50" width="111.58" height="10.40" fill="#c8102e"/>
<line x1="143.20" y1="219.70" x2="146.50" y2="219.70" stroke="#231f20" stroke-width="0.8"/>
<text x="139.60" y="222.00" font-size="7.6" text-anchor="end">SUMOylation of ubiquitinylation proteins</text>
<text x="316.70" y="222.30" font-size="5.5" text-anchor="middle">*</text>
<rect x="146.90" y="233.00" width="98.21" height="10.40" fill="#c8102e"/>
<line x1="143.20" y1="238.20" x2="146.50" y2="238.20" stroke="#231f20" stroke-width="0.8"/>
<text x="139.60" y="240.50" font-size="7.6" text-anchor="end">SUMOylation</text>
<text x="316.70" y="240.80" font-size="5.5" text-anchor="middle">**</text>
<rect x="146.90" y="251.40" width="160.86" height="10.40" fill="#c8102e"/>
<line x1="143.20" y1="256.60" x2="146.50" y2="256.60" stroke="#231f20" stroke-width="0.8"/>
<text x="139.60" y="258.90" font-size="7.6" text-anchor="end">SUMOylation of DNA replication proteins</text>
<text x="316.70" y="259.20" font-size="5.5" text-anchor="middle">**</text>
<line x1="146.50" y1="192.50" x2="146.50" y2="266.20" stroke="#231f20" stroke-width="1.25"/>
<line x1="146.10" y1="265.80" x2="328.20" y2="265.80" stroke="#231f20" stroke-width="1.25"/>
<line x1="146.50" y1="265.80" x2="146.50" y2="268.20" stroke="#231f20" stroke-width="0.8"/>
<text x="146.50" y="277.70" font-size="7.5" text-anchor="middle">0.0</text>
<line x1="181.70" y1="265.80" x2="181.70" y2="268.20" stroke="#231f20" stroke-width="0.8"/>
<text x="181.70" y="277.70" font-size="7.5" text-anchor="middle">0.5</text>
<line x1="216.90" y1="265.80" x2="216.90" y2="268.20" stroke="#231f20" stroke-width="0.8"/>
<text x="216.90" y="277.70" font-size="7.5" text-anchor="middle">1.0</text>
<line x1="252.10" y1="265.80" x2="252.10" y2="268.20" stroke="#231f20" stroke-width="0.8"/>
<text x="252.10" y="277.70" font-size="7.5" text-anchor="middle">1.5</text>
<line x1="287.30" y1="265.80" x2="287.30" y2="268.20" stroke="#231f20" stroke-width="0.8"/>
<text x="287.30" y="277.70" font-size="7.5" text-anchor="middle">2.0</text>
<line x1="322.50" y1="265.80" x2="322.50" y2="268.20" stroke="#231f20" stroke-width="0.8"/>
<text x="322.50" y="277.70" font-size="7.5" text-anchor="middle">2.5</text>
<g transform="translate(237.00,290.30) scale(0.74,1)"><text class="cd" x="0" y="0" font-size="8.8" text-anchor="middle" fill="#231f20">NES</text></g>
<text x="316.60" y="191.50" font-size="7.3" text-anchor="middle">p-adj</text>
<text x="452.60" y="155.20" font-size="7.9" text-anchor="middle">SUMOylation</text>
<line x1="391.00" y1="161.60" x2="515.30" y2="161.60" stroke="#e0566a" stroke-width="0.95" stroke-dasharray="1.1,1.1"/>
<line x1="391.00" y1="261.00" x2="515.30" y2="261.00" stroke="#e0566a" stroke-width="0.95" stroke-dasharray="1.1,1.1"/>
<line x1="390.80" y1="230.60" x2="390.80" y2="242.20" stroke="#898989" stroke-width="0.9"/>
<line x1="392.78" y1="230.60" x2="392.78" y2="242.20" stroke="#8b8b8b" stroke-width="0.9"/>
<line x1="394.39" y1="230.60" x2="394.39" y2="242.20" stroke="#9b9b9b" stroke-width="0.9"/>
<line x1="395.76" y1="230.60" x2="395.76" y2="242.20" stroke="#919191" stroke-width="0.9"/>
<line x1="397.38" y1="230.60" x2="397.38" y2="242.20" stroke="#9e9e9e" stroke-width="0.9"/>
<line x1="399.30" y1="230.60" x2="399.30" y2="242.20" stroke="#5c5c5c" stroke-width="0.9"/>
<line x1="400.90" y1="230.60" x2="400.90" y2="242.20" stroke="#626262" stroke-width="0.9"/>
<line x1="402.18" y1="230.60" x2="402.18" y2="242.20" stroke="#a8a8a8" stroke-width="0.9"/>
<line x1="408.85" y1="230.60" x2="408.85" y2="242.20" stroke="#aeaeae" stroke-width="0.9"/>
<line x1="410.61" y1="230.60" x2="410.61" y2="242.20" stroke="#646464" stroke-width="0.9"/>
<line x1="412.37" y1="230.60" x2="412.37" y2="242.20" stroke="#939393" stroke-width="0.9"/>
<line x1="414.86" y1="230.60" x2="414.86" y2="242.20" stroke="#6e6e6e" stroke-width="0.9"/>
<line x1="416.60" y1="230.60" x2="416.60" y2="242.20" stroke="#8b8b8b" stroke-width="0.9"/>
<line x1="418.09" y1="230.60" x2="418.09" y2="242.20" stroke="#9b9b9b" stroke-width="0.9"/>
<line x1="420.05" y1="230.60" x2="420.05" y2="242.20" stroke="#929292" stroke-width="0.9"/>
<line x1="421.46" y1="230.60" x2="421.46" y2="242.20" stroke="#757575" stroke-width="0.9"/>
<line x1="423.11" y1="230.60" x2="423.11" y2="242.20" stroke="#a4a4a4" stroke-width="0.9"/>
<line x1="424.39" y1="230.60" x2="424.39" y2="242.20" stroke="#a3a3a3" stroke-width="0.9"/>
<line x1="425.84" y1="230.60" x2="425.84" y2="242.20" stroke="#969696" stroke-width="0.9"/>
<line x1="427.93" y1="230.60" x2="427.93" y2="242.20" stroke="#5a5a5a" stroke-width="0.9"/>
<line x1="429.77" y1="230.60" x2="429.77" y2="242.20" stroke="#787878" stroke-width="0.9"/>
<line x1="431.65" y1="230.60" x2="431.65" y2="242.20" stroke="#919191" stroke-width="0.9"/>
<line x1="433.11" y1="230.60" x2="433.11" y2="242.20" stroke="#585858" stroke-width="0.9"/>
<line x1="434.82" y1="230.60" x2="434.82" y2="242.20" stroke="#5d5d5d" stroke-width="0.9"/>
<line x1="436.38" y1="230.60" x2="436.38" y2="242.20" stroke="#757575" stroke-width="0.9"/>
<line x1="437.93" y1="230.60" x2="437.93" y2="242.20" stroke="#525252" stroke-width="0.9"/>
<line x1="439.89" y1="230.60" x2="439.89" y2="242.20" stroke="#505050" stroke-width="0.9"/>
<line x1="441.28" y1="230.60" x2="441.28" y2="242.20" stroke="#565656" stroke-width="0.9"/>
<line x1="442.90" y1="230.60" x2="442.90" y2="242.20" stroke="#aaaaaa" stroke-width="0.9"/>
<line x1="444.46" y1="230.60" x2="444.46" y2="242.20" stroke="#595959" stroke-width="0.9"/>
<line x1="446.17" y1="230.60" x2="446.17" y2="242.20" stroke="#696969" stroke-width="0.9"/>
<line x1="448.07" y1="230.60" x2="448.07" y2="242.20" stroke="#727272" stroke-width="0.9"/>
<line x1="449.57" y1="230.60" x2="449.57" y2="242.20" stroke="#777777" stroke-width="0.9"/>
<line x1="451.07" y1="230.60" x2="451.07" y2="242.20" stroke="#848484" stroke-width="0.9"/>
<line x1="452.96" y1="230.60" x2="452.96" y2="242.20" stroke="#5f5f5f" stroke-width="0.9"/>
<line x1="454.28" y1="230.60" x2="454.28" y2="242.20" stroke="#aaaaaa" stroke-width="0.9"/>
<line x1="455.57" y1="230.60" x2="455.57" y2="242.20" stroke="#575757" stroke-width="0.9"/>
<line x1="462.01" y1="230.60" x2="462.01" y2="242.20" stroke="#919191" stroke-width="0.9"/>
<line x1="463.38" y1="230.60" x2="463.38" y2="242.20" stroke="#adadad" stroke-width="0.9"/>
<line x1="465.27" y1="230.60" x2="465.27" y2="242.20" stroke="#858585" stroke-width="0.9"/>
<line x1="467.05" y1="230.60" x2="467.05" y2="242.20" stroke="#5e5e5e" stroke-width="0.9"/>
<line x1="468.61" y1="230.60" x2="468.61" y2="242.20" stroke="#6b6b6b" stroke-width="0.9"/>
<line x1="469.81" y1="230.60" x2="469.81" y2="242.20" stroke="#9b9b9b" stroke-width="0.9"/>
<line x1="471.28" y1="230.60" x2="471.28" y2="242.20" stroke="#525252" stroke-width="0.9"/>
<line x1="472.67" y1="230.60" x2="472.67" y2="242.20" stroke="#828282" stroke-width="0.9"/>
<line x1="474.77" y1="230.60" x2="474.77" y2="242.20" stroke="#9d9d9d" stroke-width="0.9"/>
<line x1="476.55" y1="230.60" x2="476.55" y2="242.20" stroke="#5c5c5c" stroke-width="0.9"/>
<line x1="477.78" y1="230.60" x2="477.78" y2="242.20" stroke="#626262" stroke-width="0.9"/>
<line x1="479.17" y1="230.60" x2="479.17" y2="242.20" stroke="#717171" stroke-width="0.9"/>
<line x1="480.38" y1="230.60" x2="480.38" y2="242.20" stroke="#9e9e9e" stroke-width="0.9"/>
<line x1="481.88" y1="230.60" x2="481.88" y2="242.20" stroke="#757575" stroke-width="0.9"/>
<line x1="483.43" y1="230.60" x2="483.43" y2="242.20" stroke="#595959" stroke-width="0.9"/>
<line x1="484.71" y1="230.60" x2="484.71" y2="242.20" stroke="#9a9a9a" stroke-width="0.9"/>
<line x1="486.48" y1="230.60" x2="486.48" y2="242.20" stroke="#515151" stroke-width="0.9"/>
<line x1="488.22" y1="230.60" x2="488.22" y2="242.20" stroke="#7f7f7f" stroke-width="0.9"/>
<line x1="489.98" y1="230.60" x2="489.98" y2="242.20" stroke="#606060" stroke-width="0.9"/>
<line x1="492.05" y1="230.60" x2="492.05" y2="242.20" stroke="#8d8d8d" stroke-width="0.9"/>
<line x1="493.99" y1="230.60" x2="493.99" y2="242.20" stroke="#616161" stroke-width="0.9"/>
<line x1="497.34" y1="230.60" x2="497.34" y2="242.20" stroke="#636363" stroke-width="0.9"/>
<line x1="498.82" y1="230.60" x2="498.82" y2="242.20" stroke="#6d6d6d" stroke-width="0.9"/>
<line x1="505.42" y1="230.60" x2="505.42" y2="242.20" stroke="#969696" stroke-width="0.9"/>
<line x1="506.79" y1="230.60" x2="506.79" y2="242.20" stroke="#818181" stroke-width="0.9"/>
<line x1="412.60" y1="230.60" x2="412.60" y2="242.20" stroke="#111" stroke-width="1.0"/>
<line x1="436.60" y1="230.60" x2="436.60" y2="242.20" stroke="#111" stroke-width="1.0"/>
<line x1="439.00" y1="230.60" x2="439.00" y2="242.20" stroke="#111" stroke-width="1.0"/>
<line x1="445.50" y1="230.60" x2="445.50" y2="242.20" stroke="#111" stroke-width="1.0"/>
<line x1="461.80" y1="230.60" x2="461.80" y2="242.20" stroke="#111" stroke-width="1.0"/>
<line x1="470.00" y1="230.60" x2="470.00" y2="242.20" stroke="#111" stroke-width="1.0"/>
<line x1="478.50" y1="230.60" x2="478.50" y2="242.20" stroke="#111" stroke-width="1.0"/>
<line x1="487.50" y1="230.60" x2="487.50" y2="242.20" stroke="#111" stroke-width="1.0"/>
<line x1="390.00" y1="236.50" x2="515.30" y2="236.50" stroke="#231f20" stroke-width="1.3"/>
<path d="M390.00,236.25 L390.50,215.00 L391.25,192.50 L391.88,186.25 L392.50,180.39 L393.12,177.02 L393.75,173.44 L394.38,173.29 L395.00,172.02 L395.62,171.98 L396.25,168.49 L396.88,169.58 L397.50,170.79 L398.12,169.54 L398.75,170.03 L399.38,166.57 L400.00,166.78 L400.62,165.13 L401.25,165.14 L402.12,163.74 L403.00,160.44 L403.67,162.93 L404.33,164.96 L405.00,168.83 L405.62,169.60 L406.25,168.91 L406.88,172.20 L407.50,171.34 L408.12,171.94 L408.75,169.43 L409.38,168.09 L410.00,169.94 L410.60,167.07 L411.20,166.34 L411.80,168.04 L412.40,166.94 L413.00,164.33 L413.67,168.14 L414.33,168.46 L415.00,170.57 L415.62,168.74 L416.25,170.79 L416.88,169.67 L417.50,170.24 L418.12,170.63 L418.75,169.36 L419.38,170.18 L420.00,170.18 L420.62,170.74 L421.25,171.11 L421.88,172.49 L422.50,174.08 L423.12,172.79 L423.75,175.57 L424.38,175.11 L425.00,175.64 L425.62,178.10 L426.25,177.86 L426.88,178.16 L427.50,179.52 L428.12,181.07 L428.75,179.83 L429.38,183.60 L430.00,181.39 L430.62,184.55 L431.25,185.69 L431.88,183.87 L432.50,187.17 L433.12,186.86 L433.75,188.58 L434.38,187.80 L435.00,188.97 L435.62,190.44 L436.25,193.96 L436.88,192.78 L437.50,195.82 L438.12,197.62 L438.75,198.91 L439.38,198.25 L440.00,199.54 L440.62,201.54 L441.25,203.80 L441.88,203.12 L442.50,206.63 L443.12,208.24 L443.75,209.90 L444.38,208.73 L445.00,213.09 L445.62,211.82 L446.25,214.07 L446.88,216.40 L447.50,218.84 L448.12,218.45 L448.75,221.77 L449.38,222.02 L450.00,222.73 L450.62,224.21 L451.25,225.22 L451.88,226.15 L452.50,227.63 L453.12,230.61 L453.75,232.84 L454.38,231.42 L455.00,232.31 L455.62,236.35 L456.25,235.94 L456.88,236.57 L457.50,237.08 L458.12,239.26 L458.75,241.04 L459.38,240.61 L460.00,241.25 L460.62,240.83 L461.25,244.33 L461.88,242.25 L462.50,244.48 L463.12,245.80 L463.75,243.76 L464.38,245.90 L465.00,246.81 L465.62,246.01 L466.25,246.73 L466.88,244.77 L467.50,246.04 L468.12,245.44 L468.75,247.98 L469.38,246.53 L470.00,247.35 L470.62,249.41 L471.25,249.25 L471.88,249.96 L472.50,248.60 L473.12,249.02 L473.75,250.11 L474.38,249.62 L475.00,249.33 L475.62,250.00 L476.25,249.49 L476.88,250.54 L477.50,252.81 L478.12,253.03 L478.75,252.28 L479.38,252.19 L480.00,251.98 L480.62,251.50 L481.25,252.40 L481.88,254.34 L482.50,254.93 L483.12,253.77 L483.75,255.60 L484.38,256.04 L485.00,256.25 L485.62,256.62 L486.25,257.39 L486.88,256.59 L487.50,258.15 L488.12,256.38 L488.75,256.62 L489.38,257.11 L490.00,256.44 L490.62,254.76 L491.25,256.43 L491.88,254.44 L492.50,253.17 L493.12,250.31 L493.75,250.98 L494.38,248.99 L495.00,249.30 L495.62,249.26 L496.25,251.01 L496.88,251.10 L497.50,252.20 L498.12,251.39 L498.75,252.96 L499.38,252.95 L500.00,252.93 L500.62,251.08 L501.25,252.35 L501.90,253.93 L502.55,254.85 L503.20,257.27 L503.85,258.71 L504.50,258.81 L505.38,254.47 L506.25,248.93 L506.88,246.08 L507.50,241.40 L508.00,236.25" stroke="#3aa33a" stroke-width="0.95" fill="none" stroke-linejoin="round"/>
<line x1="390.00" y1="157.30" x2="390.00" y2="266.40" stroke="#231f20" stroke-width="1.25"/>
<line x1="389.60" y1="266.00" x2="513.80" y2="266.00" stroke="#231f20" stroke-width="1.25"/>
<line x1="387.30" y1="177.20" x2="390.00" y2="177.20" stroke="#231f20" stroke-width="0.8"/>
<text x="383.70" y="179.90" font-size="7.6" text-anchor="end">0.2</text>
<line x1="387.30" y1="206.80" x2="390.00" y2="206.80" stroke="#231f20" stroke-width="0.8"/>
<text x="383.70" y="209.50" font-size="7.6" text-anchor="end">0.1</text>
<line x1="387.30" y1="236.40" x2="390.00" y2="236.40" stroke="#231f20" stroke-width="0.8"/>
<text x="383.70" y="239.10" font-size="7.6" text-anchor="end">0.0</text>
<g transform="translate(366.60,211.80) rotate(-90) scale(0.72,1)"><text class="cd" x="0" y="0" font-size="9.0" text-anchor="middle" fill="#231f20">Enrichment score</text></g>
<text x="510.50" y="171.10" font-size="7.6" text-anchor="end">p &lt; 0.001</text>
<text x="510.50" y="180.60" font-size="7.6" text-anchor="end">p-adj = 0.0031</text>
<text x="409.10" y="275.20" font-size="7.6" text-anchor="middle">Relapse</text>
<text x="490.30" y="275.20" font-size="7.6" text-anchor="middle">Diagnosis</text>
<text x="0.20" y="306.80" font-size="12" font-weight="bold" fill="#000">C</text>
<text x="47.20" y="306.40" font-size="7.6" text-anchor="middle">Healthy</text>
<text x="80.90" y="306.40" font-size="7.6" text-anchor="middle">Diagnosis</text>
<text x="125.00" y="306.80" font-size="7.6" text-anchor="middle">Relapse</text>
<line x1="34.60" y1="309.50" x2="59.60" y2="309.50" stroke="#231f20" stroke-width="0.85"/>
<line x1="63.80" y1="309.50" x2="97.80" y2="309.50" stroke="#231f20" stroke-width="0.85"/>
<line x1="106.20" y1="309.50" x2="144.00" y2="309.50" stroke="#231f20" stroke-width="0.85"/>
<text x="41.50" y="318.40" font-size="7.6" text-anchor="middle">A</text>
<text x="52.00" y="318.40" font-size="7.6" text-anchor="middle">B</text>
<text x="61.40" y="318.40" font-size="7.6" text-anchor="middle">C</text>
<text x="71.00" y="318.40" font-size="7.6" text-anchor="middle">D</text>
<text x="80.60" y="318.40" font-size="7.6" text-anchor="middle">E</text>
<text x="89.80" y="318.40" font-size="7.6" text-anchor="middle">F</text>
<text x="100.70" y="318.40" font-size="7.6" text-anchor="middle">G</text>
<text x="110.40" y="318.40" font-size="7.6" text-anchor="middle">H</text>
<text x="119.40" y="318.40" font-size="7.6" text-anchor="middle">I</text>
<text x="128.90" y="318.40" font-size="7.6" text-anchor="middle">J</text>
<text x="138.40" y="318.40" font-size="7.6" text-anchor="middle">K</text>
<text x="148.60" y="318.40" font-size="7.3">Patient</text>
<clipPath id="cl1"><rect x="36.20" y="321.60" width="109.20" height="70.80"/></clipPath>
<g clip-path="url(#cl1)">
<rect x="36.20" y="321.60" width="109.20" height="70.80" fill="#b0b0b0"/>
<g filter="url(#bl10)">
<rect x="36.80" y="321.50" width="8.40" height="34.00" fill="#8c8c8c" fill-opacity="0.0"/>
<rect x="46.20" y="321.50" width="8.40" height="34.00" fill="#8c8c8c" fill-opacity="0.05"/>
<rect x="55.70" y="321.50" width="8.40" height="34.00" fill="#8c8c8c" fill-opacity="0.22"/>
<rect x="65.60" y="321.50" width="8.40" height="34.00" fill="#8c8c8c" fill-opacity="0.28"/>
<rect x="76.00" y="321.50" width="8.40" height="34.00" fill="#8c8c8c" fill-opacity="0.12"/>
<rect x="86.20" y="321.50" width="8.40" height="34.00" fill="#8c8c8c" fill-opacity="0.14"/>
<rect x="96.40" y="321.50" width="8.40" height="34.00" fill="#8c8c8c" fill-opacity="0.3"/>
<rect x="106.30" y="321.50" width="8.40" height="34.00" fill="#8c8c8c" fill-opacity="0.22"/>
<rect x="115.90" y="321.50" width="8.40" height="34.00" fill="#8c8c8c" fill-opacity="0.28"/>
<rect x="125.60" y="321.50" width="8.40" height="34.00" fill="#8c8c8c" fill-opacity="0.12"/>
<rect x="135.20" y="321.50" width="8.40" height="34.00" fill="#8c8c8c" fill-opacity="0.3"/>
<rect x="36.90" y="363.00" width="8.20" height="28.00" fill="#555555" fill-opacity="0.62"/>
<rect x="46.30" y="363.00" width="8.20" height="28.00" fill="#555555" fill-opacity="0.62"/>
<rect x="55.80" y="363.00" width="8.20" height="28.00" fill="#555555" fill-opacity="0.62"/>
<rect x="65.70" y="363.00" width="8.20" height="28.00" fill="#555555" fill-opacity="0.62"/>
<rect x="76.10" y="363.00" width="8.20" height="28.00" fill="#555555" fill-opacity="0.62"/>
<rect x="86.30" y="363.00" width="8.20" height="28.00" fill="#555555" fill-opacity="0.62"/>
<rect x="96.50" y="363.00" width="8.20" height="28.00" fill="#555555" fill-opacity="0.62"/>
<rect x="106.40" y="363.00" width="8.20" height="28.00" fill="#555555" fill-opacity="0.62"/>
<rect x="116.00" y="363.00" width="8.20" height="28.00" fill="#555555" fill-opacity="0.62"/>
<rect x="125.70" y="363.00" width="8.20" height="28.00" fill="#555555" fill-opacity="0.62"/>
<rect x="135.30" y="363.00" width="8.20" height="28.00" fill="#555555" fill-opacity="0.62"/>
<rect x="65.80" y="363.00" width="8.00" height="17.00" fill="#191919" fill-opacity="0.88"/>
<rect x="76.20" y="363.00" width="8.00" height="22.00" fill="#0a0a0a" fill-opacity="0.95"/>
<rect x="86.40" y="363.00" width="8.00" height="20.00" fill="#191919" fill-opacity="0.85"/>
<rect x="96.60" y="363.00" width="8.00" height="17.00" fill="#323232" fill-opacity="0.72"/>
<rect x="106.50" y="363.00" width="8.00" height="19.00" fill="#0a0a0a" fill-opacity="0.95"/>
<rect x="116.10" y="357.00" width="8.00" height="36.00" fill="#000000" fill-opacity="1.0"/>
<rect x="125.80" y="363.00" width="8.00" height="18.00" fill="#0f0f0f" fill-opacity="0.9"/>
<rect x="135.40" y="363.00" width="8.00" height="13.00" fill="#232323" fill-opacity="0.8"/>
<ellipse cx="41.00" cy="366.00" rx="4.00" ry="1.20" fill="#5a5a5a" fill-opacity="0.6"/>
<ellipse cx="41.00" cy="371.00" rx="4.00" ry="1.20" fill="#5a5a5a" fill-opacity="0.6"/>
<ellipse cx="41.00" cy="376.50" rx="4.00" ry="1.20" fill="#646464" fill-opacity="0.5"/>
<ellipse cx="50.40" cy="367.00" rx="4.00" ry="1.20" fill="#282828" fill-opacity="0.8"/>
<ellipse cx="50.40" cy="371.50" rx="4.00" ry="1.20" fill="#050505" fill-opacity="1"/>
<ellipse cx="50.40" cy="377.00" rx="4.00" ry="1.20" fill="#050505" fill-opacity="1"/>
<ellipse cx="59.90" cy="366.00" rx="4.00" ry="1.20" fill="#3c3c3c" fill-opacity="0.7"/>
<ellipse cx="59.90" cy="371.00" rx="4.00" ry="1.20" fill="#282828" fill-opacity="0.8"/>
<ellipse cx="59.90" cy="377.00" rx="4.00" ry="1.20" fill="#282828" fill-opacity="0.85"/>
<ellipse cx="69.80" cy="368.00" rx="4.00" ry="1.20" fill="#0a0a0a" fill-opacity="0.9"/>
<ellipse cx="69.80" cy="377.00" rx="4.00" ry="1.20" fill="#050505" fill-opacity="1"/>
<ellipse cx="80.20" cy="368.00" rx="4.00" ry="1.20" fill="#141414" fill-opacity="0.8"/>
<ellipse cx="80.20" cy="373.00" rx="4.00" ry="1.20" fill="#141414" fill-opacity="0.8"/>
<ellipse cx="80.20" cy="378.00" rx="4.00" ry="1.20" fill="#0a0a0a" fill-opacity="0.9"/>
<ellipse cx="90.40" cy="366.00" rx="4.00" ry="1.20" fill="#282828" fill-opacity="0.8"/>
<ellipse cx="90.40" cy="370.00" rx="4.00" ry="1.20" fill="#050505" fill-opacity="1"/>
<ellipse cx="90.40" cy="374.00" rx="4.00" ry="1.20" fill="#1e1e1e" fill-opacity="0.8"/>
<ellipse cx="90.40" cy="378.00" rx="4.00" ry="1.20" fill="#050505" fill-opacity="1"/>
<ellipse cx="100.60" cy="367.00" rx="4.00" ry="1.20" fill="#323232" fill-opacity="0.8"/>
<ellipse cx="100.60" cy="370.50" rx="4.00" ry="1.20" fill="#0a0a0a" fill-opacity="1"/>
<ellipse cx="100.60" cy="377.00" rx="4.00" ry="1.20" fill="#323232" fill-opacity="0.8"/>
<ellipse cx="41.00" cy="386.60" rx="3.80" ry="1.70" fill="#000000" fill-opacity="0.95"/>
<ellipse cx="50.40" cy="386.80" rx="4.20" ry="2.00" fill="#000000" fill-opacity="1"/>
<ellipse cx="59.90" cy="386.60" rx="2.40" ry="1.50" fill="#000000" fill-opacity="0.9"/>
<ellipse cx="69.80" cy="386.80" rx="3.80" ry="1.80" fill="#000000" fill-opacity="1"/>
<ellipse cx="80.20" cy="388.00" rx="4.40" ry="2.40" fill="#000000" fill-opacity="1"/>
<ellipse cx="90.40" cy="388.00" rx="4.40" ry="2.40" fill="#000000" fill-opacity="1"/>
<ellipse cx="100.60" cy="388.00" rx="4.00" ry="2.30" fill="#000000" fill-opacity="1"/>
<ellipse cx="110.50" cy="387.20" rx="4.30" ry="2.40" fill="#000000" fill-opacity="1"/>
<ellipse cx="120.10" cy="388.00" rx="4.50" ry="3.50" fill="#000000" fill-opacity="1"/>
<ellipse cx="129.80" cy="386.50" rx="4.20" ry="2.40" fill="#000000" fill-opacity="1"/>
<ellipse cx="139.40" cy="386.20" rx="3.40" ry="2.20" fill="#000000" fill-opacity="1"/>
<rect x="36.20" y="357.40" width="109.20" height="6.00" fill="#050505" fill-opacity="1.0"/>
<ellipse cx="41.00" cy="360.60" rx="4.60" ry="3.60" fill="#000000" fill-opacity="1.0"/>
<ellipse cx="50.40" cy="360.60" rx="4.60" ry="3.60" fill="#000000" fill-opacity="1.0"/>
<ellipse cx="59.90" cy="360.60" rx="4.60" ry="3.60" fill="#000000" fill-opacity="1.0"/>
<ellipse cx="69.80" cy="360.60" rx="4.60" ry="3.60" fill="#000000" fill-opacity="1.0"/>
<ellipse cx="80.20" cy="360.60" rx="4.60" ry="3.60" fill="#000000" fill-opacity="1.0"/>
<ellipse cx="90.40" cy="360.60" rx="4.60" ry="3.60" fill="#000000" fill-opacity="1.0"/>
<ellipse cx="100.60" cy="360.60" rx="4.60" ry="3.60" fill="#000000" fill-opacity="1.0"/>
<ellipse cx="110.50" cy="360.60" rx="4.60" ry="3.60" fill="#000000" fill-opacity="1.0"/>
<ellipse cx="120.10" cy="360.60" rx="4.60" ry="3.60" fill="#000000" fill-opacity="1.0"/>
<ellipse cx="129.80" cy="360.60" rx="4.60" ry="3.60" fill="#000000" fill-opacity="1.0"/>
<ellipse cx="139.40" cy="360.60" rx="4.60" ry="3.60" fill="#000000" fill-opacity="1.0"/>
<ellipse cx="88.40" cy="331.50" rx="1.90" ry="1.90" fill="#000000" fill-opacity="1.0"/>
<rect x="97.00" y="322.50" width="7.00" height="3.20" fill="#141414" fill-opacity="0.9"/>
<rect x="97.00" y="326.40" width="7.00" height="2.40" fill="#1e1e1e" fill-opacity="0.8"/>
<rect x="97.00" y="331.40" width="7.00" height="1.40" fill="#3c3c3c" fill-opacity="0.6"/>
<ellipse cx="100.60" cy="344.00" rx="3.80" ry="1.60" fill="#000000" fill-opacity="1.0"/>
<rect x="116.20" y="330.00" width="7.80" height="8.00" fill="#5a5a5a" fill-opacity="0.4"/>
<ellipse cx="120.10" cy="342.60" rx="3.40" ry="1.10" fill="#0a0a0a" fill-opacity="0.9"/>
<ellipse cx="120.10" cy="348.60" rx="3.60" ry="1.60" fill="#000000" fill-opacity="1.0"/>
<rect x="135.40" y="321.50" width="8.00" height="10.50" fill="#050505" fill-opacity="1.0"/>
<ellipse cx="139.40" cy="342.00" rx="3.80" ry="1.30" fill="#050505" fill-opacity="1.0"/>
<rect x="135.40" y="346.00" width="8.00" height="12.00" fill="#3c3c3c" fill-opacity="0.6"/>
</g></g>
<rect x="36.20" y="321.60" width="109.20" height="70.80" fill="none" stroke="#3a3a3a" stroke-width="0.8"/>
<clipPath id="cl2"><rect x="36.20" y="394.60" width="109.20" height="70.20"/></clipPath>
<g clip-path="url(#cl2)">
<rect x="36.20" y="394.60" width="109.20" height="70.20" fill="#acacac"/>
<g filter="url(#bl10)">
<rect x="36.80" y="395.00" width="8.40" height="35.00" fill="#8c8c8c" fill-opacity="0.0"/>
<rect x="46.20" y="395.00" width="8.40" height="35.00" fill="#8c8c8c" fill-opacity="0.0"/>
<rect x="55.70" y="395.00" width="8.40" height="35.00" fill="#8c8c8c" fill-opacity="0.25"/>
<rect x="65.60" y="395.00" width="8.40" height="35.00" fill="#8c8c8c" fill-opacity="0.28"/>
<rect x="76.00" y="395.00" width="8.40" height="35.00" fill="#8c8c8c" fill-opacity="0.22"/>
<rect x="86.20" y="395.00" width="8.40" height="35.00" fill="#8c8c8c" fill-opacity="0.1"/>
<rect x="96.40" y="395.00" width="8.40" height="35.00" fill="#8c8c8c" fill-opacity="0.25"/>
<rect x="106.30" y="395.00" width="8.40" height="35.00" fill="#8c8c8c" fill-opacity="0.18"/>
<rect x="115.90" y="395.00" width="8.40" height="35.00" fill="#8c8c8c" fill-opacity="0.22"/>
<rect x="125.60" y="395.00" width="8.40" height="35.00" fill="#8c8c8c" fill-opacity="0.1"/>
<rect x="135.20" y="395.00" width="8.40" height="35.00" fill="#8c8c8c" fill-opacity="0.18"/>
<rect x="36.90" y="437.00" width="8.20" height="28.00" fill="#555555" fill-opacity="0.62"/>
<rect x="46.30" y="437.00" width="8.20" height="28.00" fill="#555555" fill-opacity="0.62"/>
<rect x="55.80" y="437.00" width="8.20" height="28.00" fill="#555555" fill-opacity="0.62"/>
<rect x="65.70" y="437.00" width="8.20" height="28.00" fill="#555555" fill-opacity="0.62"/>
<rect x="76.10" y="437.00" width="8.20" height="28.00" fill="#555555" fill-opacity="0.62"/>
<rect x="86.30" y="437.00" width="8.20" height="28.00" fill="#555555" fill-opacity="0.62"/>
<rect x="96.50" y="437.00" width="8.20" height="28.00" fill="#555555" fill-opacity="0.62"/>
<rect x="106.40" y="437.00" width="8.20" height="28.00" fill="#555555" fill-opacity="0.62"/>
<rect x="116.00" y="437.00" width="8.20" height="28.00" fill="#555555" fill-opacity="0.62"/>
<rect x="125.70" y="437.00" width="8.20" height="28.00" fill="#555555" fill-opacity="0.62"/>
<rect x="135.30" y="437.00" width="8.20" height="28.00" fill="#555555" fill-opacity="0.62"/>
<rect x="46.40" y="436.00" width="8.00" height="16.00" fill="#323232" fill-opacity="0.6"/>
<rect x="55.90" y="436.00" width="8.00" height="14.00" fill="#191919" fill-opacity="0.85"/>
<rect x="65.80" y="436.00" width="8.00" height="14.00" fill="#232323" fill-opacity="0.8"/>
<rect x="76.20" y="436.00" width="8.00" height="17.00" fill="#1e1e1e" fill-opacity="0.75"/>
<rect x="86.40" y="436.00" width="8.00" height="14.00" fill="#282828" fill-opacity="0.7"/>
<rect x="106.50" y="436.00" width="8.00" height="18.00" fill="#1e1e1e" fill-opacity="0.7"/>
<rect x="116.10" y="430.00" width="8.00" height="36.00" fill="#000000" fill-opacity="1.0"/>
<rect x="125.80" y="436.00" width="8.00" height="16.00" fill="#282828" fill-opacity="0.65"/>
<rect x="135.40" y="436.00" width="8.00" height="12.00" fill="#191919" fill-opacity="0.85"/>
<ellipse cx="41.00" cy="441.00" rx="4.00" ry="1.30" fill="#5a5a5a" fill-opacity="0.6"/>
<ellipse cx="41.00" cy="445.00" rx="4.00" ry="1.30" fill="#646464" fill-opacity="0.5"/>
<ellipse cx="50.40" cy="441.00" rx="4.00" ry="1.30" fill="#1e1e1e" fill-opacity="0.9"/>
<ellipse cx="50.40" cy="445.00" rx="4.00" ry="1.30" fill="#050505" fill-opacity="1"/>
<ellipse cx="50.40" cy="450.00" rx="4.00" ry="1.30" fill="#141414" fill-opacity="0.9"/>
<ellipse cx="59.90" cy="441.00" rx="4.00" ry="1.30" fill="#282828" fill-opacity="0.8"/>
<ellipse cx="69.80" cy="441.00" rx="4.00" ry="1.30" fill="#3c3c3c" fill-opacity="0.7"/>
<ellipse cx="69.80" cy="446.00" rx="4.00" ry="1.30" fill="#464646" fill-opacity="0.6"/>
<ellipse cx="80.20" cy="441.00" rx="4.00" ry="1.30" fill="#282828" fill-opacity="0.8"/>
<ellipse cx="80.20" cy="446.00" rx="4.00" ry="1.30" fill="#050505" fill-opacity="1"/>
<ellipse cx="80.20" cy="450.00" rx="4.00" ry="1.30" fill="#282828" fill-opacity="0.8"/>
<ellipse cx="90.40" cy="441.00" rx="4.00" ry="1.30" fill="#323232" fill-opacity="0.8"/>
<ellipse cx="90.40" cy="446.00" rx="4.00" ry="1.30" fill="#0a0a0a" fill-opacity="1"/>
<ellipse cx="100.60" cy="441.00" rx="4.00" ry="1.30" fill="#505050" fill-opacity="0.6"/>
<ellipse cx="100.60" cy="446.00" rx="4.00" ry="1.30" fill="#505050" fill-opacity="0.6"/>
<ellipse cx="100.60" cy="455.60" rx="4.00" ry="1.30" fill="#0a0a0a" fill-opacity="0.9"/>
<ellipse cx="110.50" cy="441.00" rx="4.00" ry="1.30" fill="#1e1e1e" fill-opacity="0.8"/>
<ellipse cx="110.50" cy="450.00" rx="4.00" ry="1.30" fill="#050505" fill-opacity="1"/>
<ellipse cx="129.80" cy="441.00" rx="4.00" ry="1.30" fill="#1e1e1e" fill-opacity="0.8"/>
<ellipse cx="129.80" cy="446.00" rx="4.00" ry="1.30" fill="#141414" fill-opacity="0.9"/>
<ellipse cx="129.80" cy="450.00" rx="4.00" ry="1.30" fill="#141414" fill-opacity="0.9"/>
<ellipse cx="139.40" cy="456.00" rx="4.00" ry="1.30" fill="#050505" fill-opacity="1"/>
<ellipse cx="41.00" cy="460.00" rx="3.20" ry="1.30" fill="#000000" fill-opacity="0.6"/>
<ellipse cx="50.40" cy="460.00" rx="3.40" ry="1.40" fill="#000000" fill-opacity="0.75"/>
<ellipse cx="59.90" cy="460.00" rx="2.00" ry="1.00" fill="#000000" fill-opacity="0.1"/>
<ellipse cx="69.80" cy="460.00" rx="3.00" ry="1.10" fill="#000000" fill-opacity="0.25"/>
<ellipse cx="80.20" cy="460.00" rx="3.80" ry="1.80" fill="#000000" fill-opacity="1"/>
<ellipse cx="90.40" cy="460.00" rx="3.80" ry="1.80" fill="#000000" fill-opacity="1"/>
<ellipse cx="110.50" cy="459.40" rx="4.20" ry="2.40" fill="#000000" fill-opacity="1"/>
<ellipse cx="120.10" cy="459.00" rx="4.20" ry="3.00" fill="#000000" fill-opacity="1"/>
<ellipse cx="129.80" cy="459.40" rx="4.00" ry="2.40" fill="#000000" fill-opacity="1"/>
<ellipse cx="139.40" cy="456.00" rx="3.40" ry="2.20" fill="#000000" fill-opacity="1"/>
<rect x="36.20" y="430.60" width="109.20" height="6.20" fill="#050505" fill-opacity="1.0"/>
<ellipse cx="41.00" cy="433.60" rx="4.60" ry="3.60" fill="#000000" fill-opacity="1.0"/>
<ellipse cx="50.40" cy="433.60" rx="4.60" ry="3.60" fill="#000000" fill-opacity="1.0"/>
<ellipse cx="59.90" cy="433.60" rx="4.60" ry="3.60" fill="#000000" fill-opacity="1.0"/>
<ellipse cx="69.80" cy="433.60" rx="4.60" ry="3.60" fill="#000000" fill-opacity="1.0"/>
<ellipse cx="80.20" cy="433.60" rx="4.60" ry="3.60" fill="#000000" fill-opacity="1.0"/>
<ellipse cx="90.40" cy="433.60" rx="4.60" ry="3.60" fill="#000000" fill-opacity="1.0"/>
<ellipse cx="100.60" cy="433.60" rx="4.60" ry="3.60" fill="#000000" fill-opacity="1.0"/>
<ellipse cx="110.50" cy="433.60" rx="4.60" ry="3.60" fill="#000000" fill-opacity="1.0"/>
<ellipse cx="120.10" cy="433.60" rx="4.60" ry="3.60" fill="#000000" fill-opacity="1.0"/>
<ellipse cx="129.80" cy="433.60" rx="4.60" ry="3.60" fill="#000000" fill-opacity="1.0"/>
<ellipse cx="139.40" cy="433.60" rx="4.60" ry="3.60" fill="#000000" fill-opacity="1.0"/>
<rect x="135.40" y="394.50" width="8.00" height="9.00" fill="#050505" fill-opacity="1.0"/>
<ellipse cx="139.40" cy="416.60" rx="3.60" ry="1.00" fill="#282828" fill-opacity="0.9"/>
</g></g>
<rect x="36.20" y="394.60" width="109.20" height="70.20" fill="none" stroke="#3a3a3a" stroke-width="0.8"/>
<clipPath id="cl3"><rect x="36.20" y="467.00" width="109.20" height="6.20"/></clipPath>
<g clip-path="url(#cl3)">
<rect x="36.20" y="467.00" width="109.20" height="6.20" fill="#9c9c9c"/>
<g filter="url(#bl8)">
<ellipse cx="41.00" cy="470.00" rx="4.20" ry="1.90" fill="#050505" fill-opacity="0.3"/>
<ellipse cx="50.40" cy="470.00" rx="4.20" ry="1.90" fill="#050505" fill-opacity="0.95"/>
<ellipse cx="59.90" cy="470.00" rx="4.20" ry="1.90" fill="#050505" fill-opacity="0.6"/>
<ellipse cx="69.80" cy="470.00" rx="4.20" ry="1.90" fill="#050505" fill-opacity="0.3"/>
<ellipse cx="80.20" cy="470.00" rx="4.20" ry="1.90" fill="#050505" fill-opacity="0.95"/>
<ellipse cx="90.40" cy="470.00" rx="4.20" ry="1.90" fill="#050505" fill-opacity="0.95"/>
<ellipse cx="100.60" cy="470.00" rx="4.20" ry="1.90" fill="#050505" fill-opacity="0.15"/>
<ellipse cx="110.50" cy="470.00" rx="4.20" ry="1.90" fill="#050505" fill-opacity="0.95"/>
<ellipse cx="120.10" cy="470.00" rx="4.20" ry="1.90" fill="#050505" fill-opacity="0.95"/>
<ellipse cx="129.80" cy="470.00" rx="4.20" ry="1.90" fill="#050505" fill-opacity="0.95"/>
<ellipse cx="139.40" cy="470.00" rx="4.20" ry="1.90" fill="#050505" fill-opacity="0.05"/>
</g></g>
<rect x="36.20" y="467.00" width="109.20" height="6.20" fill="none" stroke="#3a3a3a" stroke-width="0.8"/>
<clipPath id="cl4"><rect x="36.20" y="475.30" width="109.20" height="7.00"/></clipPath>
<g clip-path="url(#cl4)">
<rect x="36.20" y="475.30" width="109.20" height="7.00" fill="#e4e4e4"/>
<g filter="url(#bl6)">
<rect x="36.80" y="477.40" width="8.40" height="2.60" fill="#232323" fill-opacity="0.95"/>
<rect x="46.20" y="477.40" width="8.40" height="2.60" fill="#232323" fill-opacity="0.95"/>
<rect x="55.70" y="477.40" width="8.40" height="2.60" fill="#232323" fill-opacity="0.95"/>
<rect x="65.60" y="477.40" width="8.40" height="2.60" fill="#232323" fill-opacity="0.95"/>
<rect x="76.00" y="477.40" width="8.40" height="2.60" fill="#232323" fill-opacity="0.95"/>
<rect x="86.20" y="477.40" width="8.40" height="2.60" fill="#232323" fill-opacity="0.95"/>
<rect x="96.40" y="477.40" width="8.40" height="2.60" fill="#232323" fill-opacity="0.95"/>
<rect x="106.30" y="477.40" width="8.40" height="2.60" fill="#232323" fill-opacity="0.95"/>
<rect x="115.90" y="477.40" width="8.40" height="2.60" fill="#232323" fill-opacity="0.95"/>
<rect x="125.60" y="477.40" width="8.40" height="2.60" fill="#232323" fill-opacity="0.95"/>
<rect x="135.20" y="477.40" width="8.40" height="2.60" fill="#232323" fill-opacity="0.95"/>
</g></g>
<rect x="36.20" y="475.30" width="109.20" height="7.00" fill="none" stroke="#3a3a3a" stroke-width="0.8"/>
<text x="148.30" y="361.90" font-size="7.8">SUMO1</text>
<text x="148.30" y="436.00" font-size="7.8">SUMO2/3</text>
<text x="148.30" y="463.80" font-size="7.8">Free</text>
<text x="148.30" y="472.70" font-size="7.8">SUMO2/3</text>
<text x="148.30" y="481.60" font-size="7.8">Actin</text>
<defs><linearGradient id="fg1" x1="0" y1="0" x2="0" y2="1"><stop offset="0" stop-color="#afafaf"/><stop offset="0.2" stop-color="#a5a5a5"/><stop offset="0.5" stop-color="#919191"/><stop offset="0.62" stop-color="#969696"/><stop offset="0.72" stop-color="#afafaf"/><stop offset="1" stop-color="#afafaf"/></linearGradient><linearGradient id="fg2" x1="0" y1="0" x2="0" y2="1"><stop offset="0" stop-color="#aaaaaa"/><stop offset="0.3" stop-color="#969696"/><stop offset="0.55" stop-color="#878787"/><stop offset="0.65" stop-color="#919191"/><stop offset="0.72" stop-color="#aaaaaa"/><stop offset="1" stop-color="#aaaaaa"/></linearGradient><linearGradient id="fg3" x1="0" y1="0" x2="0" y2="1"><stop offset="0" stop-color="#dedede"/><stop offset="0.7" stop-color="#d8d8d8"/><stop offset="1" stop-color="#d2d2d2"/></linearGradient><linearGradient id="fg4" x1="0" y1="0" x2="0" y2="1"><stop offset="0" stop-color="#dcdcdc"/><stop offset="0.7" stop-color="#d6d6d6"/><stop offset="1" stop-color="#d2d2d2"/></linearGradient><linearGradient id="fg5" x1="0" y1="0" x2="0" y2="1"><stop offset="0" stop-color="#969696"/><stop offset="0.15" stop-color="#787878"/><stop offset="0.25" stop-color="#323232"/><stop offset="0.55" stop-color="#0f0f0f"/><stop offset="0.62" stop-color="#282828"/><stop offset="0.72" stop-color="#646464"/><stop offset="1" stop-color="#737373"/></linearGradient><linearGradient id="fg6" x1="0" y1="0" x2="0" y2="1"><stop offset="0" stop-color="#6e6e6e"/><stop offset="0.1" stop-color="#464646"/><stop offset="0.25" stop-color="#0f0f0f"/><stop offset="0.6" stop-color="#0a0a0a"/><stop offset="0.7" stop-color="#3c3c3c"/><stop offset="1" stop-color="#5f5f5f"/></linearGradient><linearGradient id="fg7" x1="0" y1="0" x2="0" y2="1"><stop offset="0" stop-color="#bebebe"/><stop offset="0.3" stop-color="#a5a5a5"/><stop offset="0.5" stop-color="#969696"/><stop offset="0.62" stop-color="#a0a0a0"/><stop offset="0.72" stop-color="#b4b4b4"/><stop offset="1" stop-color="#b4b4b4"/></linearGradient><linearGradient id="fg8" x1="0" y1="0" x2="0" y2="1"><stop offset="0" stop-color="#c0c0c0"/><stop offset="0.3" stop-color="#aaaaaa"/><stop offset="0.5" stop-color="#9e9e9e"/><stop offset="0.62" stop-color="#a5a5a5"/><stop offset="0.72" stop-color="#b9b9b9"/><stop offset="1" stop-color="#b9b9b9"/></linearGradient><linearGradient id="fg9" x1="0" y1="0" x2="0" y2="1"><stop offset="0" stop-color="#8c8c8c"/><stop offset="0.2" stop-color="#646464"/><stop offset="0.35" stop-color="#464646"/><stop offset="0.45" stop-color="#5f5f5f"/><stop offset="0.6" stop-color="#737373"/><stop offset="0.8" stop-color="#7d7d7d"/><stop offset="1" stop-color="#828282"/></linearGradient><linearGradient id="fg10" x1="0" y1="0" x2="0" y2="1"><stop offset="0" stop-color="#828282"/><stop offset="0.2" stop-color="#6e6e6e"/><stop offset="0.35" stop-color="#3c3c3c"/><stop offset="0.5" stop-color="#555555"/><stop offset="0.7" stop-color="#6e6e6e"/><stop offset="0.85" stop-color="#787878"/><stop offset="1" stop-color="#828282"/></linearGradient><linearGradient id="fg11" x1="0" y1="0" x2="0" y2="1"><stop offset="0" stop-color="#eeeeee"/><stop offset="1" stop-color="#ececec"/></linearGradient><linearGradient id="fg12" x1="0" y1="0" x2="0" y2="1"><stop offset="0" stop-color="#eeeeee"/><stop offset="1" stop-color="#ececec"/></linearGradient><linearGradient id="fg13" x1="0" y1="0" x2="0" y2="1"><stop offset="0" stop-color="#6e6e6e"/><stop offset="0.1" stop-color="#3c3c3c"/><stop offset="0.2" stop-color="#0f0f0f"/><stop offset="0.6" stop-color="#0f0f0f"/><stop offset="0.7" stop-color="#3c3c3c"/><stop offset="0.85" stop-color="#5a5a5a"/><stop offset="1" stop-color="#646464"/></linearGradient><linearGradient id="fg14" x1="0" y1="0" x2="0" y2="1"><stop offset="0" stop-color="#282828"/><stop offset="0.1" stop-color="#0f0f0f"/><stop offset="0.7" stop-color="#0a0a0a"/><stop offset="0.85" stop-color="#3c3c3c"/><stop offset="1" stop-color="#505050"/></linearGradient><linearGradient id="fg15" x1="0" y1="0" x2="0" y2="1"><stop offset="0" stop-color="#d7d7d7"/><stop offset="0.3" stop-color="#c8c8c8"/><stop offset="0.5" stop-color="#c3c3c3"/><stop offset="0.8" stop-color="#d2d2d2"/><stop offset="1" stop-color="#d2d2d2"/></linearGradient><linearGradient id="fg16" x1="0" y1="0" x2="0" y2="1"><stop offset="0" stop-color="#dcdcdc"/><stop offset="0.5" stop-color="#cdcdcd"/><stop offset="0.8" stop-color="#d7d7d7"/><stop offset="1" stop-color="#d7d7d7"/></linearGradient><linearGradient id="fg17" x1="0" y1="0" x2="0" y2="1"><stop offset="0" stop-color="#282828"/><stop offset="0.06" stop-color="#282828"/><stop offset="0.1" stop-color="#828282"/><stop offset="0.25" stop-color="#5f5f5f"/><stop offset="0.29" stop-color="#141414"/><stop offset="0.43" stop-color="#141414"/><stop offset="0.5" stop-color="#6e6e6e"/><stop offset="0.72" stop-color="#8c8c8c"/><stop offset="1" stop-color="#8c8c8c"/></linearGradient><linearGradient id="fg18" x1="0" y1="0" x2="0" y2="1"><stop offset="0" stop-color="#282828"/><stop offset="0.06" stop-color="#282828"/><stop offset="0.1" stop-color="#969696"/><stop offset="0.27" stop-color="#696969"/><stop offset="0.3" stop-color="#464646"/><stop offset="0.43" stop-color="#505050"/><stop offset="0.5" stop-color="#828282"/><stop offset="0.72" stop-color="#969696"/><stop offset="1" stop-color="#969696"/></linearGradient><linearGradient id="fg19" x1="0" y1="0" x2="0" y2="1"><stop offset="0" stop-color="#cdcdcd"/><stop offset="0.7" stop-color="#c8c8c8"/><stop offset="1" stop-color="#c8c8c8"/></linearGradient><linearGradient id="fg20" x1="0" y1="0" x2="0" y2="1"><stop offset="0" stop-color="#cdcdcd"/><stop offset="0.7" stop-color="#c8c8c8"/><stop offset="1" stop-color="#c8c8c8"/></linearGradient><linearGradient id="fg21" x1="0" y1="0" x2="0" y2="1"><stop offset="0" stop-color="#0a0a0a"/><stop offset="0.3" stop-color="#0f0f0f"/><stop offset="0.55" stop-color="#232323"/><stop offset="0.65" stop-color="#464646"/><stop offset="0.72" stop-color="#646464"/><stop offset="1" stop-color="#6e6e6e"/></linearGradient><linearGradient id="fg22" x1="0" y1="0" x2="0" y2="1"><stop offset="0" stop-color="#1e1e1e"/><stop offset="0.06" stop-color="#1e1e1e"/><stop offset="0.1" stop-color="#646464"/><stop offset="0.17" stop-color="#464646"/><stop offset="0.28" stop-color="#141414"/><stop offset="0.43" stop-color="#141414"/><stop offset="0.5" stop-color="#646464"/><stop offset="0.72" stop-color="#828282"/><stop offset="1" stop-color="#828282"/></linearGradient><linearGradient id="fg23" x1="0" y1="0" x2="0" y2="1"><stop offset="0" stop-color="#c8c8c8"/><stop offset="0.7" stop-color="#c3c3c3"/><stop offset="1" stop-color="#c3c3c3"/></linearGradient><linearGradient id="fg24" x1="0" y1="0" x2="0" y2="1"><stop offset="0" stop-color="#cdcdcd"/><stop offset="0.7" stop-color="#c8c8c8"/><stop offset="1" stop-color="#c8c8c8"/></linearGradient><linearGradient id="fg25" x1="0" y1="0" x2="0" y2="1"><stop offset="0" stop-color="#aaaaaa"/><stop offset="0.2" stop-color="#8c8c8c"/><stop offset="0.5" stop-color="#969696"/><stop offset="0.7" stop-color="#a0a0a0"/><stop offset="1" stop-color="#a5a5a5"/></linearGradient><linearGradient id="fg26" x1="0" y1="0" x2="0" y2="1"><stop offset="0" stop-color="#aaaaaa"/><stop offset="0.2" stop-color="#919191"/><stop offset="0.5" stop-color="#969696"/><stop offset="0.7" stop-color="#a0a0a0"/><stop offset="1" stop-color="#a5a5a5"/></linearGradient><linearGradient id="fg27" x1="0" y1="0" x2="0" y2="1"><stop offset="0" stop-color="#b9b9b9"/><stop offset="1" stop-color="#b4b4b4"/></linearGradient><linearGradient id="fg28" x1="0" y1="0" x2="0" y2="1"><stop offset="0" stop-color="#b6b6b6"/><stop offset="1" stop-color="#b4b4b4"/></linearGradient><linearGradient id="fg29" x1="0" y1="0" x2="0" y2="1"><stop offset="0" stop-color="#1e1e1e"/><stop offset="0.1" stop-color="#0a0a0a"/><stop offset="0.7" stop-color="#0a0a0a"/><stop offset="0.8" stop-color="#282828"/><stop offset="1" stop-color="#3c3c3c"/></linearGradient><linearGradient id="fg30" x1="0" y1="0" x2="0" y2="1"><stop offset="0" stop-color="#6e6e6e"/><stop offset="0.2" stop-color="#505050"/><stop offset="0.5" stop-color="#5a5a5a"/><stop offset="0.7" stop-color="#6e6e6e"/><stop offset="1" stop-color="#787878"/></linearGradient><linearGradient id="fg31" x1="0" y1="0" x2="0" y2="1"><stop offset="0" stop-color="#c3c3c3"/><stop offset="1" stop-color="#bebebe"/></linearGradient><linearGradient id="fg32" x1="0" y1="0" x2="0" y2="1"><stop offset="0" stop-color="#c3c3c3"/><stop offset="1" stop-color="#bebebe"/></linearGradient></defs>
<text x="291.00" y="307.10" font-size="12" font-weight="bold" fill="#000">F</text>
<text x="318.20" y="326.60" font-size="8.0">CFZ sensitive</text>
<text x="453.80" y="325.60" font-size="8.0">CFZ resistant</text>
<line x1="370.20" y1="322.90" x2="445.50" y2="322.90" stroke="#231f20" stroke-width="0.8"/><path d="M448.40,322.90 L445.00,321.20 L445.00,324.60 Z" fill="#231f20"/>
<text x="410.00" y="309.00" font-size="7.1" text-anchor="middle">Culture cells in CFZ</text>
<text x="408.80" y="318.30" font-size="7.1" text-anchor="middle">containing medium</text>
<text x="408.80" y="332.20" font-size="7.1" text-anchor="middle">Increase [CFZ]</text>
<text x="408.80" y="340.80" font-size="7.1" text-anchor="middle">over time (&gt;10 weeks)</text>
<text x="337.10" y="360.40" font-size="7.6" text-anchor="middle">P</text>
<text x="411.50" y="360.40" font-size="7.6" text-anchor="middle">P</text>
<text x="370.60" y="360.40" font-size="7.6" text-anchor="middle">R</text>
<text x="444.50" y="360.40" font-size="7.6" text-anchor="middle">R</text>
<line x1="321.70" y1="365.50" x2="352.50" y2="365.50" stroke="#231f20" stroke-width="0.85"/>
<line x1="355.50" y1="365.50" x2="386.30" y2="365.50" stroke="#231f20" stroke-width="0.85"/>
<line x1="396.20" y1="365.50" x2="426.30" y2="365.50" stroke="#231f20" stroke-width="0.85"/>
<line x1="429.40" y1="365.50" x2="460.00" y2="365.50" stroke="#231f20" stroke-width="0.85"/>
<text x="323.80" y="373.80" font-size="7.6" text-anchor="middle">−</text>
<text x="323.80" y="386.70" font-size="7.6" text-anchor="middle">−</text>
<text x="332.40" y="373.80" font-size="7.6" text-anchor="middle">−</text>
<text x="332.40" y="386.70" font-size="7.6" text-anchor="middle">+</text>
<text x="341.00" y="373.80" font-size="7.6" text-anchor="middle">+</text>
<text x="341.00" y="386.70" font-size="7.6" text-anchor="middle">−</text>
<text x="349.60" y="373.80" font-size="7.6" text-anchor="middle">+</text>
<text x="349.60" y="386.70" font-size="7.6" text-anchor="middle">+</text>
<text x="358.20" y="373.80" font-size="7.6" text-anchor="middle">−</text>
<text x="358.20" y="386.70" font-size="7.6" text-anchor="middle">−</text>
<text x="366.80" y="373.80" font-size="7.6" text-anchor="middle">−</text>
<text x="366.80" y="386.70" font-size="7.6" text-anchor="middle">+</text>
<text x="375.40" y="373.80" font-size="7.6" text-anchor="middle">+</text>
<text x="375.40" y="386.70" font-size="7.6" text-anchor="middle">−</text>
<text x="384.00" y="373.80" font-size="7.6" text-anchor="middle">+</text>
<text x="384.00" y="386.70" font-size="7.6" text-anchor="middle">+</text>
<text x="399.20" y="373.80" font-size="7.6" text-anchor="middle">−</text>
<text x="399.20" y="386.70" font-size="7.6" text-anchor="middle">−</text>
<text x="407.80" y="373.80" font-size="7.6" text-anchor="middle">−</text>
<text x="407.80" y="386.70" font-size="7.6" text-anchor="middle">+</text>
<text x="416.40" y="373.80" font-size="7.6" text-anchor="middle">+</text>
<text x="416.40" y="386.70" font-size="7.6" text-anchor="middle">−</text>
<text x="425.00" y="373.80" font-size="7.6" text-anchor="middle">+</text>
<text x="425.00" y="386.70" font-size="7.6" text-anchor="middle">+</text>
<text x="433.60" y="373.80" font-size="7.6" text-anchor="middle">−</text>
<text x="433.60" y="386.70" font-size="7.6" text-anchor="middle">−</text>
<text x="442.20" y="373.80" font-size="7.6" text-anchor="middle">−</text>
<text x="442.20" y="386.70" font-size="7.6" text-anchor="middle">+</text>
<text x="450.80" y="373.80" font-size="7.6" text-anchor="middle">+</text>
<text x="450.80" y="386.70" font-size="7.6" text-anchor="middle">−</text>
<text x="459.40" y="373.80" font-size="7.6" text-anchor="middle">+</text>
<text x="459.40" y="386.70" font-size="7.6" text-anchor="middle">+</text>
<text x="465.80" y="373.40" font-size="7.6">Suba</text>
<text x="465.80" y="386.50" font-size="7.6">CFZ</text>
<clipPath id="fcl0_319_390"><rect x="319.20" y="390.10" width="69.40" height="38.30"/></clipPath>
<g clip-path="url(#fcl0_319_390)">
<rect x="319.20" y="390.10" width="69.40" height="38.30" fill="#e0e0e0"/>
<g filter="url(#bl8)">
<rect x="319.20" y="390.10" width="8.68" height="38.30" fill="url(#fg1)"/>
<rect x="319.80" y="391.10" width="7.48" height="1.3" fill="#000" fill-opacity="0.04"/>
<rect x="319.80" y="393.73" width="7.48" height="1.3" fill="#fff" fill-opacity="0.10"/>
<rect x="319.80" y="396.01" width="7.48" height="1.3" fill="#fff" fill-opacity="0.01"/>
<rect x="319.80" y="398.90" width="7.48" height="1.3" fill="#fff" fill-opacity="0.15"/>
<rect x="319.80" y="401.09" width="7.48" height="1.3" fill="#fff" fill-opacity="0.00"/>
<rect x="319.80" y="403.70" width="7.48" height="1.3" fill="#000" fill-opacity="0.08"/>
<rect x="319.80" y="406.67" width="7.48" height="1.3" fill="#000" fill-opacity="0.06"/>
<rect x="319.80" y="409.12" width="7.48" height="1.3" fill="#fff" fill-opacity="0.17"/>
<rect x="319.80" y="411.75" width="7.48" height="1.3" fill="#000" fill-opacity="0.19"/>
<rect x="319.80" y="414.06" width="7.48" height="1.3" fill="#000" fill-opacity="0.08"/>
<rect x="319.80" y="416.11" width="7.48" height="1.3" fill="#000" fill-opacity="0.02"/>
<rect x="319.80" y="418.85" width="7.48" height="1.3" fill="#000" fill-opacity="0.12"/>
<rect x="319.70" y="416.96" width="7.68" height="4.48" rx="1.5" fill="#050505" fill-opacity="1"/>
<rect x="319.70" y="423.38" width="7.68" height="3.64" rx="1.5" fill="#282828" fill-opacity="0.9"/>
<rect x="327.88" y="390.10" width="8.68" height="38.30" fill="url(#fg2)"/>
<rect x="328.48" y="391.10" width="7.48" height="1.3" fill="#fff" fill-opacity="0.16"/>
<rect x="328.48" y="393.66" width="7.48" height="1.3" fill="#fff" fill-opacity="0.02"/>
<rect x="328.48" y="395.77" width="7.48" height="1.3" fill="#000" fill-opacity="0.33"/>
<rect x="328.48" y="398.75" width="7.48" height="1.3" fill="#000" fill-opacity="0.20"/>
<rect x="328.48" y="400.97" width="7.48" height="1.3" fill="#fff" fill-opacity="0.14"/>
<rect x="328.48" y="403.72" width="7.48" height="1.3" fill="#000" fill-opacity="0.29"/>
<rect x="328.48" y="406.04" width="7.48" height="1.3" fill="#000" fill-opacity="0.22"/>
<rect x="328.48" y="408.31" width="7.48" height="1.3" fill="#000" fill-opacity="0.36"/>
<rect x="328.48" y="410.84" width="7.48" height="1.3" fill="#000" fill-opacity="0.19"/>
<rect x="328.48" y="413.23" width="7.48" height="1.3" fill="#000" fill-opacity="0.26"/>
<rect x="328.48" y="415.34" width="7.48" height="1.3" fill="#000" fill-opacity="0.34"/>
<rect x="328.48" y="418.21" width="7.48" height="1.3" fill="#fff" fill-opacity="0.06"/>
<rect x="328.48" y="420.77" width="7.48" height="1.3" fill="#000" fill-opacity="0.29"/>
<rect x="328.38" y="416.96" width="7.68" height="4.48" rx="1.5" fill="#050505" fill-opacity="1"/>
<rect x="328.38" y="423.38" width="7.68" height="3.64" rx="1.5" fill="#1e1e1e" fill-opacity="0.95"/>
<rect x="336.55" y="390.10" width="8.68" height="38.30" fill="url(#fg3)"/>
<rect x="337.15" y="391.10" width="7.48" height="1.3" fill="#000" fill-opacity="0.29"/>
<rect x="337.15" y="393.42" width="7.48" height="1.3" fill="#000" fill-opacity="0.33"/>
<rect x="337.15" y="395.69" width="7.48" height="1.3" fill="#000" fill-opacity="0.25"/>
<rect x="337.15" y="397.88" width="7.48" height="1.3" fill="#fff" fill-opacity="0.01"/>
<rect x="337.15" y="400.34" width="7.48" height="1.3" fill="#000" fill-opacity="0.09"/>
<rect x="337.15" y="402.70" width="7.48" height="1.3" fill="#000" fill-opacity="0.06"/>
<rect x="337.15" y="405.49" width="7.48" height="1.3" fill="#000" fill-opacity="0.19"/>
<rect x="337.15" y="407.56" width="7.48" height="1.3" fill="#000" fill-opacity="0.09"/>
<rect x="337.15" y="409.94" width="7.48" height="1.3" fill="#fff" fill-opacity="0.08"/>
<rect x="337.15" y="412.05" width="7.48" height="1.3" fill="#fff" fill-opacity="0.13"/>
<rect x="337.15" y="414.06" width="7.48" height="1.3" fill="#000" fill-opacity="0.06"/>
<rect x="337.15" y="416.50" width="7.48" height="1.3" fill="#000" fill-opacity="0.18"/>
<rect x="337.15" y="419.39" width="7.48" height="1.3" fill="#fff" fill-opacity="0.03"/>
<rect x="337.05" y="417.24" width="7.68" height="3.92" rx="1.5" fill="#505050" fill-opacity="0.95"/>
<rect x="337.05" y="423.66" width="7.68" height="3.08" rx="1.5" fill="#969696" fill-opacity="0.8"/>
<rect x="345.23" y="390.10" width="8.68" height="38.30" fill="url(#fg4)"/>
<rect x="345.83" y="391.10" width="7.48" height="1.3" fill="#000" fill-opacity="0.08"/>
<rect x="345.83" y="393.71" width="7.48" height="1.3" fill="#000" fill-opacity="0.34"/>
<rect x="345.83" y="395.80" width="7.48" height="1.3" fill="#000" fill-opacity="0.02"/>
<rect x="345.83" y="398.53" width="7.48" height="1.3" fill="#000" fill-opacity="0.10"/>
<rect x="345.83" y="400.95" width="7.48" height="1.3" fill="#000" fill-opacity="0.08"/>
<rect x="345.83" y="403.21" width="7.48" height="1.3" fill="#fff" fill-opacity="0.13"/>
<rect x="345.83" y="406.17" width="7.48" height="1.3" fill="#000" fill-opacity="0.09"/>
<rect x="345.83" y="408.19" width="7.48" height="1.3" fill="#000" fill-opacity="0.14"/>
<rect x="345.83" y="411.00" width="7.48" height="1.3" fill="#000" fill-opacity="0.18"/>
<rect x="345.83" y="413.10" width="7.48" height="1.3" fill="#000" fill-opacity="0.26"/>
<rect x="345.83" y="415.81" width="7.48" height="1.3" fill="#000" fill-opacity="0.01"/>
<rect x="345.83" y="418.10" width="7.48" height="1.3" fill="#000" fill-opacity="0.01"/>
<rect x="345.83" y="420.86" width="7.48" height="1.3" fill="#fff" fill-opacity="0.18"/>
<rect x="345.73" y="417.24" width="7.68" height="3.92" rx="1.5" fill="#505050" fill-opacity="0.95"/>
<rect x="345.73" y="423.66" width="7.68" height="3.08" rx="1.5" fill="#969696" fill-opacity="0.8"/>
<rect x="353.90" y="390.10" width="8.68" height="38.30" fill="url(#fg5)"/>
<rect x="354.50" y="391.10" width="7.48" height="1.3" fill="#000" fill-opacity="0.12"/>
<rect x="354.50" y="393.91" width="7.48" height="1.3" fill="#fff" fill-opacity="0.16"/>
<rect x="354.50" y="396.78" width="7.48" height="1.3" fill="#fff" fill-opacity="0.06"/>
<rect x="354.50" y="399.37" width="7.48" height="1.3" fill="#000" fill-opacity="0.07"/>
<rect x="354.50" y="402.22" width="7.48" height="1.3" fill="#000" fill-opacity="0.01"/>
<rect x="354.50" y="404.94" width="7.48" height="1.3" fill="#000" fill-opacity="0.23"/>
<rect x="354.50" y="407.03" width="7.48" height="1.3" fill="#000" fill-opacity="0.21"/>
<rect x="354.50" y="409.61" width="7.48" height="1.3" fill="#000" fill-opacity="0.04"/>
<rect x="354.50" y="411.81" width="7.48" height="1.3" fill="#000" fill-opacity="0.25"/>
<rect x="354.50" y="414.76" width="7.48" height="1.3" fill="#000" fill-opacity="0.32"/>
<rect x="354.50" y="417.69" width="7.48" height="1.3" fill="#fff" fill-opacity="0.07"/>
<rect x="354.50" y="420.26" width="7.48" height="1.3" fill="#fff" fill-opacity="0.20"/>
<rect x="354.40" y="416.96" width="7.68" height="4.48" rx="1.5" fill="#000000" fill-opacity="1"/>
<rect x="354.40" y="423.24" width="7.68" height="3.92" rx="1.5" fill="#050505" fill-opacity="1"/>
<rect x="362.58" y="390.10" width="8.68" height="38.30" fill="url(#fg6)"/>
<rect x="363.18" y="391.10" width="7.48" height="1.3" fill="#000" fill-opacity="0.36"/>
<rect x="363.18" y="394.04" width="7.48" height="1.3" fill="#000" fill-opacity="0.13"/>
<rect x="363.18" y="396.96" width="7.48" height="1.3" fill="#fff" fill-opacity="0.10"/>
<rect x="363.18" y="399.09" width="7.48" height="1.3" fill="#000" fill-opacity="0.34"/>
<rect x="363.18" y="401.11" width="7.48" height="1.3" fill="#fff" fill-opacity="0.08"/>
<rect x="363.18" y="403.91" width="7.48" height="1.3" fill="#000" fill-opacity="0.23"/>
<rect x="363.18" y="406.02" width="7.48" height="1.3" fill="#000" fill-opacity="0.15"/>
<rect x="363.18" y="408.82" width="7.48" height="1.3" fill="#fff" fill-opacity="0.05"/>
<rect x="363.18" y="411.69" width="7.48" height="1.3" fill="#fff" fill-opacity="0.18"/>
<rect x="363.18" y="414.44" width="7.48" height="1.3" fill="#fff" fill-opacity="0.11"/>
<rect x="363.18" y="416.46" width="7.48" height="1.3" fill="#000" fill-opacity="0.36"/>
<rect x="363.18" y="419.32" width="7.48" height="1.3" fill="#000" fill-opacity="0.01"/>
<rect x="363.08" y="416.96" width="7.68" height="4.48" rx="1.5" fill="#000000" fill-opacity="1"/>
<rect x="363.08" y="423.24" width="7.68" height="3.92" rx="1.5" fill="#050505" fill-opacity="1"/>
<rect x="371.25" y="390.10" width="8.68" height="38.30" fill="url(#fg7)"/>
<rect x="371.85" y="391.10" width="7.48" height="1.3" fill="#000" fill-opacity="0.29"/>
<rect x="371.85" y="393.43" width="7.48" height="1.3" fill="#000" fill-opacity="0.17"/>
<rect x="371.85" y="395.93" width="7.48" height="1.3" fill="#000" fill-opacity="0.11"/>
<rect x="371.85" y="398.13" width="7.48" height="1.3" fill="#000" fill-opacity="0.31"/>
<rect x="371.85" y="400.33" width="7.48" height="1.3" fill="#000" fill-opacity="0.29"/>
<rect x="371.85" y="402.43" width="7.48" height="1.3" fill="#000" fill-opacity="0.13"/>
<rect x="371.85" y="404.56" width="7.48" height="1.3" fill="#fff" fill-opacity="0.09"/>
<rect x="371.85" y="407.11" width="7.48" height="1.3" fill="#000" fill-opacity="0.10"/>
<rect x="371.85" y="409.75" width="7.48" height="1.3" fill="#000" fill-opacity="0.23"/>
<rect x="371.85" y="411.77" width="7.48" height="1.3" fill="#000" fill-opacity="0.32"/>
<rect x="371.85" y="414.11" width="7.48" height="1.3" fill="#000" fill-opacity="0.16"/>
<rect x="371.85" y="416.36" width="7.48" height="1.3" fill="#000" fill-opacity="0.19"/>
<rect x="371.85" y="419.19" width="7.48" height="1.3" fill="#000" fill-opacity="0.36"/>
<rect x="371.75" y="416.96" width="7.68" height="4.48" rx="1.5" fill="#0a0a0a" fill-opacity="1"/>
<rect x="371.75" y="423.38" width="7.68" height="3.64" rx="1.5" fill="#3c3c3c" fill-opacity="0.9"/>
<rect x="379.93" y="390.10" width="8.68" height="38.30" fill="url(#fg8)"/>
<rect x="380.53" y="391.10" width="7.48" height="1.3" fill="#000" fill-opacity="0.15"/>
<rect x="380.53" y="393.38" width="7.48" height="1.3" fill="#fff" fill-opacity="0.05"/>
<rect x="380.53" y="395.61" width="7.48" height="1.3" fill="#000" fill-opacity="0.34"/>
<rect x="380.53" y="397.77" width="7.48" height="1.3" fill="#fff" fill-opacity="0.19"/>
<rect x="380.53" y="400.11" width="7.48" height="1.3" fill="#000" fill-opacity="0.29"/>
<rect x="380.53" y="403.08" width="7.48" height="1.3" fill="#fff" fill-opacity="0.00"/>
<rect x="380.53" y="406.04" width="7.48" height="1.3" fill="#000" fill-opacity="0.17"/>
<rect x="380.53" y="408.85" width="7.48" height="1.3" fill="#000" fill-opacity="0.34"/>
<rect x="380.53" y="411.09" width="7.48" height="1.3" fill="#fff" fill-opacity="0.09"/>
<rect x="380.53" y="413.60" width="7.48" height="1.3" fill="#fff" fill-opacity="0.08"/>
<rect x="380.53" y="415.99" width="7.48" height="1.3" fill="#fff" fill-opacity="0.13"/>
<rect x="380.53" y="418.07" width="7.48" height="1.3" fill="#000" fill-opacity="0.01"/>
<rect x="380.53" y="420.25" width="7.48" height="1.3" fill="#000" fill-opacity="0.25"/>
<rect x="380.43" y="416.96" width="7.68" height="4.48" rx="1.5" fill="#0a0a0a" fill-opacity="1"/>
<rect x="380.43" y="423.38" width="7.68" height="3.64" rx="1.5" fill="#464646" fill-opacity="0.85"/>
</g>
<rect x="327.38" y="390.10" width="1.0" height="38.30" fill="#eeeeee" fill-opacity="0.45"/>
<rect x="336.05" y="390.10" width="1.0" height="38.30" fill="#eeeeee" fill-opacity="0.45"/>
<rect x="344.73" y="390.10" width="1.0" height="38.30" fill="#eeeeee" fill-opacity="0.45"/>
<rect x="353.40" y="390.10" width="1.0" height="38.30" fill="#eeeeee" fill-opacity="0.45"/>
<rect x="362.07" y="390.10" width="1.0" height="38.30" fill="#eeeeee" fill-opacity="0.45"/>
<rect x="370.75" y="390.10" width="1.0" height="38.30" fill="#eeeeee" fill-opacity="0.45"/>
<rect x="379.43" y="390.10" width="1.0" height="38.30" fill="#eeeeee" fill-opacity="0.45"/>
</g>
<rect x="319.20" y="390.10" width="69.40" height="38.30" fill="none" stroke="#3a3a3a" stroke-width="0.8"/>
<clipPath id="fcl8_319_432"><rect x="319.20" y="432.40" width="69.40" height="31.10"/></clipPath>
<g clip-path="url(#fcl8_319_432)">
<rect x="319.20" y="432.40" width="69.40" height="31.10" fill="#f0f0f0"/>
<g filter="url(#bl8)">
<rect x="319.20" y="432.40" width="8.68" height="31.10" fill="url(#fg9)"/>
<rect x="319.80" y="433.40" width="7.48" height="1.3" fill="#000" fill-opacity="0.12"/>
<rect x="319.80" y="436.21" width="7.48" height="1.3" fill="#000" fill-opacity="0.20"/>
<rect x="319.80" y="438.94" width="7.48" height="1.3" fill="#fff" fill-opacity="0.15"/>
<rect x="319.80" y="441.57" width="7.48" height="1.3" fill="#000" fill-opacity="0.23"/>
<rect x="319.80" y="444.24" width="7.48" height="1.3" fill="#fff" fill-opacity="0.17"/>
<rect x="319.80" y="447.04" width="7.48" height="1.3" fill="#000" fill-opacity="0.11"/>
<rect x="319.80" y="449.44" width="7.48" height="1.3" fill="#000" fill-opacity="0.30"/>
<rect x="319.80" y="452.21" width="7.48" height="1.3" fill="#000" fill-opacity="0.27"/>
<rect x="319.80" y="454.43" width="7.48" height="1.3" fill="#000" fill-opacity="0.34"/>
<rect x="319.70" y="458.94" width="7.68" height="3.92" rx="1.5" fill="#050505" fill-opacity="1"/>
<rect x="327.88" y="432.40" width="8.68" height="31.10" fill="url(#fg10)"/>
<rect x="328.48" y="433.40" width="7.48" height="1.3" fill="#000" fill-opacity="0.15"/>
<rect x="328.48" y="435.88" width="7.48" height="1.3" fill="#000" fill-opacity="0.26"/>
<rect x="328.48" y="438.30" width="7.48" height="1.3" fill="#fff" fill-opacity="0.06"/>
<rect x="328.48" y="440.40" width="7.48" height="1.3" fill="#000" fill-opacity="0.28"/>
<rect x="328.48" y="442.92" width="7.48" height="1.3" fill="#fff" fill-opacity="0.15"/>
<rect x="328.48" y="445.84" width="7.48" height="1.3" fill="#000" fill-opacity="0.04"/>
<rect x="328.48" y="447.93" width="7.48" height="1.3" fill="#fff" fill-opacity="0.13"/>
<rect x="328.48" y="450.92" width="7.48" height="1.3" fill="#fff" fill-opacity="0.14"/>
<rect x="328.48" y="453.45" width="7.48" height="1.3" fill="#000" fill-opacity="0.15"/>
<rect x="328.48" y="456.04" width="7.48" height="1.3" fill="#fff" fill-opacity="0.08"/>
<rect x="328.38" y="458.94" width="7.68" height="3.92" rx="1.5" fill="#0a0a0a" fill-opacity="1"/>
<rect x="336.55" y="432.40" width="8.68" height="31.10" fill="url(#fg11)"/>
<rect x="337.15" y="433.40" width="7.48" height="1.3" fill="#000" fill-opacity="0.08"/>
<rect x="337.15" y="435.91" width="7.48" height="1.3" fill="#000" fill-opacity="0.19"/>
<rect x="337.15" y="438.45" width="7.48" height="1.3" fill="#000" fill-opacity="0.06"/>
<rect x="337.15" y="440.73" width="7.48" height="1.3" fill="#000" fill-opacity="0.10"/>
<rect x="337.15" y="443.65" width="7.48" height="1.3" fill="#000" fill-opacity="0.23"/>
<rect x="337.15" y="445.90" width="7.48" height="1.3" fill="#000" fill-opacity="0.19"/>
<rect x="337.15" y="448.76" width="7.48" height="1.3" fill="#000" fill-opacity="0.19"/>
<rect x="337.15" y="451.58" width="7.48" height="1.3" fill="#fff" fill-opacity="0.16"/>
<rect x="337.15" y="454.46" width="7.48" height="1.3" fill="#fff" fill-opacity="0.09"/>
<rect x="337.05" y="444.34" width="7.68" height="2.52" rx="1.5" fill="#969696" fill-opacity="0.85"/>
<rect x="337.05" y="452.88" width="7.68" height="2.24" rx="1.5" fill="#b9b9b9" fill-opacity="0.75"/>
<rect x="345.23" y="432.40" width="8.68" height="31.10" fill="url(#fg12)"/>
<rect x="345.83" y="433.40" width="7.48" height="1.3" fill="#000" fill-opacity="0.11"/>
<rect x="345.83" y="436.22" width="7.48" height="1.3" fill="#000" fill-opacity="0.22"/>
<rect x="345.83" y="438.82" width="7.48" height="1.3" fill="#fff" fill-opacity="0.13"/>
<rect x="345.83" y="441.76" width="7.48" height="1.3" fill="#000" fill-opacity="0.16"/>
<rect x="345.83" y="443.88" width="7.48" height="1.3" fill="#000" fill-opacity="0.34"/>
<rect x="345.83" y="446.19" width="7.48" height="1.3" fill="#000" fill-opacity="0.05"/>
<rect x="345.83" y="448.47" width="7.48" height="1.3" fill="#fff" fill-opacity="0.10"/>
<rect x="345.83" y="451.12" width="7.48" height="1.3" fill="#000" fill-opacity="0.01"/>
<rect x="345.83" y="453.95" width="7.48" height="1.3" fill="#000" fill-opacity="0.18"/>
<rect x="345.73" y="444.34" width="7.68" height="2.52" rx="1.5" fill="#969696" fill-opacity="0.85"/>
<rect x="345.73" y="452.88" width="7.68" height="2.24" rx="1.5" fill="#b9b9b9" fill-opacity="0.75"/>
<rect x="353.90" y="432.40" width="8.68" height="31.10" fill="url(#fg13)"/>
<rect x="354.50" y="433.40" width="7.48" height="1.3" fill="#000" fill-opacity="0.16"/>
<rect x="354.50" y="435.69" width="7.48" height="1.3" fill="#000" fill-opacity="0.30"/>
<rect x="354.50" y="438.48" width="7.48" height="1.3" fill="#fff" fill-opacity="0.14"/>
<rect x="354.50" y="440.51" width="7.48" height="1.3" fill="#fff" fill-opacity="0.04"/>
<rect x="354.50" y="442.57" width="7.48" height="1.3" fill="#000" fill-opacity="0.13"/>
<rect x="354.50" y="444.89" width="7.48" height="1.3" fill="#fff" fill-opacity="0.15"/>
<rect x="354.50" y="447.32" width="7.48" height="1.3" fill="#000" fill-opacity="0.07"/>
<rect x="354.50" y="449.68" width="7.48" height="1.3" fill="#000" fill-opacity="0.22"/>
<rect x="354.50" y="451.92" width="7.48" height="1.3" fill="#000" fill-opacity="0.33"/>
<rect x="354.50" y="453.93" width="7.48" height="1.3" fill="#000" fill-opacity="0.05"/>
<rect x="354.40" y="458.80" width="7.68" height="4.20" rx="1.5" fill="#000000" fill-opacity="1"/>
<rect x="362.58" y="432.40" width="8.68" height="31.10" fill="url(#fg14)"/>
<rect x="363.18" y="433.40" width="7.48" height="1.3" fill="#fff" fill-opacity="0.02"/>
<rect x="363.18" y="435.66" width="7.48" height="1.3" fill="#fff" fill-opacity="0.19"/>
<rect x="363.18" y="437.74" width="7.48" height="1.3" fill="#000" fill-opacity="0.12"/>
<rect x="363.18" y="440.07" width="7.48" height="1.3" fill="#000" fill-opacity="0.26"/>
<rect x="363.18" y="443.03" width="7.48" height="1.3" fill="#fff" fill-opacity="0.04"/>
<rect x="363.18" y="445.16" width="7.48" height="1.3" fill="#000" fill-opacity="0.26"/>
<rect x="363.18" y="447.97" width="7.48" height="1.3" fill="#000" fill-opacity="0.15"/>
<rect x="363.18" y="450.28" width="7.48" height="1.3" fill="#000" fill-opacity="0.19"/>
<rect x="363.18" y="452.60" width="7.48" height="1.3" fill="#000" fill-opacity="0.03"/>
<rect x="363.18" y="454.91" width="7.48" height="1.3" fill="#000" fill-opacity="0.03"/>
<rect x="363.08" y="458.80" width="7.68" height="4.20" rx="1.5" fill="#000000" fill-opacity="1"/>
<rect x="371.25" y="432.40" width="8.68" height="31.10" fill="url(#fg15)"/>
<rect x="371.85" y="433.40" width="7.48" height="1.3" fill="#000" fill-opacity="0.06"/>
<rect x="371.85" y="435.98" width="7.48" height="1.3" fill="#000" fill-opacity="0.18"/>
<rect x="371.85" y="438.85" width="7.48" height="1.3" fill="#fff" fill-opacity="0.16"/>
<rect x="371.85" y="441.51" width="7.48" height="1.3" fill="#000" fill-opacity="0.13"/>
<rect x="371.85" y="443.67" width="7.48" height="1.3" fill="#000" fill-opacity="0.01"/>
<rect x="371.85" y="445.96" width="7.48" height="1.3" fill="#000" fill-opacity="0.27"/>
<rect x="371.85" y="448.50" width="7.48" height="1.3" fill="#000" fill-opacity="0.25"/>
<rect x="371.85" y="451.13" width="7.48" height="1.3" fill="#fff" fill-opacity="0.07"/>
<rect x="371.85" y="453.15" width="7.48" height="1.3" fill="#000" fill-opacity="0.01"/>
<rect x="371.85" y="455.34" width="7.48" height="1.3" fill="#000" fill-opacity="0.17"/>
<rect x="371.75" y="459.36" width="7.68" height="3.08" rx="1.5" fill="#969696" fill-opacity="0.8"/>
<rect x="379.93" y="432.40" width="8.68" height="31.10" fill="url(#fg16)"/>
<rect x="380.53" y="433.40" width="7.48" height="1.3" fill="#fff" fill-opacity="0.18"/>
<rect x="380.53" y="435.71" width="7.48" height="1.3" fill="#fff" fill-opacity="0.06"/>
<rect x="380.53" y="438.06" width="7.48" height="1.3" fill="#fff" fill-opacity="0.17"/>
<rect x="380.53" y="440.23" width="7.48" height="1.3" fill="#fff" fill-opacity="0.01"/>
<rect x="380.53" y="442.32" width="7.48" height="1.3" fill="#000" fill-opacity="0.05"/>
<rect x="380.53" y="445.06" width="7.48" height="1.3" fill="#fff" fill-opacity="0.15"/>
<rect x="380.53" y="447.83" width="7.48" height="1.3" fill="#000" fill-opacity="0.05"/>
<rect x="380.53" y="450.23" width="7.48" height="1.3" fill="#000" fill-opacity="0.01"/>
<rect x="380.53" y="452.87" width="7.48" height="1.3" fill="#000" fill-opacity="0.02"/>
<rect x="380.53" y="455.59" width="7.48" height="1.3" fill="#fff" fill-opacity="0.06"/>
<rect x="380.43" y="459.36" width="7.68" height="3.08" rx="1.5" fill="#a0a0a0" fill-opacity="0.8"/>
</g>
<rect x="327.38" y="432.40" width="1.0" height="31.10" fill="#eeeeee" fill-opacity="0.45"/>
<rect x="336.05" y="432.40" width="1.0" height="31.10" fill="#eeeeee" fill-opacity="0.45"/>
<rect x="344.73" y="432.40" width="1.0" height="31.10" fill="#eeeeee" fill-opacity="0.45"/>
<rect x="353.40" y="432.40" width="1.0" height="31.10" fill="#eeeeee" fill-opacity="0.45"/>
<rect x="362.07" y="432.40" width="1.0" height="31.10" fill="#eeeeee" fill-opacity="0.45"/>
<rect x="370.75" y="432.40" width="1.0" height="31.10" fill="#eeeeee" fill-opacity="0.45"/>
<rect x="379.43" y="432.40" width="1.0" height="31.10" fill="#eeeeee" fill-opacity="0.45"/>
</g>
<rect x="319.20" y="432.40" width="69.40" height="31.10" fill="none" stroke="#3a3a3a" stroke-width="0.8"/>
<clipPath id="cl5"><rect x="319.20" y="467.60" width="69.40" height="4.20"/></clipPath>
<g clip-path="url(#cl5)">
<rect x="319.20" y="467.60" width="69.40" height="4.20" fill="#eeeeee"/>
<g filter="url(#bl6)">
<rect x="319.70" y="468.60" width="7.68" height="2.10" fill="#0a0a0a" fill-opacity="1.0"/>
<rect x="328.38" y="468.60" width="7.68" height="2.10" fill="#0a0a0a" fill-opacity="1.0"/>
<rect x="337.05" y="468.60" width="7.68" height="2.10" fill="#0a0a0a" fill-opacity="1.0"/>
<rect x="345.73" y="468.60" width="7.68" height="2.10" fill="#0a0a0a" fill-opacity="1.0"/>
<rect x="354.40" y="468.60" width="7.68" height="2.10" fill="#0a0a0a" fill-opacity="1.0"/>
<rect x="363.08" y="468.60" width="7.68" height="2.10" fill="#0a0a0a" fill-opacity="1.0"/>
<rect x="371.75" y="468.60" width="7.68" height="2.10" fill="#0a0a0a" fill-opacity="1.0"/>
<rect x="380.43" y="468.60" width="7.68" height="2.10" fill="#0a0a0a" fill-opacity="1.0"/>
</g></g>
<rect x="319.20" y="467.60" width="69.40" height="4.20" fill="none" stroke="#707070" stroke-width="0.7"/>
<clipPath id="fcl16_392_390"><rect x="392.30" y="390.30" width="69.30" height="38.10"/></clipPath>
<g clip-path="url(#fcl16_392_390)">
<rect x="392.30" y="390.30" width="69.30" height="38.10" fill="#d0d0d0"/>
<g filter="url(#bl8)">
<rect x="392.30" y="390.30" width="8.66" height="38.10" fill="url(#fg17)"/>
<rect x="392.90" y="391.30" width="7.46" height="1.3" fill="#000" fill-opacity="0.01"/>
<rect x="392.90" y="394.18" width="7.46" height="1.3" fill="#fff" fill-opacity="0.05"/>
<rect x="392.90" y="396.56" width="7.46" height="1.3" fill="#fff" fill-opacity="0.09"/>
<rect x="392.90" y="398.92" width="7.46" height="1.3" fill="#fff" fill-opacity="0.10"/>
<rect x="392.90" y="401.80" width="7.46" height="1.3" fill="#fff" fill-opacity="0.14"/>
<rect x="392.90" y="404.71" width="7.46" height="1.3" fill="#fff" fill-opacity="0.03"/>
<rect x="392.90" y="407.21" width="7.46" height="1.3" fill="#000" fill-opacity="0.20"/>
<rect x="392.90" y="409.85" width="7.46" height="1.3" fill="#fff" fill-opacity="0.14"/>
<rect x="392.90" y="412.21" width="7.46" height="1.3" fill="#000" fill-opacity="0.24"/>
<rect x="392.90" y="414.96" width="7.46" height="1.3" fill="#fff" fill-opacity="0.15"/>
<rect x="392.90" y="417.17" width="7.46" height="1.3" fill="#000" fill-opacity="0.28"/>
<rect x="392.90" y="419.28" width="7.46" height="1.3" fill="#000" fill-opacity="0.05"/>
<rect x="392.80" y="418.10" width="7.66" height="4.20" rx="1.5" fill="#000000" fill-opacity="1"/>
<rect x="392.80" y="423.72" width="7.66" height="3.36" rx="1.5" fill="#0a0a0a" fill-opacity="0.95"/>
<rect x="400.96" y="390.30" width="8.66" height="38.10" fill="url(#fg18)"/>
<rect x="401.56" y="391.30" width="7.46" height="1.3" fill="#000" fill-opacity="0.22"/>
<rect x="401.56" y="394.09" width="7.46" height="1.3" fill="#000" fill-opacity="0.33"/>
<rect x="401.56" y="396.30" width="7.46" height="1.3" fill="#000" fill-opacity="0.05"/>
<rect x="401.56" y="399.06" width="7.46" height="1.3" fill="#000" fill-opacity="0.08"/>
<rect x="401.56" y="401.75" width="7.46" height="1.3" fill="#000" fill-opacity="0.16"/>
<rect x="401.56" y="404.12" width="7.46" height="1.3" fill="#000" fill-opacity="0.07"/>
<rect x="401.56" y="406.13" width="7.46" height="1.3" fill="#000" fill-opacity="0.25"/>
<rect x="401.56" y="408.48" width="7.46" height="1.3" fill="#fff" fill-opacity="0.01"/>
<rect x="401.56" y="410.67" width="7.46" height="1.3" fill="#000" fill-opacity="0.22"/>
<rect x="401.56" y="413.66" width="7.46" height="1.3" fill="#fff" fill-opacity="0.00"/>
<rect x="401.56" y="416.07" width="7.46" height="1.3" fill="#fff" fill-opacity="0.08"/>
<rect x="401.56" y="418.79" width="7.46" height="1.3" fill="#fff" fill-opacity="0.10"/>
<rect x="401.56" y="421.35" width="7.46" height="1.3" fill="#000" fill-opacity="0.02"/>
<rect x="401.46" y="418.10" width="7.66" height="4.20" rx="1.5" fill="#000000" fill-opacity="1"/>
<rect x="401.46" y="423.72" width="7.66" height="3.36" rx="1.5" fill="#3c3c3c" fill-opacity="0.8"/>
<rect x="409.62" y="390.30" width="8.66" height="38.10" fill="url(#fg19)"/>
<rect x="410.23" y="391.30" width="7.46" height="1.3" fill="#000" fill-opacity="0.12"/>
<rect x="410.23" y="393.69" width="7.46" height="1.3" fill="#000" fill-opacity="0.22"/>
<rect x="410.23" y="396.06" width="7.46" height="1.3" fill="#fff" fill-opacity="0.14"/>
<rect x="410.23" y="398.28" width="7.46" height="1.3" fill="#000" fill-opacity="0.30"/>
<rect x="410.23" y="400.61" width="7.46" height="1.3" fill="#000" fill-opacity="0.27"/>
<rect x="410.23" y="402.64" width="7.46" height="1.3" fill="#fff" fill-opacity="0.15"/>
<rect x="410.23" y="405.19" width="7.46" height="1.3" fill="#000" fill-opacity="0.35"/>
<rect x="410.23" y="407.72" width="7.46" height="1.3" fill="#000" fill-opacity="0.26"/>
<rect x="410.23" y="410.20" width="7.46" height="1.3" fill="#fff" fill-opacity="0.17"/>
<rect x="410.23" y="413.18" width="7.46" height="1.3" fill="#000" fill-opacity="0.14"/>
<rect x="410.23" y="415.96" width="7.46" height="1.3" fill="#000" fill-opacity="0.08"/>
<rect x="410.23" y="418.04" width="7.46" height="1.3" fill="#000" fill-opacity="0.14"/>
<rect x="410.23" y="420.85" width="7.46" height="1.3" fill="#fff" fill-opacity="0.08"/>
<rect x="410.12" y="418.70" width="7.66" height="4.20" rx="1.5" fill="#000000" fill-opacity="1"/>
<rect x="410.12" y="423.86" width="7.66" height="3.08" rx="1.5" fill="#a0a0a0" fill-opacity="0.6"/>
<rect x="418.29" y="390.30" width="8.66" height="38.10" fill="url(#fg20)"/>
<rect x="418.89" y="391.30" width="7.46" height="1.3" fill="#fff" fill-opacity="0.19"/>
<rect x="418.89" y="393.68" width="7.46" height="1.3" fill="#fff" fill-opacity="0.03"/>
<rect x="418.89" y="396.50" width="7.46" height="1.3" fill="#fff" fill-opacity="0.16"/>
<rect x="418.89" y="399.37" width="7.46" height="1.3" fill="#fff" fill-opacity="0.13"/>
<rect x="418.89" y="401.71" width="7.46" height="1.3" fill="#000" fill-opacity="0.15"/>
<rect x="418.89" y="404.33" width="7.46" height="1.3" fill="#000" fill-opacity="0.29"/>
<rect x="418.89" y="406.64" width="7.46" height="1.3" fill="#000" fill-opacity="0.15"/>
<rect x="418.89" y="408.84" width="7.46" height="1.3" fill="#000" fill-opacity="0.26"/>
<rect x="418.89" y="411.49" width="7.46" height="1.3" fill="#000" fill-opacity="0.19"/>
<rect x="418.89" y="413.55" width="7.46" height="1.3" fill="#fff" fill-opacity="0.09"/>
<rect x="418.89" y="416.50" width="7.46" height="1.3" fill="#000" fill-opacity="0.23"/>
<rect x="418.89" y="419.18" width="7.46" height="1.3" fill="#000" fill-opacity="0.31"/>
<rect x="418.79" y="418.96" width="7.66" height="4.48" rx="1.5" fill="#000000" fill-opacity="1"/>
<rect x="418.79" y="423.86" width="7.66" height="3.08" rx="1.5" fill="#a0a0a0" fill-opacity="0.6"/>
<rect x="426.95" y="390.30" width="8.66" height="38.10" fill="url(#fg21)"/>
<rect x="427.55" y="391.30" width="7.46" height="1.3" fill="#000" fill-opacity="0.27"/>
<rect x="427.55" y="393.94" width="7.46" height="1.3" fill="#000" fill-opacity="0.05"/>
<rect x="427.55" y="396.76" width="7.46" height="1.3" fill="#fff" fill-opacity="0.01"/>
<rect x="427.55" y="399.52" width="7.46" height="1.3" fill="#fff" fill-opacity="0.13"/>
<rect x="427.55" y="402.10" width="7.46" height="1.3" fill="#000" fill-opacity="0.23"/>
<rect x="427.55" y="404.26" width="7.46" height="1.3" fill="#fff" fill-opacity="0.12"/>
<rect x="427.55" y="407.09" width="7.46" height="1.3" fill="#fff" fill-opacity="0.00"/>
<rect x="427.55" y="410.04" width="7.46" height="1.3" fill="#fff" fill-opacity="0.09"/>
<rect x="427.55" y="412.44" width="7.46" height="1.3" fill="#000" fill-opacity="0.26"/>
<rect x="427.55" y="414.87" width="7.46" height="1.3" fill="#fff" fill-opacity="0.15"/>
<rect x="427.55" y="417.76" width="7.46" height="1.3" fill="#000" fill-opacity="0.36"/>
<rect x="427.55" y="419.76" width="7.46" height="1.3" fill="#000" fill-opacity="0.11"/>
<rect x="427.45" y="418.10" width="7.66" height="4.20" rx="1.5" fill="#000000" fill-opacity="1"/>
<rect x="427.45" y="423.72" width="7.66" height="3.36" rx="1.5" fill="#282828" fill-opacity="0.9"/>
<rect x="435.61" y="390.30" width="8.66" height="38.10" fill="url(#fg22)"/>
<rect x="436.21" y="391.30" width="7.46" height="1.3" fill="#fff" fill-opacity="0.13"/>
<rect x="436.21" y="394.14" width="7.46" height="1.3" fill="#000" fill-opacity="0.32"/>
<rect x="436.21" y="396.34" width="7.46" height="1.3" fill="#fff" fill-opacity="0.07"/>
<rect x="436.21" y="398.78" width="7.46" height="1.3" fill="#000" fill-opacity="0.18"/>
<rect x="436.21" y="401.74" width="7.46" height="1.3" fill="#000" fill-opacity="0.35"/>
<rect x="436.21" y="404.23" width="7.46" height="1.3" fill="#fff" fill-opacity="0.13"/>
<rect x="436.21" y="406.93" width="7.46" height="1.3" fill="#fff" fill-opacity="0.14"/>
<rect x="436.21" y="409.20" width="7.46" height="1.3" fill="#000" fill-opacity="0.05"/>
<rect x="436.21" y="412.18" width="7.46" height="1.3" fill="#000" fill-opacity="0.29"/>
<rect x="436.21" y="414.61" width="7.46" height="1.3" fill="#fff" fill-opacity="0.20"/>
<rect x="436.21" y="416.77" width="7.46" height="1.3" fill="#fff" fill-opacity="0.07"/>
<rect x="436.21" y="419.52" width="7.46" height="1.3" fill="#000" fill-opacity="0.22"/>
<rect x="436.11" y="418.10" width="7.66" height="4.20" rx="1.5" fill="#000000" fill-opacity="1"/>
<rect x="436.11" y="423.72" width="7.66" height="3.36" rx="1.5" fill="#3c3c3c" fill-opacity="0.8"/>
<rect x="444.28" y="390.30" width="8.66" height="38.10" fill="url(#fg23)"/>
<rect x="444.88" y="391.30" width="7.46" height="1.3" fill="#fff" fill-opacity="0.08"/>
<rect x="444.88" y="393.43" width="7.46" height="1.3" fill="#fff" fill-opacity="0.19"/>
<rect x="444.88" y="396.31" width="7.46" height="1.3" fill="#000" fill-opacity="0.09"/>
<rect x="444.88" y="398.34" width="7.46" height="1.3" fill="#fff" fill-opacity="0.08"/>
<rect x="444.88" y="400.93" width="7.46" height="1.3" fill="#fff" fill-opacity="0.06"/>
<rect x="444.88" y="403.01" width="7.46" height="1.3" fill="#000" fill-opacity="0.09"/>
<rect x="444.88" y="405.82" width="7.46" height="1.3" fill="#fff" fill-opacity="0.05"/>
<rect x="444.88" y="407.99" width="7.46" height="1.3" fill="#000" fill-opacity="0.18"/>
<rect x="444.88" y="410.44" width="7.46" height="1.3" fill="#000" fill-opacity="0.10"/>
<rect x="444.88" y="413.43" width="7.46" height="1.3" fill="#fff" fill-opacity="0.16"/>
<rect x="444.88" y="415.44" width="7.46" height="1.3" fill="#000" fill-opacity="0.01"/>
<rect x="444.88" y="417.57" width="7.46" height="1.3" fill="#fff" fill-opacity="0.12"/>
<rect x="444.88" y="420.10" width="7.46" height="1.3" fill="#fff" fill-opacity="0.14"/>
<rect x="444.78" y="418.10" width="7.66" height="4.20" rx="1.5" fill="#050505" fill-opacity="1"/>
<rect x="444.78" y="423.86" width="7.66" height="3.08" rx="1.5" fill="#969696" fill-opacity="0.6"/>
<rect x="452.94" y="390.30" width="8.66" height="38.10" fill="url(#fg24)"/>
<rect x="453.54" y="391.30" width="7.46" height="1.3" fill="#fff" fill-opacity="0.16"/>
<rect x="453.54" y="393.47" width="7.46" height="1.3" fill="#000" fill-opacity="0.32"/>
<rect x="453.54" y="396.24" width="7.46" height="1.3" fill="#000" fill-opacity="0.10"/>
<rect x="453.54" y="399.02" width="7.46" height="1.3" fill="#000" fill-opacity="0.11"/>
<rect x="453.54" y="401.43" width="7.46" height="1.3" fill="#fff" fill-opacity="0.05"/>
<rect x="453.54" y="403.80" width="7.46" height="1.3" fill="#000" fill-opacity="0.08"/>
<rect x="453.54" y="406.20" width="7.46" height="1.3" fill="#fff" fill-opacity="0.02"/>
<rect x="453.54" y="408.27" width="7.46" height="1.3" fill="#000" fill-opacity="0.10"/>
<rect x="453.54" y="410.85" width="7.46" height="1.3" fill="#fff" fill-opacity="0.02"/>
<rect x="453.54" y="413.75" width="7.46" height="1.3" fill="#000" fill-opacity="0.15"/>
<rect x="453.54" y="416.72" width="7.46" height="1.3" fill="#fff" fill-opacity="0.03"/>
<rect x="453.54" y="419.10" width="7.46" height="1.3" fill="#000" fill-opacity="0.05"/>
<rect x="453.44" y="418.10" width="7.66" height="4.20" rx="1.5" fill="#0a0a0a" fill-opacity="1"/>
<rect x="453.44" y="423.86" width="7.66" height="3.08" rx="1.5" fill="#969696" fill-opacity="0.6"/>
<ellipse cx="450.60" cy="415.60" rx="3.20" ry="2.60" fill="#fff"/>
<ellipse cx="445.00" cy="425.30" rx="2.70" ry="2.30" fill="#fff"/>
</g>
<rect x="400.46" y="390.30" width="1.0" height="38.10" fill="#eeeeee" fill-opacity="0.45"/>
<rect x="409.12" y="390.30" width="1.0" height="38.10" fill="#eeeeee" fill-opacity="0.45"/>
<rect x="417.79" y="390.30" width="1.0" height="38.10" fill="#eeeeee" fill-opacity="0.45"/>
<rect x="426.45" y="390.30" width="1.0" height="38.10" fill="#eeeeee" fill-opacity="0.45"/>
<rect x="435.11" y="390.30" width="1.0" height="38.10" fill="#eeeeee" fill-opacity="0.45"/>
<rect x="443.78" y="390.30" width="1.0" height="38.10" fill="#eeeeee" fill-opacity="0.45"/>
<rect x="452.44" y="390.30" width="1.0" height="38.10" fill="#eeeeee" fill-opacity="0.45"/>
</g>
<rect x="392.30" y="390.30" width="69.30" height="38.10" fill="none" stroke="#3a3a3a" stroke-width="0.8"/>
<clipPath id="fcl24_392_432"><rect x="392.30" y="432.40" width="69.30" height="31.10"/></clipPath>
<g clip-path="url(#fcl24_392_432)">
<rect x="392.30" y="432.40" width="69.30" height="31.10" fill="#c4c4c4"/>
<g filter="url(#bl8)">
<rect x="392.30" y="432.40" width="8.66" height="31.10" fill="url(#fg25)"/>
<rect x="392.90" y="433.40" width="7.46" height="1.3" fill="#fff" fill-opacity="0.01"/>
<rect x="392.90" y="435.42" width="7.46" height="1.3" fill="#fff" fill-opacity="0.14"/>
<rect x="392.90" y="437.78" width="7.46" height="1.3" fill="#000" fill-opacity="0.35"/>
<rect x="392.90" y="439.87" width="7.46" height="1.3" fill="#000" fill-opacity="0.17"/>
<rect x="392.90" y="442.13" width="7.46" height="1.3" fill="#fff" fill-opacity="0.11"/>
<rect x="392.90" y="444.51" width="7.46" height="1.3" fill="#fff" fill-opacity="0.15"/>
<rect x="392.90" y="446.79" width="7.46" height="1.3" fill="#000" fill-opacity="0.17"/>
<rect x="392.90" y="449.74" width="7.46" height="1.3" fill="#fff" fill-opacity="0.12"/>
<rect x="392.90" y="452.68" width="7.46" height="1.3" fill="#000" fill-opacity="0.30"/>
<rect x="392.90" y="454.74" width="7.46" height="1.3" fill="#fff" fill-opacity="0.03"/>
<rect x="392.80" y="453.00" width="7.66" height="2.80" rx="1.5" fill="#464646" fill-opacity="0.85"/>
<rect x="400.96" y="432.40" width="8.66" height="31.10" fill="url(#fg26)"/>
<rect x="401.56" y="433.40" width="7.46" height="1.3" fill="#000" fill-opacity="0.30"/>
<rect x="401.56" y="435.49" width="7.46" height="1.3" fill="#000" fill-opacity="0.18"/>
<rect x="401.56" y="437.80" width="7.46" height="1.3" fill="#fff" fill-opacity="0.01"/>
<rect x="401.56" y="440.79" width="7.46" height="1.3" fill="#000" fill-opacity="0.27"/>
<rect x="401.56" y="443.59" width="7.46" height="1.3" fill="#000" fill-opacity="0.03"/>
<rect x="401.56" y="446.45" width="7.46" height="1.3" fill="#fff" fill-opacity="0.20"/>
<rect x="401.56" y="449.37" width="7.46" height="1.3" fill="#000" fill-opacity="0.29"/>
<rect x="401.56" y="452.11" width="7.46" height="1.3" fill="#fff" fill-opacity="0.07"/>
<rect x="401.56" y="454.49" width="7.46" height="1.3" fill="#000" fill-opacity="0.34"/>
<rect x="401.46" y="453.00" width="7.66" height="2.80" rx="1.5" fill="#464646" fill-opacity="0.85"/>
<rect x="409.62" y="432.40" width="8.66" height="31.10" fill="url(#fg27)"/>
<rect x="410.23" y="433.40" width="7.46" height="1.3" fill="#000" fill-opacity="0.01"/>
<rect x="410.23" y="436.16" width="7.46" height="1.3" fill="#fff" fill-opacity="0.06"/>
<rect x="410.23" y="438.90" width="7.46" height="1.3" fill="#000" fill-opacity="0.34"/>
<rect x="410.23" y="441.84" width="7.46" height="1.3" fill="#fff" fill-opacity="0.18"/>
<rect x="410.23" y="444.19" width="7.46" height="1.3" fill="#fff" fill-opacity="0.08"/>
<rect x="410.23" y="447.13" width="7.46" height="1.3" fill="#000" fill-opacity="0.12"/>
<rect x="410.23" y="449.46" width="7.46" height="1.3" fill="#000" fill-opacity="0.02"/>
<rect x="410.23" y="452.24" width="7.46" height="1.3" fill="#000" fill-opacity="0.13"/>
<rect x="410.23" y="454.94" width="7.46" height="1.3" fill="#fff" fill-opacity="0.17"/>
<rect x="410.12" y="453.00" width="7.66" height="2.80" rx="1.5" fill="#464646" fill-opacity="0.85"/>
<rect x="418.29" y="432.40" width="8.66" height="31.10" fill="url(#fg28)"/>
<rect x="418.89" y="433.40" width="7.46" height="1.3" fill="#fff" fill-opacity="0.15"/>
<rect x="418.89" y="435.54" width="7.46" height="1.3" fill="#000" fill-opacity="0.03"/>
<rect x="418.89" y="438.37" width="7.46" height="1.3" fill="#000" fill-opacity="0.13"/>
<rect x="418.89" y="440.66" width="7.46" height="1.3" fill="#000" fill-opacity="0.20"/>
<rect x="418.89" y="443.02" width="7.46" height="1.3" fill="#000" fill-opacity="0.14"/>
<rect x="418.89" y="445.43" width="7.46" height="1.3" fill="#000" fill-opacity="0.22"/>
<rect x="418.89" y="448.03" width="7.46" height="1.3" fill="#000" fill-opacity="0.24"/>
<rect x="418.89" y="450.29" width="7.46" height="1.3" fill="#000" fill-opacity="0.10"/>
<rect x="418.89" y="453.20" width="7.46" height="1.3" fill="#000" fill-opacity="0.21"/>
<rect x="418.89" y="455.38" width="7.46" height="1.3" fill="#fff" fill-opacity="0.07"/>
<rect x="418.79" y="453.00" width="7.66" height="2.80" rx="1.5" fill="#464646" fill-opacity="0.85"/>
<rect x="426.95" y="432.40" width="8.66" height="31.10" fill="url(#fg29)"/>
<rect x="427.55" y="433.40" width="7.46" height="1.3" fill="#000" fill-opacity="0.29"/>
<rect x="427.55" y="436.37" width="7.46" height="1.3" fill="#000" fill-opacity="0.25"/>
<rect x="427.55" y="439.01" width="7.46" height="1.3" fill="#000" fill-opacity="0.23"/>
<rect x="427.55" y="441.83" width="7.46" height="1.3" fill="#000" fill-opacity="0.15"/>
<rect x="427.55" y="444.46" width="7.46" height="1.3" fill="#fff" fill-opacity="0.09"/>
<rect x="427.55" y="447.17" width="7.46" height="1.3" fill="#000" fill-opacity="0.19"/>
<rect x="427.55" y="449.47" width="7.46" height="1.3" fill="#000" fill-opacity="0.03"/>
<rect x="427.55" y="451.99" width="7.46" height="1.3" fill="#fff" fill-opacity="0.04"/>
<rect x="427.55" y="454.06" width="7.46" height="1.3" fill="#000" fill-opacity="0.32"/>
<rect x="427.55" y="456.06" width="7.46" height="1.3" fill="#fff" fill-opacity="0.09"/>
<rect x="427.45" y="453.00" width="7.66" height="2.80" rx="1.5" fill="#464646" fill-opacity="0.85"/>
<rect x="427.45" y="458.32" width="7.66" height="3.36" rx="1.5" fill="#000000" fill-opacity="1"/>
<rect x="435.61" y="432.40" width="8.66" height="31.10" fill="url(#fg30)"/>
<rect x="436.21" y="433.40" width="7.46" height="1.3" fill="#fff" fill-opacity="0.06"/>
<rect x="436.21" y="435.86" width="7.46" height="1.3" fill="#fff" fill-opacity="0.17"/>
<rect x="436.21" y="438.49" width="7.46" height="1.3" fill="#fff" fill-opacity="0.11"/>
<rect x="436.21" y="440.59" width="7.46" height="1.3" fill="#fff" fill-opacity="0.14"/>
<rect x="436.21" y="442.98" width="7.46" height="1.3" fill="#000" fill-opacity="0.34"/>
<rect x="436.21" y="445.83" width="7.46" height="1.3" fill="#000" fill-opacity="0.23"/>
<rect x="436.21" y="448.49" width="7.46" height="1.3" fill="#000" fill-opacity="0.35"/>
<rect x="436.21" y="450.93" width="7.46" height="1.3" fill="#000" fill-opacity="0.10"/>
<rect x="436.21" y="453.38" width="7.46" height="1.3" fill="#fff" fill-opacity="0.10"/>
<rect x="436.21" y="455.66" width="7.46" height="1.3" fill="#fff" fill-opacity="0.15"/>
<rect x="436.11" y="453.00" width="7.66" height="2.80" rx="1.5" fill="#464646" fill-opacity="0.85"/>
<rect x="444.28" y="432.40" width="8.66" height="31.10" fill="url(#fg31)"/>
<rect x="444.88" y="433.40" width="7.46" height="1.3" fill="#fff" fill-opacity="0.18"/>
<rect x="444.88" y="435.69" width="7.46" height="1.3" fill="#fff" fill-opacity="0.02"/>
<rect x="444.88" y="438.62" width="7.46" height="1.3" fill="#fff" fill-opacity="0.02"/>
<rect x="444.88" y="441.47" width="7.46" height="1.3" fill="#000" fill-opacity="0.31"/>
<rect x="444.88" y="444.44" width="7.46" height="1.3" fill="#000" fill-opacity="0.34"/>
<rect x="444.88" y="447.11" width="7.46" height="1.3" fill="#fff" fill-opacity="0.10"/>
<rect x="444.88" y="449.88" width="7.46" height="1.3" fill="#fff" fill-opacity="0.05"/>
<rect x="444.88" y="452.49" width="7.46" height="1.3" fill="#fff" fill-opacity="0.19"/>
<rect x="444.88" y="454.71" width="7.46" height="1.3" fill="#fff" fill-opacity="0.15"/>
<rect x="444.78" y="453.00" width="7.66" height="2.80" rx="1.5" fill="#464646" fill-opacity="0.85"/>
<rect x="452.94" y="432.40" width="8.66" height="31.10" fill="url(#fg32)"/>
<rect x="453.54" y="433.40" width="7.46" height="1.3" fill="#000" fill-opacity="0.25"/>
<rect x="453.54" y="435.86" width="7.46" height="1.3" fill="#000" fill-opacity="0.12"/>
<rect x="453.54" y="438.01" width="7.46" height="1.3" fill="#fff" fill-opacity="0.12"/>
<rect x="453.54" y="440.87" width="7.46" height="1.3" fill="#fff" fill-opacity="0.06"/>
<rect x="453.54" y="442.90" width="7.46" height="1.3" fill="#fff" fill-opacity="0.05"/>
<rect x="453.54" y="445.83" width="7.46" height="1.3" fill="#fff" fill-opacity="0.04"/>
<rect x="453.54" y="448.76" width="7.46" height="1.3" fill="#fff" fill-opacity="0.18"/>
<rect x="453.54" y="451.47" width="7.46" height="1.3" fill="#fff" fill-opacity="0.06"/>
<rect x="453.54" y="453.77" width="7.46" height="1.3" fill="#fff" fill-opacity="0.07"/>
<rect x="453.54" y="456.08" width="7.46" height="1.3" fill="#000" fill-opacity="0.21"/>
<rect x="453.44" y="453.00" width="7.66" height="2.80" rx="1.5" fill="#464646" fill-opacity="0.85"/>
<ellipse cx="410.50" cy="451.30" rx="2.20" ry="2.00" fill="#fff"/>
<ellipse cx="425.60" cy="452.00" rx="1.80" ry="1.80" fill="#fff"/>
</g>
<rect x="400.46" y="432.40" width="1.0" height="31.10" fill="#eeeeee" fill-opacity="0.45"/>
<rect x="409.12" y="432.40" width="1.0" height="31.10" fill="#eeeeee" fill-opacity="0.45"/>
<rect x="417.79" y="432.40" width="1.0" height="31.10" fill="#eeeeee" fill-opacity="0.45"/>
<rect x="426.45" y="432.40" width="1.0" height="31.10" fill="#eeeeee" fill-opacity="0.45"/>
<rect x="435.11" y="432.40" width="1.0" height="31.10" fill="#eeeeee" fill-opacity="0.45"/>
<rect x="443.78" y="432.40" width="1.0" height="31.10" fill="#eeeeee" fill-opacity="0.45"/>
<rect x="452.44" y="432.40" width="1.0" height="31.10" fill="#eeeeee" fill-opacity="0.45"/>
</g>
<rect x="392.30" y="432.40" width="69.30" height="31.10" fill="none" stroke="#3a3a3a" stroke-width="0.8"/>
<clipPath id="cl6"><rect x="392.30" y="467.60" width="69.30" height="4.00"/></clipPath>
<g clip-path="url(#cl6)">
<rect x="392.30" y="467.60" width="69.30" height="4.00" fill="#eeeeee"/>
<g filter="url(#bl6)">
<rect x="392.80" y="468.60" width="7.66" height="2.00" fill="#0a0a0a" fill-opacity="1.0"/>
<rect x="401.46" y="468.60" width="7.66" height="2.00" fill="#0a0a0a" fill-opacity="1.0"/>
<rect x="410.12" y="468.60" width="7.66" height="2.00" fill="#0a0a0a" fill-opacity="1.0"/>
<rect x="418.79" y="468.60" width="7.66" height="2.00" fill="#0a0a0a" fill-opacity="1.0"/>
<rect x="427.45" y="468.60" width="7.66" height="2.00" fill="#0a0a0a" fill-opacity="1.0"/>
<rect x="436.11" y="468.60" width="7.66" height="2.00" fill="#0a0a0a" fill-opacity="1.0"/>
<rect x="444.78" y="468.60" width="7.66" height="2.00" fill="#0a0a0a" fill-opacity="1.0"/>
<rect x="453.44" y="468.60" width="7.66" height="2.00" fill="#0a0a0a" fill-opacity="1.0"/>
</g></g>
<rect x="392.30" y="467.60" width="69.30" height="4.00" fill="none" stroke="#707070" stroke-width="0.7"/>
<text x="465.80" y="412.60" font-size="7.8">SUMO2/3</text>
<text x="465.80" y="449.50" font-size="7.8">SUMO1</text>
<text x="465.80" y="471.00" font-size="7.8">Actin</text>
<text x="355.50" y="481.00" font-size="7.6" text-anchor="middle">AMO1</text>
<text x="428.50" y="481.00" font-size="7.6" text-anchor="middle">JJN3</text>
<text x="0.20" y="504.10" font-size="12" font-weight="bold" fill="#000">E</text>
<text x="63.80" y="513.10" font-size="8.0">U266 cells</text>
<text x="115.00" y="500.60" font-size="6.0" text-anchor="middle">RNAi</text>
<text x="115.60" y="506.60" font-size="6.0" text-anchor="middle">screen</text>
<text x="115.00" y="518.40" font-size="6.2" text-anchor="middle">7712</text>
<text x="115.60" y="524.20" font-size="6.0" text-anchor="middle">genes</text>
<line x1="105.50" y1="510.40" x2="129.20" y2="510.40" stroke="#231f20" stroke-width="0.85"/>
<path d="M129,510.4 L135.6,506.4 M129,510.4 L135.6,514.4" stroke="#231f20" stroke-width="0.85" fill="none"/>
<path d="M139,504.2 L136.48,508.11 L134.38,504.71 Z" fill="#231f20"/>
<path d="M139,516.6 L134.38,516.09 L136.48,512.69 Z" fill="#231f20"/>
<text x="143.20" y="503.70" font-size="8.0">CFZ treated</text>
<text x="143.20" y="520.00" font-size="8.0">Untreated</text>
<line x1="188.80" y1="510.30" x2="195.10" y2="510.30" stroke="#231f20" stroke-width="0.9"/><path d="M198.80,510.30 L194.60,508.20 L194.60,512.40 Z" fill="#231f20"/>
<text x="201.90" y="512.30" font-size="8.35">Deep sequencing</text>
<text x="233.90" y="520.10" font-size="6.1" text-anchor="middle">Identification of CFZ</text>
<text x="234.00" y="527.30" font-size="6.15" text-anchor="middle">sensitization/resistance</text>
<rect x="175.80" y="536.10" width="88.20" height="8.30" fill="#c8102e"/>
<line x1="172.00" y1="540.25" x2="175.40" y2="540.25" stroke="#231f20" stroke-width="0.8"/>
<text x="168.40" y="542.35" font-size="7.7" text-anchor="end">Processing and activation of SUMO</text>
<text x="316.60" y="542.75" font-size="5.5" text-anchor="middle">**</text>
<rect x="175.80" y="548.32" width="82.32" height="8.30" fill="#c8102e"/>
<line x1="172.00" y1="552.47" x2="175.40" y2="552.47" stroke="#231f20" stroke-width="0.8"/>
<text x="168.40" y="554.57" font-size="7.7" text-anchor="end">SUMO is transferred from E1 to E2 UBE2I UBC9</text>
<text x="316.60" y="554.97" font-size="5.5" text-anchor="middle">**</text>
<rect x="175.80" y="560.54" width="82.32" height="8.30" fill="#c8102e"/>
<line x1="172.00" y1="564.69" x2="175.40" y2="564.69" stroke="#231f20" stroke-width="0.8"/>
<text x="168.40" y="566.79" font-size="7.7" text-anchor="end">SUMO is conjugated to E1 UBA2 SAE1</text>
<text x="316.60" y="567.19" font-size="5.5" text-anchor="middle">**</text>
<rect x="175.80" y="572.76" width="103.88" height="8.30" fill="#c8102e"/>
<line x1="172.00" y1="576.91" x2="175.40" y2="576.91" stroke="#231f20" stroke-width="0.8"/>
<text x="168.40" y="579.01" font-size="7.7" text-anchor="end">SUMOylation of ubiquitinylation proteins</text>
<text x="316.60" y="579.41" font-size="5.5" text-anchor="middle">**</text>
<rect x="175.80" y="584.98" width="106.82" height="8.30" fill="#c8102e"/>
<line x1="172.00" y1="589.13" x2="175.40" y2="589.13" stroke="#231f20" stroke-width="0.8"/>
<text x="168.40" y="591.23" font-size="7.7" text-anchor="end">SUMOylation of DNA replication proteins</text>
<text x="316.60" y="591.63" font-size="5.5" text-anchor="middle">***</text>
<rect x="175.80" y="597.20" width="109.76" height="8.30" fill="#c8102e"/>
<line x1="172.00" y1="601.35" x2="175.40" y2="601.35" stroke="#231f20" stroke-width="0.8"/>
<text x="168.40" y="603.45" font-size="7.7" text-anchor="end">SUMOylation of chromatin organization proteins</text>
<text x="316.60" y="603.85" font-size="5.5" text-anchor="middle">***</text>
<rect x="175.80" y="609.42" width="117.11" height="8.30" fill="#c8102e"/>
<line x1="172.00" y1="613.57" x2="175.40" y2="613.57" stroke="#231f20" stroke-width="0.8"/>
<text x="168.40" y="615.67" font-size="7.7" text-anchor="end">SUMOylation of DDR and repair proteins</text>
<text x="316.60" y="616.07" font-size="5.5" text-anchor="middle">***</text>
<rect x="175.80" y="621.64" width="113.19" height="8.30" fill="#c8102e"/>
<line x1="172.00" y1="625.79" x2="175.40" y2="625.79" stroke="#231f20" stroke-width="0.8"/>
<text x="168.40" y="627.89" font-size="7.7" text-anchor="end">SUMOylation of RNA binding proteins</text>
<text x="316.60" y="628.29" font-size="5.5" text-anchor="middle">***</text>
<rect x="175.80" y="633.86" width="129.85" height="8.30" fill="#c8102e"/>
<line x1="172.00" y1="638.01" x2="175.40" y2="638.01" stroke="#231f20" stroke-width="0.8"/>
<text x="168.40" y="640.11" font-size="7.7" text-anchor="end">SUMOylation</text>
<text x="316.60" y="640.51" font-size="5.5" text-anchor="middle">***</text>
<rect x="175.80" y="646.08" width="114.17" height="8.30" fill="#c8102e"/>
<line x1="172.00" y1="650.23" x2="175.40" y2="650.23" stroke="#231f20" stroke-width="0.8"/>
<text x="168.40" y="652.33" font-size="7.7" text-anchor="end">SUMOylation of SUMOylation proteins</text>
<text x="316.60" y="652.73" font-size="5.5" text-anchor="middle">***</text>
<line x1="175.40" y1="532.50" x2="175.40" y2="658.50" stroke="#231f20" stroke-width="1.25"/>
<line x1="175.00" y1="658.10" x2="328.80" y2="658.10" stroke="#231f20" stroke-width="1.25"/>
<line x1="175.40" y1="658.10" x2="175.40" y2="660.50" stroke="#231f20" stroke-width="0.8"/>
<text x="175.40" y="671.50" font-size="7.5" text-anchor="middle">0</text>
<line x1="224.40" y1="658.10" x2="224.40" y2="660.50" stroke="#231f20" stroke-width="0.8"/>
<text x="224.40" y="671.50" font-size="7.5" text-anchor="middle">1</text>
<line x1="273.40" y1="658.10" x2="273.40" y2="660.50" stroke="#231f20" stroke-width="0.8"/>
<text x="273.40" y="671.50" font-size="7.5" text-anchor="middle">2</text>
<line x1="322.40" y1="658.10" x2="322.40" y2="660.50" stroke="#231f20" stroke-width="0.8"/>
<text x="322.40" y="671.50" font-size="7.5" text-anchor="middle">3</text>
<g transform="translate(251.60,681.80) scale(0.74,1)"><text class="cd" x="0" y="0" font-size="8.8" text-anchor="middle" fill="#231f20">NES</text></g>
<text x="315.50" y="532.00" font-size="7.3" text-anchor="middle">p-adj</text>
<text x="452.30" y="547.10" font-size="7.9" text-anchor="middle">SUMOylation</text>
<line x1="391.50" y1="556.60" x2="515.30" y2="556.60" stroke="#e0566a" stroke-width="0.95" stroke-dasharray="1.1,1.1"/>
<line x1="391.50" y1="650.60" x2="515.30" y2="650.60" stroke="#e0566a" stroke-width="0.95" stroke-dasharray="1.1,1.1"/>
<line x1="390.60" y1="640.30" x2="390.60" y2="651.40" stroke="#000" stroke-width="0.7"/>
<line x1="391.20" y1="640.30" x2="391.20" y2="651.40" stroke="#000" stroke-width="0.7"/>
<line x1="391.80" y1="640.30" x2="391.80" y2="651.40" stroke="#000" stroke-width="0.7"/>
<line x1="392.40" y1="640.30" x2="392.40" y2="651.40" stroke="#000" stroke-width="0.7"/>
<line x1="393.00" y1="640.30" x2="393.00" y2="651.40" stroke="#000" stroke-width="0.7"/>
<line x1="393.60" y1="640.30" x2="393.60" y2="651.40" stroke="#000" stroke-width="0.7"/>
<line x1="394.20" y1="640.30" x2="394.20" y2="651.40" stroke="#000" stroke-width="0.7"/>
<line x1="394.60" y1="640.30" x2="394.60" y2="651.40" stroke="#000" stroke-width="0.7"/>
<line x1="396.20" y1="640.30" x2="396.20" y2="651.40" stroke="#222" stroke-width="0.7"/>
<line x1="397.80" y1="640.30" x2="397.80" y2="651.40" stroke="#222" stroke-width="0.7"/>
<line x1="400.20" y1="640.30" x2="400.20" y2="651.40" stroke="#222" stroke-width="0.7"/>
<line x1="403.50" y1="640.30" x2="403.50" y2="651.40" stroke="#555" stroke-width="0.7"/>
<line x1="407.50" y1="640.30" x2="407.50" y2="651.40" stroke="#444" stroke-width="0.7"/>
<line x1="409.00" y1="640.30" x2="409.00" y2="651.40" stroke="#555" stroke-width="0.7"/>
<line x1="416.30" y1="640.30" x2="416.30" y2="651.40" stroke="#555" stroke-width="0.7"/>
<line x1="417.10" y1="640.30" x2="417.10" y2="651.40" stroke="#444" stroke-width="0.7"/>
<line x1="418.70" y1="640.30" x2="418.70" y2="651.40" stroke="#222" stroke-width="0.7"/>
<line x1="423.50" y1="640.30" x2="423.50" y2="651.40" stroke="#444" stroke-width="0.7"/>
<line x1="424.30" y1="640.30" x2="424.30" y2="651.40" stroke="#333" stroke-width="0.7"/>
<line x1="425.10" y1="640.30" x2="425.10" y2="651.40" stroke="#333" stroke-width="0.7"/>
<line x1="433.10" y1="640.30" x2="433.10" y2="651.40" stroke="#555" stroke-width="0.7"/>
<line x1="442.00" y1="640.30" x2="442.00" y2="651.40" stroke="#333" stroke-width="0.7"/>
<line x1="442.30" y1="640.30" x2="442.30" y2="651.40" stroke="#555" stroke-width="0.7"/>
<line x1="448.50" y1="640.30" x2="448.50" y2="651.40" stroke="#222" stroke-width="0.7"/>
<line x1="479.70" y1="640.30" x2="479.70" y2="651.40" stroke="#222" stroke-width="0.7"/>
<line x1="483.80" y1="640.30" x2="483.80" y2="651.40" stroke="#555" stroke-width="0.7"/>
<line x1="485.40" y1="640.30" x2="485.40" y2="651.40" stroke="#333" stroke-width="0.7"/>
<line x1="487.00" y1="640.30" x2="487.00" y2="651.40" stroke="#555" stroke-width="0.7"/>
<line x1="492.30" y1="640.30" x2="492.30" y2="651.40" stroke="#333" stroke-width="0.7"/>
<line x1="493.00" y1="640.30" x2="493.00" y2="651.40" stroke="#333" stroke-width="0.7"/>
<line x1="495.40" y1="640.30" x2="495.40" y2="651.40" stroke="#444" stroke-width="0.7"/>
<line x1="502.30" y1="640.30" x2="502.30" y2="651.40" stroke="#444" stroke-width="0.7"/>
<line x1="503.00" y1="640.30" x2="503.00" y2="651.40" stroke="#444" stroke-width="0.7"/>
<line x1="390.00" y1="646.00" x2="515.30" y2="646.00" stroke="#231f20" stroke-width="1.3"/>
<path d="M390.20,646.00 L390.60,640.00 L391.10,619.00 L391.40,611.00 L392.20,590.00 L393.80,574.00 L395.40,565.20 L397.00,561.20 L399.40,558.00 L401.00,557.20 L403.50,558.80 L405.90,560.40 L409.00,561.20 L414.70,567.60 L418.70,570.00 L425.10,577.30 L434.00,586.90 L442.80,596.50 L449.00,604.00 L479.20,640.00 L483.00,643.00 L485.00,641.00 L487.50,644.00 L490.00,642.00 L493.00,646.00 L495.00,643.00 L497.00,645.00 L499.00,644.50 L502.00,643.50 L505.00,646.00 L507.00,645.00" stroke="#3aa33a" stroke-width="0.7" fill="none" stroke-linejoin="round"/>
<circle cx="391.40" cy="611.00" r="0.7" fill="#2a8a2a"/>
<circle cx="393.80" cy="574.00" r="0.7" fill="#2a8a2a"/>
<circle cx="397.00" cy="561.20" r="0.7" fill="#2a8a2a"/>
<circle cx="401.00" cy="557.20" r="0.7" fill="#2a8a2a"/>
<circle cx="405.90" cy="560.40" r="0.7" fill="#2a8a2a"/>
<circle cx="414.70" cy="567.60" r="0.7" fill="#2a8a2a"/>
<circle cx="425.10" cy="577.30" r="0.7" fill="#2a8a2a"/>
<circle cx="442.80" cy="596.50" r="0.7" fill="#2a8a2a"/>
<circle cx="479.20" cy="640.00" r="0.7" fill="#2a8a2a"/>
<line x1="390.00" y1="550.80" x2="390.00" y2="656.60" stroke="#231f20" stroke-width="1.25"/>
<line x1="389.60" y1="656.30" x2="513.80" y2="656.30" stroke="#231f20" stroke-width="1.25"/>
<line x1="387.30" y1="560.32" x2="390.00" y2="560.32" stroke="#231f20" stroke-width="0.8"/>
<text x="383.70" y="563.02" font-size="7.6" text-anchor="end">0.6</text>
<line x1="387.30" y1="588.88" x2="390.00" y2="588.88" stroke="#231f20" stroke-width="0.8"/>
<text x="383.70" y="591.58" font-size="7.6" text-anchor="end">0.4</text>
<line x1="387.30" y1="617.44" x2="390.00" y2="617.44" stroke="#231f20" stroke-width="0.8"/>
<text x="383.70" y="620.14" font-size="7.6" text-anchor="end">0.2</text>
<line x1="387.30" y1="646.00" x2="390.00" y2="646.00" stroke="#231f20" stroke-width="0.8"/>
<text x="383.70" y="648.70" font-size="7.6" text-anchor="end">0.0</text>
<g transform="translate(366.60,603.60) rotate(-90) scale(0.72,1)"><text class="cd" x="0" y="0" font-size="9.0" text-anchor="middle" fill="#231f20">Enrichment score</text></g>
<text x="510.50" y="566.10" font-size="7.6" text-anchor="end">p &lt; 0.001</text>
<text x="510.50" y="575.60" font-size="7.6" text-anchor="end">p-adj &lt; 0.001</text>
<text x="393.70" y="666.70" font-size="7.6">RNAi hits</text>
<text x="393.70" y="675.50" font-size="7.6">confering</text>
<text x="393.70" y="684.30" font-size="7.6">sensitivity</text>
<text x="474.00" y="666.70" font-size="7.6">RNAi hits</text>
<text x="474.00" y="675.50" font-size="7.6">confering</text>
<text x="474.00" y="684.30" font-size="7.6">resistance</text>
</svg>
</body></html>
